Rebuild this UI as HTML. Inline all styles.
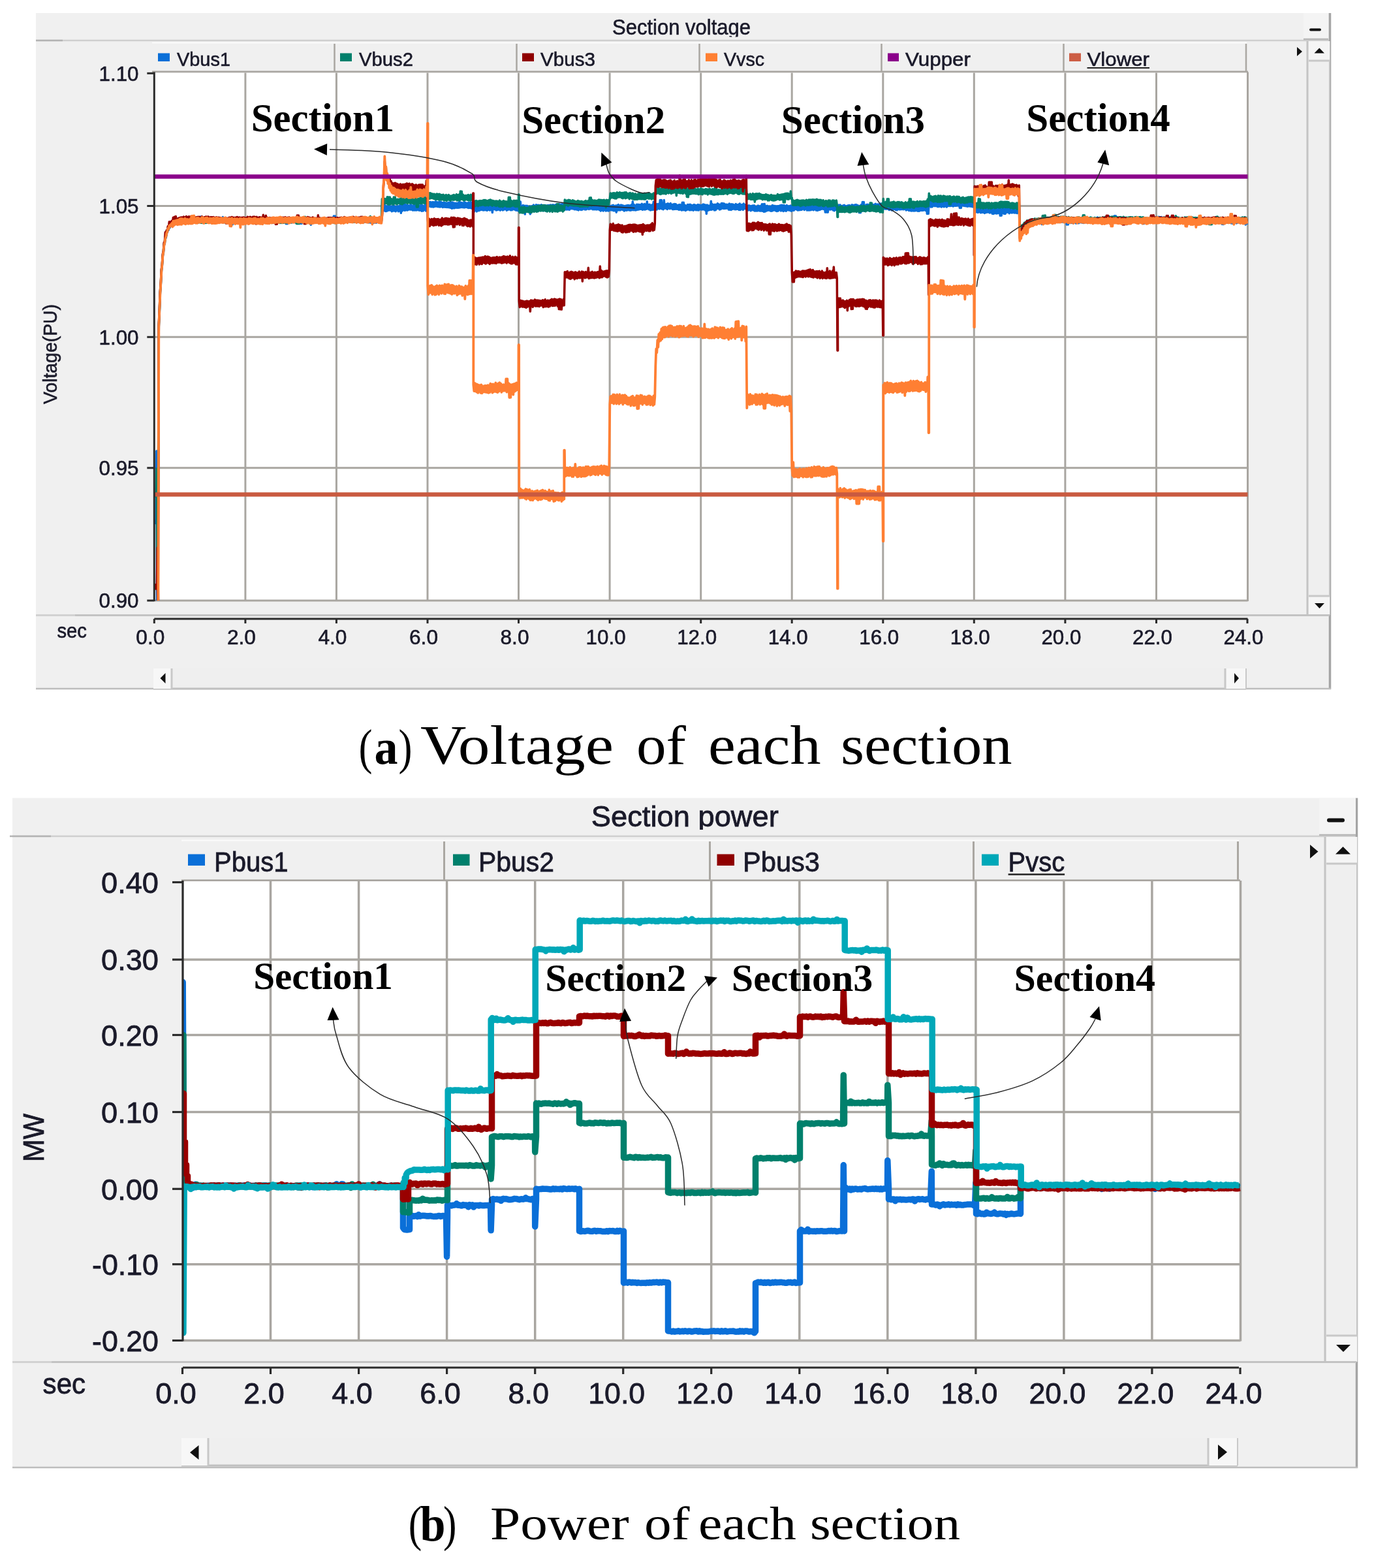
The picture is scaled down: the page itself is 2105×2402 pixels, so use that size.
<!DOCTYPE html><html><head><meta charset="utf-8"><title>Section voltage and power</title>
<style>html,body{margin:0;padding:0;background:#fff;}svg{display:block;filter:blur(0.45px);}</style></head><body>
<svg width="2105" height="2402" viewBox="0 0 2105 2402">
<rect x="0" y="0" width="2105" height="2402" fill="#ffffff"/>
<rect x="55" y="20" width="1984" height="1036" fill="#f0f0f0"/>
<line x1="55" y1="62" x2="2039" y2="62" stroke="#cfcfcf" stroke-width="2.5"/>
<line x1="55" y1="62" x2="96" y2="62" stroke="#b3b3b3" stroke-width="2.5"/>
<line x1="2037.5" y1="20" x2="2037.5" y2="1056" stroke="#a5a5a5" stroke-width="3.5"/>
<line x1="55" y1="1055" x2="2039" y2="1055" stroke="#bdbdbd" stroke-width="2.5"/>
<rect x="1997" y="20" width="38" height="40" fill="#f4f4f4"/>
<line x1="1997" y1="60" x2="2035" y2="60" stroke="#b8b8b8" stroke-width="2.5"/>
<line x1="2008" y1="45.5" x2="2022" y2="45.5" stroke="#111" stroke-width="4" stroke-linecap="round"/>
<clipPath id="clipa"><rect x="55" y="20" width="1984" height="36.5"/></clipPath>
<text x="938" y="53" font-family="'Liberation Sans', Arial, sans-serif" font-size="33" font-weight="normal" fill="#1a1a2a" text-anchor="start" textLength="212" lengthAdjust="spacingAndGlyphs" clip-path="url(#clipa)" stroke="#1a1a2a" stroke-width="0.6">Section voltage</text>
<rect x="233" y="65" width="1677" height="45" fill="#f0f0f0"/>
<line x1="233" y1="65.5" x2="1910" y2="65.5" stroke="#fbfbfb" stroke-width="2"/>
<line x1="233" y1="110" x2="1912" y2="110" stroke="#a9a6a1" stroke-width="3"/>
<line x1="512.5" y1="67" x2="512.5" y2="110" stroke="#aaa7a2" stroke-width="2.5"/>
<line x1="791.5" y1="67" x2="791.5" y2="110" stroke="#aaa7a2" stroke-width="2.5"/>
<line x1="1071.5" y1="67" x2="1071.5" y2="110" stroke="#aaa7a2" stroke-width="2.5"/>
<line x1="1350.5" y1="67" x2="1350.5" y2="110" stroke="#aaa7a2" stroke-width="2.5"/>
<line x1="1629.5" y1="67" x2="1629.5" y2="110" stroke="#aaa7a2" stroke-width="2.5"/>
<line x1="1909" y1="67" x2="1909" y2="110" stroke="#aaa7a2" stroke-width="2.5"/>
<rect x="242" y="81.5" width="18" height="12.5" fill="#0a6fd8"/>
<text x="271" y="101" font-family="'Liberation Sans', Arial, sans-serif" font-size="30" font-weight="normal" fill="#1a1a2a" text-anchor="start" textLength="82" lengthAdjust="spacingAndGlyphs" stroke="#1a1a2a" stroke-width="0.6">Vbus1</text>
<rect x="521" y="81.5" width="18" height="12.5" fill="#00806c"/>
<text x="550" y="101" font-family="'Liberation Sans', Arial, sans-serif" font-size="30" font-weight="normal" fill="#1a1a2a" text-anchor="start" textLength="83" lengthAdjust="spacingAndGlyphs" stroke="#1a1a2a" stroke-width="0.6">Vbus2</text>
<rect x="800" y="81.5" width="18" height="12.5" fill="#8f0000"/>
<text x="828" y="101" font-family="'Liberation Sans', Arial, sans-serif" font-size="30" font-weight="normal" fill="#1a1a2a" text-anchor="start" textLength="84" lengthAdjust="spacingAndGlyphs" stroke="#1a1a2a" stroke-width="0.6">Vbus3</text>
<rect x="1081" y="81.5" width="18" height="12.5" fill="#ff8033"/>
<text x="1109" y="101" font-family="'Liberation Sans', Arial, sans-serif" font-size="30" font-weight="normal" fill="#1a1a2a" text-anchor="start" textLength="62" lengthAdjust="spacingAndGlyphs" stroke="#1a1a2a" stroke-width="0.6">Vvsc</text>
<rect x="1360" y="81.5" width="17" height="12.5" fill="#8b008b"/>
<text x="1387" y="101" font-family="'Liberation Sans', Arial, sans-serif" font-size="30" font-weight="normal" fill="#1a1a2a" text-anchor="start" textLength="100" lengthAdjust="spacingAndGlyphs" stroke="#1a1a2a" stroke-width="0.6">Vupper</text>
<rect x="1638" y="81.5" width="18" height="12.5" fill="#cd5e45"/>
<text x="1665.5" y="101" font-family="'Liberation Sans', Arial, sans-serif" font-size="30" font-weight="normal" fill="#1a1a2a" text-anchor="start" textLength="95.5" lengthAdjust="spacingAndGlyphs" stroke="#1a1a2a" stroke-width="0.6">Vlower</text>
<line x1="1665.5" y1="104" x2="1761" y2="104" stroke="#222" stroke-width="2"/>
<polygon points="1987,72 1987,86 1995,79" fill="#111"/>
<rect x="2003" y="63" width="35" height="879" fill="#efefef"/>
<line x1="2003" y1="63" x2="2003" y2="942" stroke="#c4c4c4" stroke-width="3"/>
<line x1="2037" y1="63" x2="2037" y2="942" stroke="#c4c4c4" stroke-width="2"/>
<rect x="2005" y="63" width="32" height="30" fill="#f5f5f5"/>
<line x1="2005" y1="93" x2="2037" y2="93" stroke="#c8c8c8" stroke-width="3"/>
<rect x="2005" y="913" width="32" height="29" fill="#f5f5f5"/>
<line x1="2005" y1="913" x2="2037" y2="913" stroke="#c8c8c8" stroke-width="3"/>
<polygon points="2013.5,81.5 2029,81.5 2021.3,73.5" fill="#111"/>
<polygon points="2014,924 2029,924 2021.5,932" fill="#111"/>
<line x1="55" y1="942.5" x2="2037" y2="942.5" stroke="#c3c3c3" stroke-width="3"/>
<line x1="55" y1="942.5" x2="115" y2="942.5" stroke="#d2d2d2" stroke-width="3"/>
<rect x="235" y="1024" width="1674" height="31" fill="#efefef"/>
<line x1="235" y1="1055" x2="1909" y2="1055" stroke="#c0c0c0" stroke-width="3"/>
<rect x="235" y="1024" width="28" height="31" fill="#f7f7f7"/>
<line x1="263" y1="1024" x2="263" y2="1055" stroke="#c8c8c8" stroke-width="3"/>
<rect x="1877" y="1024" width="32" height="31" fill="#f7f7f7"/>
<line x1="1877" y1="1024" x2="1877" y2="1055" stroke="#c8c8c8" stroke-width="3"/>
<line x1="1909" y1="1024" x2="1909" y2="1055" stroke="#c8c8c8" stroke-width="2"/>
<polygon points="253.5,1031 253.5,1047 245.5,1039" fill="#111"/>
<polygon points="1891,1031 1891,1047 1898,1039" fill="#111"/>
<rect x="236.3" y="111.5" width="1675.2" height="808.5" fill="#ffffff"/>
<line x1="375.9" y1="111.5" x2="375.9" y2="920" stroke="#a9a6a1" stroke-width="3"/>
<line x1="515.4" y1="111.5" x2="515.4" y2="920" stroke="#a9a6a1" stroke-width="3"/>
<line x1="655" y1="111.5" x2="655" y2="920" stroke="#a9a6a1" stroke-width="3"/>
<line x1="794.5" y1="111.5" x2="794.5" y2="920" stroke="#a9a6a1" stroke-width="3"/>
<line x1="934.1" y1="111.5" x2="934.1" y2="920" stroke="#a9a6a1" stroke-width="3"/>
<line x1="1073.7" y1="111.5" x2="1073.7" y2="920" stroke="#a9a6a1" stroke-width="3"/>
<line x1="1213.2" y1="111.5" x2="1213.2" y2="920" stroke="#a9a6a1" stroke-width="3"/>
<line x1="1352.8" y1="111.5" x2="1352.8" y2="920" stroke="#a9a6a1" stroke-width="3"/>
<line x1="1492.3" y1="111.5" x2="1492.3" y2="920" stroke="#a9a6a1" stroke-width="3"/>
<line x1="1631.9" y1="111.5" x2="1631.9" y2="920" stroke="#a9a6a1" stroke-width="3"/>
<line x1="1771.5" y1="111.5" x2="1771.5" y2="920" stroke="#a9a6a1" stroke-width="3"/>
<line x1="236.3" y1="315.5" x2="1911.5" y2="315.5" stroke="#a9a6a1" stroke-width="3"/>
<line x1="236.3" y1="516.3" x2="1911.5" y2="516.3" stroke="#a9a6a1" stroke-width="3"/>
<line x1="236.3" y1="716.8" x2="1911.5" y2="716.8" stroke="#a9a6a1" stroke-width="3"/>
<line x1="1911.5" y1="110.5" x2="1911.5" y2="921" stroke="#a9a6a1" stroke-width="3"/>
<line x1="236.3" y1="920" x2="1911.5" y2="920" stroke="#a9a6a1" stroke-width="3"/>
<rect x="19" y="1222.5" width="2061" height="1026.5" fill="#f0f0f0"/>
<line x1="19" y1="1281" x2="2080" y2="1281" stroke="#cfcfcf" stroke-width="2.5"/>
<line x1="15" y1="1281" x2="78" y2="1281" stroke="#b3b3b3" stroke-width="2.5"/>
<line x1="2078.5" y1="1222.5" x2="2078.5" y2="2249" stroke="#a5a5a5" stroke-width="3.5"/>
<line x1="19" y1="2248" x2="2080" y2="2248" stroke="#bdbdbd" stroke-width="2.5"/>
<rect x="2021" y="1222.5" width="56" height="56.5" fill="#f4f4f4"/>
<line x1="2021" y1="1279" x2="2077" y2="1279" stroke="#b8b8b8" stroke-width="2.5"/>
<line x1="2036" y1="1256.5" x2="2057" y2="1256.5" stroke="#111" stroke-width="6" stroke-linecap="round"/>
<clipPath id="clipb"><rect x="19" y="1222.5" width="2061" height="48.5"/></clipPath>
<text x="905.8" y="1266.2" font-family="'Liberation Sans', Arial, sans-serif" font-size="43.5" font-weight="normal" fill="#1a1a2a" text-anchor="start" textLength="287" lengthAdjust="spacingAndGlyphs" clip-path="url(#clipb)" stroke="#1a1a2a" stroke-width="0.8">Section power</text>
<rect x="278" y="1287" width="1620" height="62" fill="#f0f0f0"/>
<line x1="278" y1="1287.5" x2="1898" y2="1287.5" stroke="#fbfbfb" stroke-width="2"/>
<line x1="278" y1="1349" x2="1900" y2="1349" stroke="#a9a6a1" stroke-width="3.5"/>
<line x1="680.5" y1="1289" x2="680.5" y2="1349" stroke="#aaa7a2" stroke-width="3"/>
<line x1="1087.5" y1="1289" x2="1087.5" y2="1349" stroke="#aaa7a2" stroke-width="3"/>
<line x1="1491.5" y1="1289" x2="1491.5" y2="1349" stroke="#aaa7a2" stroke-width="3"/>
<line x1="1896.5" y1="1289" x2="1896.5" y2="1349" stroke="#aaa7a2" stroke-width="3"/>
<rect x="288" y="1308.5" width="26" height="17.5" fill="#0a6fd8"/>
<text x="328" y="1335" font-family="'Liberation Sans', Arial, sans-serif" font-size="43" font-weight="normal" fill="#1a1a2a" text-anchor="start" textLength="113.5" lengthAdjust="spacingAndGlyphs" stroke="#1a1a2a" stroke-width="0.8">Pbus1</text>
<rect x="694" y="1308.5" width="25.5" height="17.5" fill="#00806c"/>
<text x="733" y="1335" font-family="'Liberation Sans', Arial, sans-serif" font-size="43" font-weight="normal" fill="#1a1a2a" text-anchor="start" textLength="116" lengthAdjust="spacingAndGlyphs" stroke="#1a1a2a" stroke-width="0.8">Pbus2</text>
<rect x="1098.5" y="1308.5" width="26.5" height="17.5" fill="#8f0000"/>
<text x="1138" y="1335" font-family="'Liberation Sans', Arial, sans-serif" font-size="43" font-weight="normal" fill="#1a1a2a" text-anchor="start" textLength="118" lengthAdjust="spacingAndGlyphs" stroke="#1a1a2a" stroke-width="0.8">Pbus3</text>
<rect x="1504" y="1308.5" width="26" height="17.5" fill="#00a8b8"/>
<text x="1544.6" y="1335" font-family="'Liberation Sans', Arial, sans-serif" font-size="43" font-weight="normal" fill="#1a1a2a" text-anchor="start" textLength="86.5" lengthAdjust="spacingAndGlyphs" stroke="#1a1a2a" stroke-width="0.8">Pvsc</text>
<line x1="1544.6" y1="1339.5" x2="1631.1" y2="1339.5" stroke="#222" stroke-width="2.5"/>
<polygon points="2007,1294 2007,1315 2019.5,1304.5" fill="#111"/>
<rect x="2030" y="1282" width="50" height="804" fill="#efefef"/>
<line x1="2030" y1="1282" x2="2030" y2="2086" stroke="#c4c4c4" stroke-width="3"/>
<line x1="2079" y1="1282" x2="2079" y2="2086" stroke="#c4c4c4" stroke-width="2"/>
<rect x="2032" y="1282" width="47" height="41" fill="#f5f5f5"/>
<line x1="2032" y1="1323" x2="2079" y2="1323" stroke="#c8c8c8" stroke-width="3"/>
<rect x="2032" y="2046" width="47" height="40" fill="#f5f5f5"/>
<line x1="2032" y1="2046" x2="2079" y2="2046" stroke="#c8c8c8" stroke-width="3"/>
<polygon points="2046,1308.5 2069,1308.5 2057.5,1297" fill="#111"/>
<polygon points="2047,2060 2069,2060 2058,2071" fill="#111"/>
<line x1="19" y1="2086.5" x2="2078" y2="2086.5" stroke="#c3c3c3" stroke-width="3"/>
<line x1="19" y1="2086.5" x2="79" y2="2086.5" stroke="#d2d2d2" stroke-width="3"/>
<rect x="278" y="2203" width="1618" height="42" fill="#efefef"/>
<line x1="278" y1="2245" x2="1896" y2="2245" stroke="#c0c0c0" stroke-width="3"/>
<rect x="278" y="2203" width="41" height="42" fill="#f7f7f7"/>
<line x1="319" y1="2203" x2="319" y2="2245" stroke="#c8c8c8" stroke-width="3"/>
<rect x="1851" y="2203" width="45" height="42" fill="#f7f7f7"/>
<line x1="1851" y1="2203" x2="1851" y2="2245" stroke="#c8c8c8" stroke-width="3"/>
<line x1="1896" y1="2203" x2="1896" y2="2245" stroke="#c8c8c8" stroke-width="2"/>
<polygon points="304.5,2214 304.5,2236 291,2225" fill="#111"/>
<polygon points="1866,2213 1866,2236 1880,2224.5" fill="#111"/>
<rect x="280" y="1350" width="1620.5" height="703.5" fill="#ffffff"/>
<line x1="414.5" y1="1350" x2="414.5" y2="2053.5" stroke="#a9a6a1" stroke-width="3.5"/>
<line x1="549.6" y1="1350" x2="549.6" y2="2053.5" stroke="#a9a6a1" stroke-width="3.5"/>
<line x1="684.6" y1="1350" x2="684.6" y2="2053.5" stroke="#a9a6a1" stroke-width="3.5"/>
<line x1="819.7" y1="1350" x2="819.7" y2="2053.5" stroke="#a9a6a1" stroke-width="3.5"/>
<line x1="954.7" y1="1350" x2="954.7" y2="2053.5" stroke="#a9a6a1" stroke-width="3.5"/>
<line x1="1089.7" y1="1350" x2="1089.7" y2="2053.5" stroke="#a9a6a1" stroke-width="3.5"/>
<line x1="1224.8" y1="1350" x2="1224.8" y2="2053.5" stroke="#a9a6a1" stroke-width="3.5"/>
<line x1="1359.8" y1="1350" x2="1359.8" y2="2053.5" stroke="#a9a6a1" stroke-width="3.5"/>
<line x1="1494.9" y1="1350" x2="1494.9" y2="2053.5" stroke="#a9a6a1" stroke-width="3.5"/>
<line x1="1629.9" y1="1350" x2="1629.9" y2="2053.5" stroke="#a9a6a1" stroke-width="3.5"/>
<line x1="1764.9" y1="1350" x2="1764.9" y2="2053.5" stroke="#a9a6a1" stroke-width="3.5"/>
<line x1="280" y1="1470" x2="1900.5" y2="1470" stroke="#a9a6a1" stroke-width="3.5"/>
<line x1="280" y1="1585.5" x2="1900.5" y2="1585.5" stroke="#a9a6a1" stroke-width="3.5"/>
<line x1="280" y1="1703.5" x2="1900.5" y2="1703.5" stroke="#a9a6a1" stroke-width="3.5"/>
<line x1="280" y1="1821.3" x2="1900.5" y2="1821.3" stroke="#a9a6a1" stroke-width="3.5"/>
<line x1="280" y1="1936.7" x2="1900.5" y2="1936.7" stroke="#a9a6a1" stroke-width="3.5"/>
<line x1="1900.5" y1="1349" x2="1900.5" y2="2054.5" stroke="#a9a6a1" stroke-width="3.5"/>
<line x1="280" y1="2053.5" x2="1900.5" y2="2053.5" stroke="#a9a6a1" stroke-width="3.5"/>
<clipPath id="cpa"><rect x="236" y="112" width="1676" height="808"/></clipPath>
<clipPath id="cpb"><rect x="280" y="1351" width="1621" height="703"/></clipPath>
<path d="M236.3,801.5 L237.3,798.1 L238.3,801.5 L239.3,797.6 L239.8,690.9 L240.4,690.9 L240.3,802.3 L240.5,919.9 L241.1,919.9 L241.3,798 L242.3,801.9 L243.3,500.5 L244.3,478.1 L245.3,450.8 L246.3,436.2 L247.3,416.2 L248.3,407.7 L249.3,392.4 L250.3,388.2 L251.3,375.8 L252.3,373.6 L253.3,363.2 L254.3,364.3 L255.3,355.3 L256.3,356.2 L257.3,349.9 L258.3,352.1 L259.3,344.7 L260.3,348.5 L261.3,342.2 L262.3,346.3 L263.3,340.2 L264.3,343.5 L265.3,338.6 L266.3,343.3 L267.3,338 L268.3,341.5 L269.3,337.6 L270.3,341 L271.3,337.2 L272.3,341.1 L273.3,337 L274.3,341.1 L275.3,335.8 L276.3,340.6 L277.3,336.4 L278.3,341.4 L279.3,336.5 L280.3,340.4 L281.3,335.9 L282.3,340 L283.3,336.2 L284.3,341.3 L285.3,335.9 L286.3,340.8 L287.3,335.4 L288.3,341 L289.3,336 L290.3,339.9 L291.3,336.3 L292.3,339.9 L293.3,335.9 L294.3,339.6 L295.3,336.1 L296.3,339.5 L297.3,335.3 L298.3,339.7 L299.3,335.6 L300.3,340.5 L301.3,335.4 L302.3,339.4 L303.3,335.6 L304.3,340.5 L305.3,336 L306.3,340.1 L307.3,331.9 L308.3,340.4 L309.3,332 L310.3,340.1 L311.3,336.1 L312.3,340.4 L313.3,336 L314.3,340.9 L315.3,335.5 L316.3,341.1 L317.3,336.5 L318.3,340.6 L319.3,333.3 L320.3,341.1 L321.3,335.9 L322.3,340.8 L323.3,337 L324.3,341 L325.3,336.5 L326.3,341.2 L327.3,334.3 L328.3,341.6 L329.3,334.3 L330.3,341.4 L331.3,336.8 L332.3,340.8 L333.3,335.7 L334.3,340.8 L335.3,336 L336.3,340.4 L337.3,335.6 L338.3,340.3 L339.3,335.5 L340.3,340.5 L341.3,332.4 L342.3,340.6 L343.3,335.5 L344.3,340.3 L345.3,336.3 L346.3,340.8 L347.3,336.1 L348.3,341.3 L349.3,336.1 L350.3,341.3 L351.3,335.6 L352.3,340.9 L353.3,336.9 L354.3,343.8 L355.3,336 L356.3,343.8 L357.3,336.6 L358.3,341.1 L359.3,336.9 L360.3,340.7 L361.3,336 L362.3,341.1 L363.3,335.8 L364.3,341.1 L365.3,336.3 L366.3,340.9 L367.3,336.3 L368.3,341.1 L369.3,335.5 L370.3,340.8 L371.3,335.5 L372.3,340 L373.3,336.4 L374.3,339.8 L375.3,335.3 L376.3,339.8 L377.3,335.3 L378.3,340.6 L379.3,335.7 L380.3,339.8 L381.3,334.6 L382.3,339.4 L383.3,335.1 L384.3,339.3 L385.3,334.7 L386.3,341.7 L387.3,334.8 L388.3,341.7 L389.3,335.6 L390.3,340.3 L391.3,334.4 L392.3,339.4 L393.3,334.7 L394.3,339.2 L395.3,334.6 L396.3,339.5 L397.3,334.6 L398.3,340.1 L399.3,335.8 L400.3,339.8 L401.3,334.7 L402.3,340.3 L403.3,334.8 L404.3,340.4 L405.3,335.5 L406.3,340.5 L407.3,335.7 L408.3,339.5 L409.3,335.6 L410.3,339.4 L411.3,335.3 L412.3,339.4 L413.3,335.4 L414.3,339 L415.3,335.6 L416.3,339.6 L417.3,334.9 L418.3,338.9 L419.3,334.9 L420.3,339.9 L421.3,334.7 L422.3,340 L423.3,334.3 L424.3,339.6 L425.3,335 L426.3,338.9 L427.3,334.5 L428.3,339.1 L429.3,334.5 L430.3,339.9 L431.3,335.4 L432.3,339.7 L433.3,335.3 L434.3,340.5 L435.3,335.3 L436.3,340.7 L437.3,335.7 L438.3,342.7 L439.3,335.9 L440.3,342.8 L441.3,336.3 L442.3,340.8 L443.3,335.7 L444.3,340.2 L445.3,336.4 L446.3,341 L447.3,335.3 L448.3,340.7 L449.3,335.6 L450.3,340.2 L451.3,336.3 L452.3,340.7 L453.3,335.9 L454.3,340.4 L455.3,335.4 L456.3,342.4 L457.3,335.4 L458.3,342.4 L459.3,335.7 L460.3,342.2 L461.3,335.1 L462.3,342.2 L463.3,335.5 L464.3,340.4 L465.3,335.2 L466.3,339.6 L467.3,335.2 L468.3,340.5 L469.3,335.6 L470.3,340.2 L471.3,335.3 L472.3,340.5 L473.3,336.2 L474.3,340.7 L475.3,335.7 L476.3,344.2 L477.3,336.2 L478.3,340.8 L479.3,335.9 L480.3,341.2 L481.3,336.2 L482.3,340.5 L483.3,336.5 L484.3,341.2 L485.3,336 L486.3,341.1 L487.3,336.4 L488.3,340.1 L489.3,335.6 L490.3,340 L491.3,335.8 L492.3,340.7 L493.3,335.9 L494.3,340.3 L495.3,335 L496.3,339.7 L497.3,335.4 L498.3,339.5 L499.3,334.4 L500.3,339 L501.3,335.2 L502.3,339.4 L503.3,335.4 L504.3,339.8 L505.3,335.1 L506.3,339.6 L507.3,335.2 L508.3,339.3 L509.3,334.4 L510.3,339.3 L511.3,331.1 L512.3,339.8 L513.3,331.1 L514.3,339.9 L515.3,335 L516.3,339.8 L517.3,335.6 L518.3,339.2 L519.3,335.3 L520.3,340.1 L521.3,335.5 L522.3,339.5 L523.3,335.3 L524.3,339.4 L525.3,334.6 L526.3,339.5 L527.3,334.5 L528.3,339.3 L529.3,335.7 L530.3,339.2 L531.3,335.4 L532.3,340.2 L533.3,335.2 L534.3,339.7 L535.3,335.2 L536.3,339.3 L537.3,335.4 L538.3,339.7 L539.3,335.3 L540.3,339.2 L541.3,334.9 L542.3,340 L543.3,335.5 L544.3,339.8 L545.3,335 L546.3,338.9 L547.3,334.4 L548.3,340.2 L549.3,335.5 L550.3,339.4 L551.3,335 L552.3,340.3 L553.3,335 L554.3,340.2 L555.3,335.2 L556.3,340.9 L557.3,336 L558.3,340.1 L559.3,335.6 L560.3,340 L561.3,335.9 L562.3,340.4 L563.3,336.8 L564.3,340.8 L565.3,336 L566.3,340.8 L567.3,336.6 L568.3,341.2 L569.3,336.9 L570.3,341.1 L571.3,336.5 L572.3,341.4 L573.3,336.8 L574.3,340.7 L575.3,336.5 L576.3,341.1 L577.3,336.5 L578.3,340.4 L579.3,336.4 L580.3,341 L581.3,335.4 L582.3,340.2 L583.3,336.1 L584.3,341.2 L585.3,315.2 L586.3,323.4 L587.3,315.9 L588.3,322.2 L589.3,314.2 L590.3,323.6 L591.3,315.5 L592.3,323.6 L593.3,316.3 L594.3,322.5 L595.3,315.8 L596.3,321.9 L597.3,315.9 L598.3,322.2 L599.3,316.3 L600.3,323.8 L601.3,315.9 L602.3,323.1 L603.3,314.8 L604.3,322.9 L605.3,316.7 L606.3,323.8 L607.3,316.6 L608.3,322 L609.3,316 L610.3,323.7 L611.3,315.8 L612.3,322.9 L613.3,314.6 L614.3,326.3 L615.3,314.9 L616.3,323.1 L617.3,314.8 L618.3,321.8 L619.3,313.5 L620.3,322.4 L621.3,313.5 L622.3,321.8 L623.3,314.5 L624.3,322.1 L625.3,314.7 L626.3,320.9 L627.3,315 L628.3,321 L629.3,313.2 L630.3,321 L631.3,314.9 L632.3,322 L633.3,314.7 L634.3,321.9 L635.3,313.8 L636.3,322.1 L637.3,313.7 L638.3,322.1 L639.3,314 L640.3,321.5 L641.3,315.4 L642.3,322.3 L643.3,314.9 L644.3,322.2 L645.3,314.1 L646.3,323.2 L647.3,314.8 L648.3,322.9 L649.3,315.7 L650.3,321.3 L651.3,313.6 L652.3,322.9 L653.3,313.7 L654.3,321.4 L655.3,308.2 L656.3,316.8 L657.3,309.7 L658.3,315.7 L659.3,309.5 L660.3,316.7 L661.3,310 L662.3,316.8 L663.3,309.4 L664.3,317.1 L665.3,310 L666.3,316.3 L667.3,308.8 L668.3,315.9 L669.3,309.5 L670.3,316.4 L671.3,309.9 L672.3,316.8 L673.3,309 L674.3,317 L675.3,309.5 L676.3,316.5 L677.3,310.4 L678.3,317.6 L679.3,310.5 L680.3,317 L681.3,310.4 L682.3,317.3 L683.3,311.1 L684.3,317.5 L685.3,310.9 L686.3,317.5 L687.3,310.3 L688.3,317.7 L689.3,310 L690.3,318.3 L691.3,310 L692.3,319.2 L693.3,310.1 L694.3,318.8 L695.3,310.9 L696.3,318.8 L697.3,311.2 L698.3,318 L699.3,311.3 L700.3,318.3 L701.3,311.3 L702.3,318.3 L703.3,309.5 L704.3,317.9 L705.3,310 L706.3,317.5 L707.3,310.4 L708.3,317.6 L709.3,311.3 L710.3,317.8 L711.3,309.8 L712.3,317.8 L713.3,310.5 L714.3,317.2 L715.3,311.5 L716.3,318.1 L717.3,310.4 L718.3,318.6 L719.3,310.7 L720.3,318.2 L721.3,309.8 L722.3,319 L723.3,310.3 L724.3,317.5 L725.3,316 L726.3,324.2 L727.3,315.2 L728.3,322.2 L729.3,315.1 L730.3,323.9 L731.3,314.8 L732.3,322.8 L733.3,315.8 L734.3,322.5 L735.3,315.9 L736.3,321.5 L737.3,314.3 L738.3,321.3 L739.3,315.3 L740.3,322.1 L741.3,313.4 L742.3,321.8 L743.3,314.9 L744.3,321.7 L745.3,313.3 L746.3,322.4 L747.3,314.2 L748.3,321.2 L749.3,313.4 L750.3,322 L751.3,313.6 L752.3,321.6 L753.3,314.4 L754.3,325.6 L755.3,314.3 L756.3,320.6 L757.3,314 L758.3,320.7 L759.3,314.7 L760.3,321.9 L761.3,314.8 L762.3,321.6 L763.3,309.9 L764.3,320.9 L765.3,309.9 L766.3,322.2 L767.3,313.7 L768.3,320.9 L769.3,313.5 L770.3,321.9 L771.3,314.2 L772.3,320.9 L773.3,309.7 L774.3,320.6 L775.3,315.1 L776.3,322.3 L777.3,314.5 L778.3,321.3 L779.3,313.1 L780.3,320.8 L781.3,314.7 L782.3,321.8 L783.3,314.8 L784.3,321.7 L785.3,313.2 L786.3,320.6 L787.3,314.4 L788.3,321 L789.3,313.6 L790.3,322 L791.3,314 L792.3,322.3 L793.3,314.9 L794.3,322.9 L795.3,308.9 L796.3,321.5 L797.3,309.1 L798.3,323.3 L799.3,315.7 L800.3,322.8 L801.3,314.4 L802.3,323.7 L803.3,315.2 L804.3,328.1 L805.3,315.3 L806.3,322.5 L807.3,315.2 L808.3,323.8 L809.3,316.4 L810.3,323.7 L811.3,316.1 L812.3,327.8 L813.3,316.2 L814.3,323.4 L815.3,315.7 L816.3,322.5 L817.3,314.1 L818.3,322.8 L819.3,315.4 L820.3,321.2 L821.3,313.8 L822.3,321.2 L823.3,314.3 L824.3,321.2 L825.3,314.2 L826.3,321.6 L827.3,314.8 L828.3,321 L829.3,313.7 L830.3,322.2 L831.3,315.1 L832.3,322.7 L833.3,314.6 L834.3,322.1 L835.3,314.6 L836.3,323 L837.3,315.3 L838.3,322.4 L839.3,314.4 L840.3,322 L841.3,314.5 L842.3,323.4 L843.3,313.9 L844.3,322.5 L845.3,314.2 L846.3,321.7 L847.3,313.8 L848.3,322.1 L849.3,314.4 L850.3,321.5 L851.3,313.4 L852.3,322.2 L853.3,313.8 L854.3,321 L855.3,313.8 L856.3,322.2 L857.3,312.7 L858.3,321.1 L859.3,313.2 L860.3,320.9 L861.3,312.4 L862.3,320.6 L863.3,313.1 L864.3,319.9 L865.3,313.3 L866.3,320.7 L867.3,313.3 L868.3,321 L869.3,312.4 L870.3,320.8 L871.3,313.2 L872.3,321.3 L873.3,312 L874.3,319.7 L875.3,313.7 L876.3,319.8 L877.3,313.6 L878.3,319.9 L879.3,313.8 L880.3,320.7 L881.3,308.7 L882.3,320.8 L883.3,308.8 L884.3,321.2 L885.3,313.7 L886.3,321.9 L887.3,313.4 L888.3,320.8 L889.3,313 L890.3,321.5 L891.3,312.7 L892.3,321.1 L893.3,313.7 L894.3,319.9 L895.3,312.6 L896.3,320.9 L897.3,313.3 L898.3,320.8 L899.3,312.7 L900.3,319.8 L901.3,312.4 L902.3,320.4 L903.3,314 L904.3,319.7 L905.3,312.1 L906.3,319.7 L907.3,313.1 L908.3,320.7 L909.3,312.6 L910.3,320.7 L911.3,314.1 L912.3,320.8 L913.3,314.6 L914.3,321 L915.3,314.5 L916.3,320.5 L917.3,314.4 L918.3,321.5 L919.3,315.1 L920.3,323 L921.3,315.3 L922.3,322 L923.3,315.6 L924.3,323 L925.3,315 L926.3,321.8 L927.3,315.3 L928.3,323.1 L929.3,315.1 L930.3,322.5 L931.3,314.2 L932.3,323.1 L933.3,315.1 L934.3,322.1 L935.3,315.8 L936.3,321.7 L937.3,315.1 L938.3,321.9 L939.3,314.2 L940.3,322.8 L941.3,315.4 L942.3,322.7 L943.3,315.1 L944.3,325.2 L945.3,314.8 L946.3,322 L947.3,313.5 L948.3,321.7 L949.3,315 L950.3,321.9 L951.3,314 L952.3,321 L953.3,314.4 L954.3,321.6 L955.3,315.3 L956.3,322.9 L957.3,315.6 L958.3,322.1 L959.3,314.9 L960.3,322.3 L961.3,314.5 L962.3,321.6 L963.3,314.4 L964.3,322 L965.3,314.9 L966.3,322.2 L967.3,313.7 L968.3,321.5 L969.3,308.8 L970.3,321.7 L971.3,313.5 L972.3,321.8 L973.3,315.3 L974.3,321.9 L975.3,313.3 L976.3,321.3 L977.3,313.3 L978.3,321 L979.3,313.5 L980.3,320.5 L981.3,313.7 L982.3,320.3 L983.3,312.3 L984.3,321.3 L985.3,313.6 L986.3,320.8 L987.3,312.6 L988.3,321.1 L989.3,313.1 L990.3,320.3 L991.3,308.7 L992.3,319.8 L993.3,313.4 L994.3,320.7 L995.3,313.2 L996.3,321.9 L997.3,314.7 L998.3,321.5 L999.3,313.5 L1000.3,321.2 L1001.3,309.1 L1002.3,321 L1003.3,309.3 L1004.3,319.8 L1005.3,312.7 L1006.3,321 L1007.3,312.5 L1008.3,319.2 L1009.3,312.4 L1010.3,319.9 L1011.3,306.5 L1012.3,319.2 L1013.3,306.4 L1014.3,320 L1015.3,313.3 L1016.3,320.7 L1017.3,306.6 L1018.3,319.1 L1019.3,313.1 L1020.3,319.2 L1021.3,312.4 L1022.3,320.6 L1023.3,311.7 L1024.3,319 L1025.3,312.8 L1026.3,319.8 L1027.3,311.6 L1028.3,319 L1029.3,313.6 L1030.3,320.6 L1031.3,313.1 L1032.3,320.6 L1033.3,312.4 L1034.3,320.2 L1035.3,312.8 L1036.3,320.2 L1037.3,314.4 L1038.3,320.4 L1039.3,313.9 L1040.3,321.3 L1041.3,313.5 L1042.3,321.1 L1043.3,313.9 L1044.3,322 L1045.3,310.2 L1046.3,321.7 L1047.3,310.3 L1048.3,321.6 L1049.3,314.2 L1050.3,322.5 L1051.3,315.5 L1052.3,321.6 L1053.3,313.6 L1054.3,320.7 L1055.3,313.5 L1056.3,321.7 L1057.3,313.3 L1058.3,321.8 L1059.3,314.3 L1060.3,321.4 L1061.3,314.5 L1062.3,322.2 L1063.3,313.5 L1064.3,321.1 L1065.3,314.2 L1066.3,321.8 L1067.3,314.6 L1068.3,321.8 L1069.3,313.6 L1070.3,322 L1071.3,313.9 L1072.3,320.6 L1073.3,314.6 L1074.3,321.1 L1075.3,314.2 L1076.3,320.7 L1077.3,313 L1078.3,320.7 L1079.3,313.6 L1080.3,321.9 L1081.3,314.2 L1082.3,327.4 L1083.3,314.1 L1084.3,322.6 L1085.3,315.1 L1086.3,321.8 L1087.3,314.9 L1088.3,321.2 L1089.3,308.2 L1090.3,321.3 L1091.3,312.8 L1092.3,320.2 L1093.3,313.8 L1094.3,321.9 L1095.3,313.2 L1096.3,321.7 L1097.3,313.4 L1098.3,319.7 L1099.3,311.8 L1100.3,319.3 L1101.3,313 L1102.3,320.9 L1103.3,313.5 L1104.3,320.4 L1105.3,311.4 L1106.3,319.1 L1107.3,311.5 L1108.3,319.4 L1109.3,311.9 L1110.3,319.5 L1111.3,313.3 L1112.3,319.2 L1113.3,313.3 L1114.3,319 L1115.3,313.4 L1116.3,321.1 L1117.3,311.9 L1118.3,321.2 L1119.3,313.1 L1120.3,321.4 L1121.3,312.8 L1122.3,320.3 L1123.3,313.3 L1124.3,319.9 L1125.3,314.2 L1126.3,320.8 L1127.3,312.5 L1128.3,320.5 L1129.3,313.8 L1130.3,320.3 L1131.3,313.2 L1132.3,321.5 L1133.3,312.1 L1134.3,321.4 L1135.3,313.7 L1136.3,320 L1137.3,313.6 L1138.3,321.4 L1139.3,311.9 L1140.3,319.8 L1141.3,313.8 L1142.3,319.8 L1143.3,313.8 L1144.3,321.5 L1145.3,315.5 L1146.3,322 L1147.3,314.7 L1148.3,321.4 L1149.3,315.4 L1150.3,322.8 L1151.3,315.5 L1152.3,321.5 L1153.3,315.1 L1154.3,322 L1155.3,314.8 L1156.3,323 L1157.3,316.4 L1158.3,322.9 L1159.3,316.7 L1160.3,322.9 L1161.3,315.1 L1162.3,322.4 L1163.3,316.1 L1164.3,323 L1165.3,315.4 L1166.3,322.9 L1167.3,312.7 L1168.3,323.3 L1169.3,312.7 L1170.3,324.3 L1171.3,312.6 L1172.3,324.1 L1173.3,315.8 L1174.3,322.9 L1175.3,315.3 L1176.3,322.2 L1177.3,316.5 L1178.3,322.1 L1179.3,316.2 L1180.3,323 L1181.3,316.4 L1182.3,323.3 L1183.3,314.5 L1184.3,322.6 L1185.3,315.3 L1186.3,321.7 L1187.3,315.6 L1188.3,322.7 L1189.3,315.9 L1190.3,323.4 L1191.3,315.7 L1192.3,323 L1193.3,315.4 L1194.3,321.6 L1195.3,314.8 L1196.3,322.9 L1197.3,314.3 L1198.3,322.5 L1199.3,314.6 L1200.3,323.6 L1201.3,314.4 L1202.3,322.6 L1203.3,315.8 L1204.3,323.2 L1205.3,314.5 L1206.3,321.7 L1207.3,315.9 L1208.3,321.9 L1209.3,315.7 L1210.3,322.2 L1211.3,315 L1212.3,323.2 L1213.3,315.6 L1214.3,322.2 L1215.3,314.1 L1216.3,322.3 L1217.3,315 L1218.3,320.4 L1219.3,314.9 L1220.3,320.9 L1221.3,314.6 L1222.3,321.9 L1223.3,314.4 L1224.3,321.8 L1225.3,313.3 L1226.3,321.6 L1227.3,313.8 L1228.3,321.2 L1229.3,313.4 L1230.3,320.1 L1231.3,313.2 L1232.3,321.6 L1233.3,313.4 L1234.3,319.9 L1235.3,314.2 L1236.3,322 L1237.3,312.7 L1238.3,322.1 L1239.3,314.1 L1240.3,322.1 L1241.3,309.6 L1242.3,321.7 L1243.3,313.9 L1244.3,321.1 L1245.3,314 L1246.3,321.8 L1247.3,314.2 L1248.3,320.7 L1249.3,313.8 L1250.3,322.1 L1251.3,313.2 L1252.3,322.4 L1253.3,313.6 L1254.3,321.7 L1255.3,314.6 L1256.3,321.2 L1257.3,313.9 L1258.3,320.3 L1259.3,314 L1260.3,320.1 L1261.3,313.1 L1262.3,320.6 L1263.3,313.4 L1264.3,325 L1265.3,313.4 L1266.3,325.1 L1267.3,313.7 L1268.3,325.2 L1269.3,314.3 L1270.3,320.8 L1271.3,313.6 L1272.3,321 L1273.3,313.2 L1274.3,320.6 L1275.3,313.4 L1276.3,321.9 L1277.3,314.2 L1278.3,322.8 L1279.3,314.9 L1280.3,321.3 L1281.3,311.4 L1282.3,322.1 L1283.3,315.3 L1284.3,322.7 L1285.3,314.1 L1286.3,322.5 L1287.3,314.1 L1288.3,322.7 L1289.3,315.9 L1290.3,323.6 L1291.3,315.1 L1292.3,323.3 L1293.3,314.3 L1294.3,323.2 L1295.3,315.6 L1296.3,322.2 L1297.3,315.4 L1298.3,322.3 L1299.3,314.8 L1300.3,322.2 L1301.3,314.6 L1302.3,321.3 L1303.3,315.3 L1304.3,322.4 L1305.3,313.8 L1306.3,321.6 L1307.3,314.6 L1308.3,321.6 L1309.3,314 L1310.3,320.7 L1311.3,313.6 L1312.3,320.7 L1313.3,314.2 L1314.3,321.9 L1315.3,315.2 L1316.3,325.7 L1317.3,315.4 L1318.3,325.8 L1319.3,313.7 L1320.3,321 L1321.3,309.6 L1322.3,322.9 L1323.3,309.6 L1324.3,322.2 L1325.3,315.4 L1326.3,322.6 L1327.3,313.5 L1328.3,321.3 L1329.3,313.2 L1330.3,322.5 L1331.3,314.3 L1332.3,320.8 L1333.3,313 L1334.3,321.8 L1335.3,314.3 L1336.3,320.2 L1337.3,313.8 L1338.3,319.9 L1339.3,313.4 L1340.3,319.5 L1341.3,312.2 L1342.3,319.8 L1343.3,313.3 L1344.3,319.2 L1345.3,313 L1346.3,320.5 L1347.3,313.1 L1348.3,319.3 L1349.3,311.9 L1350.3,319.4 L1351.3,312.2 L1352.3,321.2 L1353.3,311.9 L1354.3,319.7 L1355.3,313.8 L1356.3,320 L1357.3,312.9 L1358.3,320.1 L1359.3,313.9 L1360.3,320 L1361.3,313.4 L1362.3,321.5 L1363.3,313.2 L1364.3,320.7 L1365.3,314.6 L1366.3,321.9 L1367.3,313.4 L1368.3,321.3 L1369.3,313.7 L1370.3,320.2 L1371.3,314.3 L1372.3,321.6 L1373.3,313.9 L1374.3,321.7 L1375.3,312.8 L1376.3,320.5 L1377.3,310.2 L1378.3,320.9 L1379.3,310.2 L1380.3,320.7 L1381.3,314.3 L1382.3,320.4 L1383.3,314.1 L1384.3,320.7 L1385.3,313.6 L1386.3,320.2 L1387.3,313.5 L1388.3,322.1 L1389.3,314.3 L1390.3,321.3 L1391.3,313.6 L1392.3,322.4 L1393.3,313.6 L1394.3,322.6 L1395.3,314.2 L1396.3,323 L1397.3,315.7 L1398.3,322.8 L1399.3,314 L1400.3,323 L1401.3,314.9 L1402.3,322.7 L1403.3,314.3 L1404.3,322.5 L1405.3,315 L1406.3,323.2 L1407.3,315.1 L1408.3,323.3 L1409.3,314.9 L1410.3,322.3 L1411.3,314.8 L1412.3,322.2 L1413.3,314.8 L1414.3,322.2 L1415.3,316 L1416.3,321.7 L1417.3,315.9 L1418.3,322.5 L1419.3,314.5 L1420.3,327.4 L1421.3,315.6 L1422.3,327.3 L1423.3,308.5 L1424.3,315.5 L1425.3,309.4 L1426.3,317 L1427.3,309.3 L1428.3,316.8 L1429.3,309.2 L1430.3,315 L1431.3,309.6 L1432.3,315.7 L1433.3,309.1 L1434.3,315.5 L1435.3,308.7 L1436.3,316.4 L1437.3,309 L1438.3,316.4 L1439.3,309.4 L1440.3,316 L1441.3,308.1 L1442.3,317.1 L1443.3,309.4 L1444.3,316.1 L1445.3,308.6 L1446.3,316.8 L1447.3,304.9 L1448.3,315.7 L1449.3,304.8 L1450.3,317 L1451.3,304.7 L1452.3,315.4 L1453.3,307.9 L1454.3,315.5 L1455.3,307.7 L1456.3,315.4 L1457.3,308.4 L1458.3,314.9 L1459.3,307.8 L1460.3,316 L1461.3,306.9 L1462.3,315.1 L1463.3,308.4 L1464.3,315.2 L1465.3,307.1 L1466.3,314.8 L1467.3,308.4 L1468.3,314.8 L1469.3,307 L1470.3,318.4 L1471.3,307.2 L1472.3,318.5 L1473.3,308.7 L1474.3,314.2 L1475.3,308.6 L1476.3,315.1 L1477.3,303.5 L1478.3,315.6 L1479.3,303.6 L1480.3,315.8 L1481.3,309.2 L1482.3,316.2 L1483.3,307.9 L1484.3,315.7 L1485.3,308.5 L1486.3,315.9 L1487.3,309.5 L1488.3,316.3 L1489.3,308 L1490.3,316.7 L1491.3,309.5 L1492.3,316.3 L1493.3,318.3 L1494.3,325.3 L1495.3,318.5 L1496.3,324.7 L1497.3,318.5 L1498.3,325.6 L1499.3,317.4 L1500.3,324.6 L1501.3,317.7 L1502.3,325.7 L1503.3,317.6 L1504.3,325.6 L1505.3,318.6 L1506.3,325.3 L1507.3,316.9 L1508.3,326.4 L1509.3,318.1 L1510.3,325.7 L1511.3,318.9 L1512.3,324.9 L1513.3,318.2 L1514.3,325 L1515.3,318.2 L1516.3,326.1 L1517.3,319.7 L1518.3,325.6 L1519.3,319.8 L1520.3,327.2 L1521.3,319.6 L1522.3,327.5 L1523.3,320.6 L1524.3,326.4 L1525.3,319.6 L1526.3,327.1 L1527.3,320 L1528.3,326.7 L1529.3,320.7 L1530.3,326.5 L1531.3,319.2 L1532.3,330.3 L1533.3,318.9 L1534.3,330.2 L1535.3,319.3 L1536.3,326.3 L1537.3,319.5 L1538.3,327.4 L1539.3,318.6 L1540.3,327.4 L1541.3,314.2 L1542.3,325.2 L1543.3,314.1 L1544.3,325.2 L1545.3,318.3 L1546.3,326.8 L1547.3,318.2 L1548.3,325.4 L1549.3,318.5 L1550.3,326.1 L1551.3,319.4 L1552.3,325.4 L1553.3,318.1 L1554.3,326 L1555.3,319.1 L1556.3,326.1 L1557.3,319.3 L1558.3,326.5 L1559.3,318.4 L1560.3,326.1 L1561.3,317.8 L1562.3,358.9 L1563.3,350.7 L1564.3,356.9 L1565.3,348.2 L1566.3,353.5 L1567.3,346.1 L1568.3,352.3 L1569.3,342.7 L1570.3,349 L1571.3,342.1 L1572.3,349.2 L1573.3,339.6 L1574.3,346.8 L1575.3,338.8 L1576.3,346.7 L1577.3,337.3 L1578.3,346.2 L1579.3,337.9 L1580.3,344.7 L1581.3,336.7 L1582.3,344.5 L1583.3,337.8 L1584.3,341.7 L1585.3,336.6 L1586.3,341 L1587.3,335.9 L1588.3,341 L1589.3,336.3 L1590.3,341.4 L1591.3,335.5 L1592.3,340.7 L1593.3,335.4 L1594.3,341.3 L1595.3,336.3 L1596.3,343.4 L1597.3,335.4 L1598.3,340.4 L1599.3,335.2 L1600.3,340.3 L1601.3,335.4 L1602.3,340.4 L1603.3,335.9 L1604.3,341.1 L1605.3,336.3 L1606.3,341.2 L1607.3,336.1 L1608.3,340.6 L1609.3,336 L1610.3,341 L1611.3,335.8 L1612.3,340.4 L1613.3,336.5 L1614.3,340.8 L1615.3,336.3 L1616.3,340.9 L1617.3,336.2 L1618.3,340 L1619.3,336.1 L1620.3,340.4 L1621.3,335.4 L1622.3,340.6 L1623.3,335.7 L1624.3,340.1 L1625.3,335.1 L1626.3,340.1 L1627.3,334.8 L1628.3,340.1 L1629.3,334.9 L1630.3,339.8 L1631.3,335.4 L1632.3,340.4 L1633.3,336.1 L1634.3,344 L1635.3,336.3 L1636.3,344.1 L1637.3,336.4 L1638.3,341.4 L1639.3,335.6 L1640.3,341.6 L1641.3,336.5 L1642.3,341.2 L1643.3,336.8 L1644.3,341.9 L1645.3,336.8 L1646.3,340.7 L1647.3,337.1 L1648.3,342 L1649.3,336.6 L1650.3,341.2 L1651.3,336.5 L1652.3,341.8 L1653.3,337 L1654.3,340.8 L1655.3,336.4 L1656.3,340.7 L1657.3,336 L1658.3,341.3 L1659.3,335.3 L1660.3,341.5 L1661.3,336.1 L1662.3,340 L1663.3,336 L1664.3,340.7 L1665.3,336 L1666.3,340.9 L1667.3,335.2 L1668.3,340.9 L1669.3,335.6 L1670.3,341.1 L1671.3,335.1 L1672.3,341.1 L1673.3,335.8 L1674.3,340.3 L1675.3,335.6 L1676.3,340.4 L1677.3,335.3 L1678.3,340.3 L1679.3,335.5 L1680.3,340.8 L1681.3,333 L1682.3,340 L1683.3,336.3 L1684.3,340.3 L1685.3,336.2 L1686.3,340 L1687.3,336 L1688.3,340 L1689.3,335.5 L1690.3,340.2 L1691.3,334.7 L1692.3,339.8 L1693.3,334.6 L1694.3,339.8 L1695.3,335.4 L1696.3,339.3 L1697.3,335 L1698.3,339.6 L1699.3,331.5 L1700.3,339.9 L1701.3,334 L1702.3,339.3 L1703.3,334.6 L1704.3,339.2 L1705.3,334.5 L1706.3,340 L1707.3,330.8 L1708.3,339.8 L1709.3,330.8 L1710.3,338.7 L1711.3,335 L1712.3,339.2 L1713.3,334.2 L1714.3,339.7 L1715.3,334.4 L1716.3,339.8 L1717.3,334.9 L1718.3,339.5 L1719.3,334.3 L1720.3,339.5 L1721.3,334.2 L1722.3,340.1 L1723.3,335.6 L1724.3,340.2 L1725.3,334.6 L1726.3,340.5 L1727.3,335.3 L1728.3,340.1 L1729.3,335.7 L1730.3,339.8 L1731.3,335.5 L1732.3,340.3 L1733.3,334.8 L1734.3,340.6 L1735.3,334.8 L1736.3,339.7 L1737.3,334.4 L1738.3,339.7 L1739.3,335.1 L1740.3,340.1 L1741.3,335.1 L1742.3,339.5 L1743.3,334.9 L1744.3,340 L1745.3,335.3 L1746.3,339.1 L1747.3,334.9 L1748.3,340.1 L1749.3,334.5 L1750.3,342.5 L1751.3,334.7 L1752.3,342.6 L1753.3,335.4 L1754.3,339.8 L1755.3,335.9 L1756.3,340.9 L1757.3,335.6 L1758.3,340.7 L1759.3,336.3 L1760.3,340.5 L1761.3,336.1 L1762.3,341 L1763.3,336.1 L1764.3,341 L1765.3,336.4 L1766.3,341.2 L1767.3,335.7 L1768.3,340.3 L1769.3,336.1 L1770.3,340.9 L1771.3,332.4 L1772.3,340.8 L1773.3,332.4 L1774.3,340.3 L1775.3,332.3 L1776.3,340.5 L1777.3,332.7 L1778.3,339.9 L1779.3,332.6 L1780.3,340.5 L1781.3,335 L1782.3,339.9 L1783.3,334.9 L1784.3,339.7 L1785.3,335.2 L1786.3,340.5 L1787.3,335.2 L1788.3,340.4 L1789.3,335.1 L1790.3,340.6 L1791.3,335.7 L1792.3,340.2 L1793.3,332.9 L1794.3,340.4 L1795.3,332.9 L1796.3,340.1 L1797.3,335.1 L1798.3,340 L1799.3,335.5 L1800.3,340.1 L1801.3,335.8 L1802.3,341 L1803.3,335.1 L1804.3,341 L1805.3,335.5 L1806.3,340.6 L1807.3,336.1 L1808.3,341 L1809.3,336 L1810.3,340.2 L1811.3,335.7 L1812.3,340.3 L1813.3,334.8 L1814.3,339.6 L1815.3,334.5 L1816.3,339.4 L1817.3,334.4 L1818.3,339.1 L1819.3,334.4 L1820.3,339.2 L1821.3,334.3 L1822.3,339.6 L1823.3,334.1 L1824.3,339.5 L1825.3,334.9 L1826.3,338.8 L1827.3,334 L1828.3,339.3 L1829.3,333.9 L1830.3,338.9 L1831.3,334.6 L1832.3,340 L1833.3,334.3 L1834.3,339.3 L1835.3,334.6 L1836.3,340.4 L1837.3,335.2 L1838.3,339.6 L1839.3,335.3 L1840.3,340.3 L1841.3,335.6 L1842.3,339.9 L1843.3,335.9 L1844.3,340.4 L1845.3,335.1 L1846.3,339.7 L1847.3,336.1 L1848.3,340.9 L1849.3,335.8 L1850.3,340.1 L1851.3,335.1 L1852.3,340.3 L1853.3,335 L1854.3,340.5 L1855.3,335.3 L1856.3,339.6 L1857.3,335.9 L1858.3,339.8 L1859.3,335.4 L1860.3,340.1 L1861.3,334.8 L1862.3,340.6 L1863.3,334.9 L1864.3,339.8 L1865.3,336 L1866.3,340.4 L1867.3,335.1 L1868.3,340.9 L1869.3,335.1 L1870.3,340.3 L1871.3,336.2 L1872.3,343.3 L1873.3,336.1 L1874.3,343.4 L1875.3,336.2 L1876.3,341 L1877.3,336.4 L1878.3,340.4 L1879.3,335.5 L1880.3,341.3 L1881.3,335.7 L1882.3,341.4 L1883.3,337 L1884.3,340.8 L1885.3,336.2 L1886.3,341.9 L1887.3,337 L1888.3,342.3 L1889.3,336.4 L1890.3,341.6 L1891.3,336.3 L1892.3,341.1 L1893.3,336.5 L1894.3,341.9 L1895.3,336.6 L1896.3,340.9 L1897.3,336.8 L1898.3,340.6 L1899.3,336 L1900.3,340.8 L1901.3,335.7 L1902.3,341.4 L1903.3,336 L1904.3,341.3 L1905.3,336.3 L1906.3,341.1 L1907.3,336.5 L1908.3,344 L1909.3,336.5 L1910.3,344" fill="none" stroke="#0a6fd8" stroke-width="3.5" stroke-linejoin="round" clip-path="url(#cpa)"/>
<path d="M236.3,760.9 L237.3,755.1 L238.3,760.5 L239.3,755.7 L240.1,718 L240.7,718 L240.3,760.2 L240.8,879.5 L241.4,879.5 L241.3,754.9 L242.3,760 L243.3,498.6 L244.3,476.3 L245.3,448.3 L246.3,434.8 L247.3,413.9 L248.3,406.5 L249.3,391 L250.3,385.7 L251.3,373.2 L252.3,371.7 L253.3,362.3 L254.3,362.5 L255.3,353.2 L256.3,355.1 L257.3,348 L258.3,351.2 L259.3,344.3 L260.3,346.9 L261.3,342 L262.3,345.1 L263.3,339.8 L264.3,343.1 L265.3,338.4 L266.3,342.1 L267.3,337.2 L268.3,342.2 L269.3,336.9 L270.3,340.6 L271.3,335.8 L272.3,341.3 L273.3,336.1 L274.3,340.8 L275.3,335.1 L276.3,342.6 L277.3,335.3 L278.3,342.4 L279.3,334.9 L280.3,340.5 L281.3,334.8 L282.3,339.3 L283.3,335.5 L284.3,339.8 L285.3,335.4 L286.3,339.5 L287.3,334.9 L288.3,340.3 L289.3,335 L290.3,340.2 L291.3,332.5 L292.3,340.6 L293.3,335.1 L294.3,340 L295.3,335 L296.3,339.9 L297.3,335.7 L298.3,340.3 L299.3,335.7 L300.3,341 L301.3,336 L302.3,341.4 L303.3,335.7 L304.3,340.7 L305.3,336 L306.3,340.6 L307.3,336.2 L308.3,341.4 L309.3,336.8 L310.3,341.5 L311.3,336 L312.3,340.7 L313.3,336.5 L314.3,341.5 L315.3,336.6 L316.3,341.4 L317.3,336.3 L318.3,340.1 L319.3,336.1 L320.3,341.2 L321.3,336.2 L322.3,340.3 L323.3,335.5 L324.3,340.1 L325.3,335.3 L326.3,340.3 L327.3,335.2 L328.3,340 L329.3,335.4 L330.3,340.3 L331.3,335.1 L332.3,340.5 L333.3,335.6 L334.3,339.8 L335.3,336 L336.3,340.4 L337.3,335.6 L338.3,339.6 L339.3,335.3 L340.3,340.4 L341.3,335.2 L342.3,340.8 L343.3,335.8 L344.3,340.7 L345.3,336.1 L346.3,340.3 L347.3,335.4 L348.3,339.8 L349.3,336.2 L350.3,340.3 L351.3,335.4 L352.3,340.1 L353.3,335.9 L354.3,340.6 L355.3,336 L356.3,340.5 L357.3,334.9 L358.3,340.4 L359.3,335.2 L360.3,339.5 L361.3,335 L362.3,339.6 L363.3,335.1 L364.3,339.5 L365.3,335.6 L366.3,340.1 L367.3,334.8 L368.3,340.1 L369.3,334.7 L370.3,339.2 L371.3,335.7 L372.3,339.3 L373.3,335.3 L374.3,339.4 L375.3,336 L376.3,340.3 L377.3,335.8 L378.3,339.9 L379.3,336.1 L380.3,340.9 L381.3,336.6 L382.3,340 L383.3,336.2 L384.3,341 L385.3,336.1 L386.3,341 L387.3,336.8 L388.3,341.8 L389.3,335.9 L390.3,341.9 L391.3,336.6 L392.3,341.2 L393.3,336.4 L394.3,341.1 L395.3,336.8 L396.3,340.9 L397.3,336.7 L398.3,340.9 L399.3,337.1 L400.3,341.3 L401.3,335.9 L402.3,341.8 L403.3,336.2 L404.3,340.5 L405.3,337.1 L406.3,341.4 L407.3,336.7 L408.3,340.6 L409.3,335.7 L410.3,340.3 L411.3,336.5 L412.3,341.3 L413.3,336.8 L414.3,340.5 L415.3,336.3 L416.3,341.5 L417.3,336.3 L418.3,340.5 L419.3,336.2 L420.3,340.6 L421.3,337 L422.3,341.3 L423.3,335.8 L424.3,341.4 L425.3,336 L426.3,340.6 L427.3,333.5 L428.3,341.5 L429.3,335.8 L430.3,341.5 L431.3,336.3 L432.3,341.5 L433.3,336.3 L434.3,341.3 L435.3,337 L436.3,340.7 L437.3,336.7 L438.3,341.4 L439.3,336 L440.3,340.9 L441.3,335.6 L442.3,340.8 L443.3,336.2 L444.3,340.8 L445.3,335.3 L446.3,340.7 L447.3,336 L448.3,339.9 L449.3,335 L450.3,339.3 L451.3,335 L452.3,340.2 L453.3,335.6 L454.3,342.4 L455.3,334.7 L456.3,342.4 L457.3,335 L458.3,342.4 L459.3,335.1 L460.3,339.7 L461.3,336.1 L462.3,339.6 L463.3,335.2 L464.3,340.7 L465.3,335.6 L466.3,340.7 L467.3,332.3 L468.3,340.5 L469.3,335.7 L470.3,341 L471.3,336.6 L472.3,340.4 L473.3,336.8 L474.3,340.1 L475.3,335.7 L476.3,340.3 L477.3,336.6 L478.3,340.3 L479.3,336.1 L480.3,340.3 L481.3,335.7 L482.3,340.3 L483.3,336.4 L484.3,340.3 L485.3,335.5 L486.3,340.1 L487.3,336.6 L488.3,340.8 L489.3,336.1 L490.3,340.8 L491.3,335.4 L492.3,341.1 L493.3,335.5 L494.3,340 L495.3,335.5 L496.3,341.2 L497.3,335.4 L498.3,341 L499.3,336.3 L500.3,340.5 L501.3,336.2 L502.3,341 L503.3,335.9 L504.3,341.6 L505.3,336.6 L506.3,340.9 L507.3,333.7 L508.3,340.4 L509.3,336 L510.3,340.9 L511.3,336.9 L512.3,341.6 L513.3,336.7 L514.3,340.6 L515.3,336.8 L516.3,341.3 L517.3,335.8 L518.3,341 L519.3,336.1 L520.3,340.5 L521.3,335.7 L522.3,340.7 L523.3,335.4 L524.3,340.8 L525.3,335.3 L526.3,340.3 L527.3,335.1 L528.3,340.7 L529.3,335.4 L530.3,340.4 L531.3,335.9 L532.3,339.8 L533.3,334.9 L534.3,339.2 L535.3,335 L536.3,339.9 L537.3,334.5 L538.3,339.5 L539.3,335.3 L540.3,339.8 L541.3,334.2 L542.3,340 L543.3,335.1 L544.3,339.4 L545.3,335.5 L546.3,339.4 L547.3,334.8 L548.3,339.1 L549.3,334.7 L550.3,339.5 L551.3,335.7 L552.3,340.2 L553.3,335.5 L554.3,340 L555.3,335.5 L556.3,340.5 L557.3,335.4 L558.3,339.5 L559.3,334.9 L560.3,339.5 L561.3,334.8 L562.3,339.4 L563.3,334.7 L564.3,340.1 L565.3,334.8 L566.3,339.5 L567.3,331.6 L568.3,339.4 L569.3,335.7 L570.3,339.2 L571.3,334.8 L572.3,339.2 L573.3,335.5 L574.3,339.6 L575.3,335.6 L576.3,339.6 L577.3,335 L578.3,339.3 L579.3,335 L580.3,340.4 L581.3,335.7 L582.3,339.9 L583.3,335.7 L584.3,339.6 L585.3,304.8 L586.3,311.8 L587.3,305.4 L588.3,311.7 L589.3,304.4 L590.3,311.5 L591.3,305 L592.3,311.4 L593.3,301.8 L594.3,313 L595.3,302 L596.3,313.2 L597.3,302.1 L598.3,312.6 L599.3,304.7 L600.3,312 L601.3,305.2 L602.3,313.4 L603.3,302 L604.3,311.8 L605.3,301.9 L606.3,311.9 L607.3,305.8 L608.3,312.7 L609.3,305.2 L610.3,311.3 L611.3,305.4 L612.3,312.1 L613.3,304.6 L614.3,312.2 L615.3,303.6 L616.3,312.8 L617.3,304.8 L618.3,311.2 L619.3,304.4 L620.3,310.4 L621.3,304.6 L622.3,310.2 L623.3,304.4 L624.3,311.4 L625.3,304.6 L626.3,310.4 L627.3,304.6 L628.3,311.3 L629.3,303 L630.3,310.7 L631.3,303.7 L632.3,311.2 L633.3,303.6 L634.3,312.4 L635.3,303.1 L636.3,310.5 L637.3,304.9 L638.3,316.9 L639.3,304.8 L640.3,316.9 L641.3,304.3 L642.3,311.8 L643.3,303.8 L644.3,311.4 L645.3,303.5 L646.3,311.4 L647.3,304 L648.3,310.7 L649.3,302.9 L650.3,311.4 L651.3,302.6 L652.3,311.6 L653.3,304.4 L654.3,310.2 L655.3,296 L656.3,303.9 L657.3,295.8 L658.3,304.2 L659.3,295.8 L660.3,303.4 L661.3,296.7 L662.3,303.5 L663.3,297.2 L664.3,304.2 L665.3,297.3 L666.3,304.9 L667.3,298.1 L668.3,305.6 L669.3,297.1 L670.3,304.9 L671.3,297.6 L672.3,305.9 L673.3,297.3 L674.3,306 L675.3,298.5 L676.3,306.1 L677.3,298.4 L678.3,305.6 L679.3,298.2 L680.3,307.1 L681.3,299.7 L682.3,306.4 L683.3,298.6 L684.3,307.5 L685.3,299.4 L686.3,305.7 L687.3,298.5 L688.3,306.2 L689.3,300 L690.3,307.3 L691.3,300.2 L692.3,305.7 L693.3,299.2 L694.3,306.2 L695.3,298.5 L696.3,306.1 L697.3,299.5 L698.3,305.4 L699.3,297.8 L700.3,307 L701.3,298.8 L702.3,306.4 L703.3,298.1 L704.3,306.9 L705.3,293.1 L706.3,305.3 L707.3,293.2 L708.3,305.5 L709.3,298.3 L710.3,306.9 L711.3,299.7 L712.3,306.4 L713.3,299.6 L714.3,305.5 L715.3,299.5 L716.3,306.3 L717.3,298.6 L718.3,307 L719.3,299.6 L720.3,307 L721.3,298.3 L722.3,306.2 L723.3,299.6 L724.3,305.9 L725.3,307.2 L726.3,316.3 L727.3,308.2 L728.3,315.7 L729.3,307.4 L730.3,314.1 L731.3,308.3 L732.3,315.7 L733.3,308 L734.3,314.6 L735.3,307.4 L736.3,314.5 L737.3,307.7 L738.3,314 L739.3,307.2 L740.3,313.5 L741.3,306.6 L742.3,314.5 L743.3,306.6 L744.3,314.8 L745.3,307.3 L746.3,314.1 L747.3,307.4 L748.3,314.8 L749.3,306.5 L750.3,313.5 L751.3,306.1 L752.3,314 L753.3,307 L754.3,315.3 L755.3,307.4 L756.3,313.7 L757.3,308.1 L758.3,314.8 L759.3,308.1 L760.3,315.5 L761.3,308 L762.3,314.6 L763.3,308.7 L764.3,315.9 L765.3,307.1 L766.3,316.5 L767.3,308.6 L768.3,316.1 L769.3,309 L770.3,316.7 L771.3,307.6 L772.3,315.2 L773.3,308.4 L774.3,315 L775.3,308.7 L776.3,316.2 L777.3,308.9 L778.3,316.3 L779.3,302.3 L780.3,316.6 L781.3,302.3 L782.3,316.3 L783.3,307.4 L784.3,315.3 L785.3,308.4 L786.3,314.7 L787.3,307.2 L788.3,315.9 L789.3,307.6 L790.3,316.6 L791.3,307.2 L792.3,316.3 L793.3,308.9 L794.3,315.6 L794.5,298 L795.1,298 L795.3,317.7 L796.3,325.7 L797.3,318.3 L798.3,325.6 L799.3,317.4 L800.3,326 L801.3,317.9 L802.3,325.9 L803.3,317.1 L804.3,325 L805.3,318.8 L806.3,324.3 L807.3,318.5 L808.3,324.4 L809.3,318.5 L810.3,325 L811.3,316.7 L812.3,325.3 L813.3,317.6 L814.3,325.4 L815.3,316.5 L816.3,323.8 L817.3,316.3 L818.3,324.3 L819.3,316 L820.3,323.4 L821.3,316.8 L822.3,324.2 L823.3,315.4 L824.3,323.8 L825.3,315.5 L826.3,322.5 L827.3,315.1 L828.3,322.9 L829.3,315.2 L830.3,322.5 L831.3,314.5 L832.3,322.8 L833.3,314.6 L834.3,322.6 L835.3,315.1 L836.3,323.1 L837.3,315.3 L838.3,324.1 L839.3,315.6 L840.3,322.5 L841.3,315.7 L842.3,324.1 L843.3,315 L844.3,322.4 L845.3,315.2 L846.3,324.5 L847.3,315.2 L848.3,322.8 L849.3,315.5 L850.3,323.8 L851.3,316.7 L852.3,323.7 L853.3,312.5 L854.3,324.2 L855.3,312.4 L856.3,323 L857.3,315.4 L858.3,322.8 L859.3,315 L860.3,322.6 L861.3,315.7 L862.3,324 L863.3,315.8 L864.3,322.2 L865.3,306.1 L866.3,314.5 L867.3,307.3 L868.3,313.7 L869.3,307.1 L870.3,315.4 L871.3,306.2 L872.3,314.3 L873.3,306.8 L874.3,313.8 L875.3,308 L876.3,314.6 L877.3,306.8 L878.3,314.9 L879.3,307.5 L880.3,315.1 L881.3,308.4 L882.3,315.1 L883.3,308.8 L884.3,315.2 L885.3,307.4 L886.3,315.6 L887.3,308.2 L888.3,316.4 L889.3,308.4 L890.3,316.2 L891.3,308.2 L892.3,316.2 L893.3,309.5 L894.3,316.1 L895.3,308.6 L896.3,315.9 L897.3,307.6 L898.3,315.7 L899.3,308.5 L900.3,316.3 L901.3,307.6 L902.3,315 L903.3,303 L904.3,314.6 L905.3,302.7 L906.3,314.9 L907.3,306.5 L908.3,314.2 L909.3,307.2 L910.3,314.3 L911.3,307.1 L912.3,313.4 L913.3,307.6 L914.3,313 L915.3,307.3 L916.3,312.9 L917.3,305.9 L918.3,314.7 L919.3,306.3 L920.3,313 L921.3,306.6 L922.3,314.4 L923.3,306.7 L924.3,314.7 L925.3,306.3 L926.3,312.9 L927.3,307.3 L928.3,317.7 L929.3,306.3 L930.3,314.3 L931.3,306.8 L932.3,313.8 L933.3,307 L934.3,304.8 L935.3,295.9 L936.3,303 L937.3,296.5 L938.3,302.7 L939.3,295.7 L940.3,303.3 L941.3,295.8 L942.3,304.1 L943.3,296.2 L944.3,304.1 L945.3,294.8 L946.3,302.3 L947.3,295.8 L948.3,301.9 L949.3,294.8 L950.3,301.8 L951.3,295.6 L952.3,303 L953.3,295.6 L954.3,303.8 L955.3,295.2 L956.3,302.7 L957.3,294.7 L958.3,303.7 L959.3,294.7 L960.3,302.9 L961.3,296.5 L962.3,302.8 L963.3,296.2 L964.3,304.7 L965.3,295.5 L966.3,303.2 L967.3,296.5 L968.3,304.4 L969.3,296 L970.3,305.1 L971.3,297.6 L972.3,305.5 L973.3,296.8 L974.3,305.3 L975.3,298.3 L976.3,305.4 L977.3,297.2 L978.3,304.7 L979.3,296.6 L980.3,304.8 L981.3,296.9 L982.3,304.9 L983.3,297.7 L984.3,304.8 L985.3,296.8 L986.3,305.1 L987.3,296.2 L988.3,305.2 L989.3,296.8 L990.3,304 L991.3,298 L992.3,303.5 L993.3,296.1 L994.3,304.3 L995.3,296.4 L996.3,303.9 L997.3,297.5 L998.3,304.9 L999.3,297.5 L1000.3,303.9 L1001.3,295.9 L1002.3,304.9 L1003.3,296 L1004.3,297.2 L1005.3,287.9 L1006.3,296.6 L1007.3,288.2 L1008.3,295.6 L1009.3,288.4 L1010.3,297 L1011.3,289.1 L1012.3,297.5 L1013.3,289.8 L1014.3,296.6 L1015.3,289.8 L1016.3,296.4 L1017.3,289.5 L1018.3,296.5 L1019.3,288.7 L1020.3,297.1 L1021.3,287.8 L1022.3,295.3 L1023.3,287.6 L1024.3,296 L1025.3,289.4 L1026.3,294.9 L1027.3,287.9 L1028.3,296.5 L1029.3,288.3 L1030.3,295.6 L1031.3,287 L1032.3,294.9 L1033.3,288.1 L1034.3,294.5 L1035.3,288.5 L1036.3,299.7 L1037.3,286.8 L1038.3,295.3 L1039.3,286.5 L1040.3,295.4 L1041.3,284.1 L1042.3,295.9 L1043.3,287.7 L1044.3,295.7 L1045.3,288.6 L1046.3,296.5 L1047.3,288.7 L1048.3,294.8 L1049.3,287.8 L1050.3,296.3 L1051.3,287.5 L1052.3,301.5 L1053.3,289.6 L1054.3,301.8 L1055.3,288.7 L1056.3,297.6 L1057.3,288.2 L1058.3,297.1 L1059.3,288.9 L1060.3,296.6 L1061.3,290 L1062.3,296.2 L1063.3,289.4 L1064.3,296.3 L1065.3,289.4 L1066.3,296.8 L1067.3,290.6 L1068.3,296.8 L1069.3,289 L1070.3,297.7 L1071.3,290.4 L1072.3,296.7 L1073.3,288.9 L1074.3,297.3 L1075.3,289.6 L1076.3,297.8 L1077.3,290.2 L1078.3,296 L1079.3,290.4 L1080.3,296.8 L1081.3,289.6 L1082.3,296.6 L1083.3,290.1 L1084.3,298.1 L1085.3,290 L1086.3,296.4 L1087.3,289.3 L1088.3,296.8 L1089.3,291.1 L1090.3,297.3 L1091.3,289.8 L1092.3,297.9 L1093.3,290.1 L1094.3,298.3 L1095.3,287 L1096.3,297.8 L1097.3,287.1 L1098.3,297.6 L1099.3,291.2 L1100.3,297.7 L1101.3,290.8 L1102.3,297 L1103.3,291.4 L1104.3,297.3 L1105.3,290.6 L1106.3,297.1 L1107.3,289.2 L1108.3,297.3 L1109.3,289.7 L1110.3,296.4 L1111.3,289.8 L1112.3,296 L1113.3,288.4 L1114.3,297.4 L1115.3,290.1 L1116.3,296 L1117.3,288 L1118.3,295.6 L1119.3,289 L1120.3,295.5 L1121.3,289.4 L1122.3,296.2 L1123.3,289.2 L1124.3,296.4 L1125.3,289.5 L1126.3,295.2 L1127.3,289.4 L1128.3,295.2 L1129.3,288.5 L1130.3,296.8 L1131.3,287.9 L1132.3,297.3 L1133.3,288.2 L1134.3,296.1 L1135.3,288.6 L1136.3,296.3 L1137.3,288.2 L1138.3,297.1 L1139.3,290.4 L1140.3,297.1 L1141.3,289.9 L1142.3,297.2 L1143.3,289.8 L1144.3,305.5 L1145.3,297.5 L1146.3,304.6 L1147.3,298.6 L1148.3,304.6 L1149.3,297 L1150.3,305.4 L1151.3,298.4 L1152.3,305.2 L1153.3,296.4 L1154.3,305.4 L1155.3,297.7 L1156.3,309.2 L1157.3,297.1 L1158.3,305.6 L1159.3,296.7 L1160.3,304.7 L1161.3,296.9 L1162.3,304 L1163.3,296.6 L1164.3,304.1 L1165.3,297.7 L1166.3,304.6 L1167.3,298.5 L1168.3,305.7 L1169.3,298.8 L1170.3,304.9 L1171.3,298.8 L1172.3,305.5 L1173.3,297.7 L1174.3,305 L1175.3,298.5 L1176.3,307.1 L1177.3,299 L1178.3,306.9 L1179.3,299.7 L1180.3,305.6 L1181.3,298.5 L1182.3,306.6 L1183.3,299.6 L1184.3,306.9 L1185.3,299.6 L1186.3,307 L1187.3,299.8 L1188.3,306.4 L1189.3,299.7 L1190.3,305.6 L1191.3,297.6 L1192.3,305 L1193.3,298.8 L1194.3,306.1 L1195.3,298.6 L1196.3,305.8 L1197.3,297.9 L1198.3,305.3 L1199.3,297.8 L1200.3,310.1 L1201.3,297.3 L1202.3,309.9 L1203.3,296.4 L1204.3,304 L1205.3,296.2 L1206.3,305.1 L1207.3,296.3 L1208.3,305.3 L1209.3,298 L1210.3,303.8 L1211.3,293 L1212.3,304.5 L1213.3,303.1 L1214.3,313.9 L1215.3,307.1 L1216.3,314.3 L1217.3,307.8 L1218.3,314.3 L1219.3,307 L1220.3,314.2 L1221.3,306.2 L1222.3,313.8 L1223.3,307.1 L1224.3,314.3 L1225.3,307.5 L1226.3,315.6 L1227.3,307.3 L1228.3,314.8 L1229.3,307.1 L1230.3,313.8 L1231.3,307 L1232.3,314 L1233.3,307.7 L1234.3,315.1 L1235.3,306.2 L1236.3,313.8 L1237.3,307.1 L1238.3,314.2 L1239.3,305.9 L1240.3,313.9 L1241.3,306.1 L1242.3,313.7 L1243.3,306.1 L1244.3,312.7 L1245.3,305.7 L1246.3,313.8 L1247.3,306 L1248.3,313.5 L1249.3,306.1 L1250.3,313.4 L1251.3,305.3 L1252.3,314.2 L1253.3,306.3 L1254.3,315 L1255.3,306.3 L1256.3,315.1 L1257.3,306.3 L1258.3,313.5 L1259.3,307.3 L1260.3,315.2 L1261.3,306.7 L1262.3,315.8 L1263.3,308.7 L1264.3,314.2 L1265.3,307.5 L1266.3,314.6 L1267.3,308.4 L1268.3,316.3 L1269.3,306.9 L1270.3,316 L1271.3,307 L1272.3,315.9 L1273.3,308.8 L1274.3,315.4 L1275.3,307 L1276.3,315.6 L1277.3,307.1 L1278.3,314.4 L1279.3,308 L1280.3,315.6 L1281.3,307 L1282.3,314.2 L1283,332.4 L1283.6,332.4 L1283.3,318.4 L1284.3,325.3 L1285.3,317.5 L1286.3,324.3 L1287.3,316.8 L1288.3,324.6 L1289.3,316.2 L1290.3,324.5 L1291.3,317.7 L1292.3,324.2 L1293.3,317.9 L1294.3,324.8 L1295.3,317.3 L1296.3,323.9 L1297.3,318.2 L1298.3,324 L1299.3,317 L1300.3,324.9 L1301.3,316.6 L1302.3,325.4 L1303.3,316.8 L1304.3,324.5 L1305.3,316.2 L1306.3,323.7 L1307.3,317.1 L1308.3,323.9 L1309.3,317.3 L1310.3,323.8 L1311.3,317.6 L1312.3,324.4 L1313.3,316.8 L1314.3,323.1 L1315.3,317.2 L1316.3,324.5 L1317.3,316.3 L1318.3,324.3 L1319.3,315.6 L1320.3,323.6 L1321.3,316.2 L1322.3,322.3 L1323.3,315.3 L1324.3,323.2 L1325.3,316.4 L1326.3,323.7 L1327.3,316 L1328.3,322.3 L1329.3,315.4 L1330.3,322.3 L1331.3,315.6 L1332.3,323.3 L1333.3,310.8 L1334.3,322.9 L1335.3,311 L1336.3,322.4 L1337.3,316 L1338.3,322.9 L1339.3,315.8 L1340.3,323.2 L1341.3,315.4 L1342.3,324 L1343.3,316.2 L1344.3,323.4 L1345.3,315.6 L1346.3,323.4 L1347.3,317.3 L1348.3,325.1 L1349.3,316.9 L1350.3,324.8 L1351.3,312 L1352.3,325.3 L1353.3,304.4 L1354.3,316.1 L1355.3,309.9 L1356.3,317.5 L1357.3,309.2 L1358.3,317.3 L1359.3,304.8 L1360.3,316 L1361.3,304.7 L1362.3,316 L1363.3,310.4 L1364.3,317.5 L1365.3,310.1 L1366.3,317.1 L1367.3,309.8 L1368.3,317.7 L1369.3,309.1 L1370.3,317.4 L1371.3,310.2 L1372.3,316.9 L1373.3,310.3 L1374.3,316.7 L1375.3,309.6 L1376.3,316.8 L1377.3,309.6 L1378.3,317.4 L1379.3,310.4 L1380.3,316.6 L1381.3,309.8 L1382.3,317.7 L1383.3,310.9 L1384.3,318.4 L1385.3,311.3 L1386.3,318 L1387.3,309.8 L1388.3,317.7 L1389.3,311.3 L1390.3,317.7 L1391.3,309.8 L1392.3,317.6 L1393.3,304.8 L1394.3,317.9 L1395.3,304.7 L1396.3,316.8 L1397.3,309.2 L1398.3,317.7 L1399.3,309 L1400.3,318.4 L1401.3,309.4 L1402.3,316.2 L1403.3,309.7 L1404.3,316.3 L1405.3,308.5 L1406.3,316.2 L1407.3,310.1 L1408.3,316.1 L1409.3,308.6 L1410.3,315.4 L1411.3,309.1 L1412.3,315.7 L1413.3,309.1 L1414.3,315.5 L1415.3,308.6 L1416.3,316.2 L1417.3,308.7 L1418.3,317 L1419.3,308 L1420.3,316.2 L1421.3,305 L1422.3,315.7 L1423.3,296.2 L1424.3,306.8 L1425.3,300.2 L1426.3,306.8 L1427.3,301.1 L1428.3,308.1 L1429.3,301.4 L1430.3,308.9 L1431.3,300.7 L1432.3,308.5 L1433.3,300.3 L1434.3,308.3 L1435.3,301.4 L1436.3,309.2 L1437.3,299.7 L1438.3,309 L1439.3,300.3 L1440.3,309.2 L1441.3,300 L1442.3,308.8 L1443.3,301.2 L1444.3,308.8 L1445.3,300 L1446.3,307.4 L1447.3,300.6 L1448.3,307.8 L1449.3,301.4 L1450.3,307.5 L1451.3,301.1 L1452.3,307.7 L1453.3,301 L1454.3,312.8 L1455.3,300.6 L1456.3,312.9 L1457.3,301.9 L1458.3,309.5 L1459.3,301.7 L1460.3,308.6 L1461.3,301 L1462.3,308.8 L1463.3,302.6 L1464.3,308.2 L1465.3,301.3 L1466.3,309.7 L1467.3,301.3 L1468.3,308.9 L1469.3,301.4 L1470.3,309.5 L1471.3,303.4 L1472.3,310.6 L1473.3,303 L1474.3,309.4 L1475.3,302.3 L1476.3,310.2 L1477.3,303.7 L1478.3,310.7 L1479.3,303.2 L1480.3,309.9 L1481.3,302.7 L1482.3,310.1 L1483.3,302 L1484.3,309 L1485.3,301.9 L1486.3,309 L1487.3,301.7 L1488.3,309 L1489.3,301.9 L1490.3,309.9 L1491.3,302.6 L1492.3,308 L1493.3,310.3 L1494.3,318.5 L1495.3,311.5 L1496.3,317.4 L1497.3,311.2 L1498.3,318 L1499.3,304.6 L1500.3,317.5 L1501.3,305 L1502.3,318.9 L1503.3,310.7 L1504.3,317.9 L1505.3,311 L1506.3,319.2 L1507.3,311 L1508.3,318.2 L1509.3,311.7 L1510.3,318.6 L1511.3,311 L1512.3,317.3 L1513.3,311 L1514.3,319.1 L1515.3,310.7 L1516.3,318.6 L1517.3,312 L1518.3,319.2 L1519.3,310.9 L1520.3,318.5 L1521.3,311.7 L1522.3,317.6 L1523.3,310.9 L1524.3,318.7 L1525.3,310.7 L1526.3,318.2 L1527.3,311.1 L1528.3,317.3 L1529.3,311.2 L1530.3,318 L1531.3,309.7 L1532.3,318.1 L1533.3,309.1 L1534.3,316.9 L1535.3,309.3 L1536.3,317.9 L1537.3,309.4 L1538.3,316.7 L1539.3,309.3 L1540.3,317.4 L1541.3,309.2 L1542.3,317.5 L1543.3,309.3 L1544.3,317.5 L1545.3,309.8 L1546.3,317.2 L1547.3,311.8 L1548.3,318.7 L1549.3,311.3 L1550.3,318.2 L1551.3,311.1 L1552.3,319.6 L1553.3,311.5 L1554.3,318.9 L1555.3,312.4 L1556.3,318.4 L1557.3,310.9 L1558.3,320.2 L1559.3,311 L1560.3,319.2 L1561.3,311.3 L1562.3,358.1 L1563.3,348.9 L1564.3,354.1 L1565.3,345.2 L1566.3,352.6 L1567.3,344.1 L1568.3,349.7 L1569.3,341.2 L1570.3,352.4 L1571.3,340.4 L1572.3,347.7 L1573.3,338.1 L1574.3,345.5 L1575.3,337.8 L1576.3,343.9 L1577.3,337.7 L1578.3,343.5 L1579.3,336 L1580.3,344 L1581.3,336.1 L1582.3,341.8 L1583.3,336 L1584.3,340.6 L1585.3,335 L1586.3,339.7 L1587.3,335.5 L1588.3,340 L1589.3,335.4 L1590.3,340.3 L1591.3,334.6 L1592.3,339.1 L1593.3,334.7 L1594.3,339.5 L1595.3,334.9 L1596.3,339.6 L1597.3,330.4 L1598.3,339 L1599.3,330.2 L1600.3,339.2 L1601.3,330.1 L1602.3,338.4 L1603.3,334.4 L1604.3,338.3 L1605.3,333.3 L1606.3,339.2 L1607.3,333.4 L1608.3,338.6 L1609.3,333.7 L1610.3,337.5 L1611.3,332.8 L1612.3,338.1 L1613.3,332.5 L1614.3,337.8 L1615.3,329.3 L1616.3,337.1 L1617.3,329.2 L1618.3,338.3 L1619.3,332.9 L1620.3,337.3 L1621.3,332.2 L1622.3,337.4 L1623.3,332.9 L1624.3,336.9 L1625.3,332.1 L1626.3,337.7 L1627.3,332.3 L1628.3,337.7 L1629.3,331.9 L1630.3,337.5 L1631.3,332.4 L1632.3,337.8 L1633.3,332.6 L1634.3,337.2 L1635.3,333.6 L1636.3,338 L1637.3,332.5 L1638.3,337.5 L1639.3,333.7 L1640.3,337.7 L1641.3,333.3 L1642.3,338.1 L1643.3,333.7 L1644.3,337.9 L1645.3,333.7 L1646.3,338.3 L1647.3,333.7 L1648.3,338.1 L1649.3,334 L1650.3,339.1 L1651.3,333.1 L1652.3,338.7 L1653.3,333 L1654.3,338.1 L1655.3,333.7 L1656.3,338.8 L1657.3,333.5 L1658.3,338 L1659.3,329.8 L1660.3,337.9 L1661.3,329.7 L1662.3,337.9 L1663.3,333 L1664.3,338.6 L1665.3,332.8 L1666.3,338.1 L1667.3,334 L1668.3,337.7 L1669.3,333.6 L1670.3,338.1 L1671.3,333.1 L1672.3,338.9 L1673.3,334.2 L1674.3,338.2 L1675.3,334.4 L1676.3,338.9 L1677.3,333.5 L1678.3,339 L1679.3,334.2 L1680.3,338.9 L1681.3,334.2 L1682.3,338.5 L1683.3,334 L1684.3,338.8 L1685.3,333.4 L1686.3,339 L1687.3,334.3 L1688.3,338.6 L1689.3,333 L1690.3,338.1 L1691.3,333.1 L1692.3,338 L1693.3,332.6 L1694.3,341.8 L1695.3,333.4 L1696.3,341.6 L1697.3,332.6 L1698.3,337.5 L1699.3,332.1 L1700.3,337.5 L1701.3,332.9 L1702.3,337.4 L1703.3,331.9 L1704.3,337.2 L1705.3,332 L1706.3,337.3 L1707.3,332.7 L1708.3,337.3 L1709.3,332.7 L1710.3,337.6 L1711.3,332.8 L1712.3,336.9 L1713.3,333 L1714.3,337.4 L1715.3,332.7 L1716.3,337.8 L1717.3,332.6 L1718.3,337 L1719.3,333.3 L1720.3,337.7 L1721.3,332.3 L1722.3,338 L1723.3,333.4 L1724.3,337.6 L1725.3,333.2 L1726.3,337.9 L1727.3,333.5 L1728.3,337.3 L1729.3,333.1 L1730.3,338 L1731.3,332.8 L1732.3,338.7 L1733.3,332.7 L1734.3,337.5 L1735.3,333 L1736.3,337.8 L1737.3,333.6 L1738.3,337.7 L1739.3,332.6 L1740.3,337.6 L1741.3,332.5 L1742.3,337.5 L1743.3,333.4 L1744.3,338.1 L1745.3,332.7 L1746.3,338.3 L1747.3,332.6 L1748.3,337.6 L1749.3,333.2 L1750.3,338.4 L1751.3,332.7 L1752.3,338.4 L1753.3,333.8 L1754.3,338.1 L1755.3,334 L1756.3,341.6 L1757.3,334.5 L1758.3,341.8 L1759.3,334.6 L1760.3,338.4 L1761.3,333.6 L1762.3,338.4 L1763.3,334.2 L1764.3,338.7 L1765.3,333.8 L1766.3,339.8 L1767.3,334.7 L1768.3,339.3 L1769.3,334.3 L1770.3,339.3 L1771.3,333.6 L1772.3,338.6 L1773.3,334.6 L1774.3,339.1 L1775.3,333.6 L1776.3,339.7 L1777.3,333.8 L1778.3,338.7 L1779.3,334.4 L1780.3,339 L1781.3,334.3 L1782.3,339.2 L1783.3,333 L1784.3,338.2 L1785.3,333.3 L1786.3,338.7 L1787.3,333.5 L1788.3,339 L1789.3,333.2 L1790.3,338.3 L1791.3,333.3 L1792.3,338.2 L1793.3,333.4 L1794.3,338.1 L1795.3,333.5 L1796.3,339 L1797.3,334.1 L1798.3,338.2 L1799.3,333.3 L1800.3,338 L1801.3,330.8 L1802.3,338.2 L1803.3,333 L1804.3,338.1 L1805.3,333.3 L1806.3,338.5 L1807.3,334 L1808.3,339.1 L1809.3,334.2 L1810.3,339.3 L1811.3,333.7 L1812.3,337.9 L1813.3,334.2 L1814.3,338.7 L1815.3,332.9 L1816.3,338.6 L1817.3,333.3 L1818.3,338 L1819.3,333 L1820.3,337.9 L1821.3,333.2 L1822.3,338.1 L1823.3,333.7 L1824.3,337.9 L1825.3,332.5 L1826.3,338.3 L1827.3,333.3 L1828.3,338.3 L1829.3,333.8 L1830.3,338.2 L1831.3,333.5 L1832.3,338.8 L1833.3,333.7 L1834.3,338 L1835.3,333.9 L1836.3,338.4 L1837.3,334.1 L1838.3,338.1 L1839.3,334 L1840.3,339.2 L1841.3,334 L1842.3,339.4 L1843.3,334.2 L1844.3,338.8 L1845.3,334.2 L1846.3,339.1 L1847.3,334.9 L1848.3,339.2 L1849.3,334.6 L1850.3,339.1 L1851.3,334.9 L1852.3,343.6 L1853.3,335.3 L1854.3,343.7 L1855.3,335 L1856.3,343.7 L1857.3,334.5 L1858.3,340.1 L1859.3,334.4 L1860.3,338.9 L1861.3,334.5 L1862.3,339.6 L1863.3,332.2 L1864.3,339.9 L1865.3,332.1 L1866.3,339.3 L1867.3,333.9 L1868.3,339.7 L1869.3,333.5 L1870.3,339 L1871.3,333.8 L1872.3,339.4 L1873.3,333.5 L1874.3,339.2 L1875.3,334.4 L1876.3,339.2 L1877.3,333.7 L1878.3,338.9 L1879.3,333.9 L1880.3,338.8 L1881.3,333.6 L1882.3,339.1 L1883.3,334.1 L1884.3,339.2 L1885.3,334.4 L1886.3,338.6 L1887.3,334.3 L1888.3,338.7 L1889.3,334.8 L1890.3,339.6 L1891.3,331.8 L1892.3,339.6 L1893.3,334.7 L1894.3,339.5 L1895.3,334.5 L1896.3,338.7 L1897.3,334.4 L1898.3,338.3 L1899.3,333.7 L1900.3,338.6 L1901.3,334.3 L1902.3,339.2 L1903.3,332.9 L1904.3,338.4 L1905.3,333.2 L1906.3,337.9 L1907.3,332.7 L1908.3,338 L1909.3,333.7 L1910.3,338.4" fill="none" stroke="#00806c" stroke-width="3.5" stroke-linejoin="round" clip-path="url(#cpa)"/>
<path d="M236.3,901.4 L237.3,895.5 L238.3,902.1 L239.3,896.3 L240.3,902 L241.2,839.1 L241.8,839.1 L241.3,895.6 L241.9,919.9 L242.5,919.9 L242.3,901.3 L243.3,496.1 L244.3,473.7 L245.3,446.5 L246.3,433.5 L247.3,412.2 L248.3,405.5 L249.3,389 L250.3,385.2 L251.3,371.5 L252.3,370.4 L253.3,355.8 L254.3,362.1 L255.3,352.8 L256.3,355.4 L257.3,346.6 L258.3,350.7 L259.3,339.8 L260.3,346.9 L261.3,339.7 L262.3,345.3 L263.3,338.3 L264.3,343.6 L265.3,333.3 L266.3,341.1 L267.3,332.2 L268.3,341.6 L269.3,331.5 L270.3,343 L271.3,335.2 L272.3,342.5 L273.3,334.2 L274.3,342 L275.3,333.6 L276.3,339.6 L277.3,333.1 L278.3,338.3 L279.3,333.1 L280.3,339.1 L281.3,332.1 L282.3,337.5 L283.3,333.1 L284.3,338.8 L285.3,331.6 L286.3,340.3 L287.3,332.4 L288.3,340.3 L289.3,331.8 L290.3,337.7 L291.3,331.9 L292.3,338.1 L293.3,332.4 L294.3,337.8 L295.3,331.7 L296.3,338.2 L297.3,333.2 L298.3,338.8 L299.3,333 L300.3,338.3 L301.3,332.8 L302.3,338.8 L303.3,332.2 L304.3,338.8 L305.3,332.2 L306.3,337.6 L307.3,333.3 L308.3,338.7 L309.3,331.7 L310.3,337.6 L311.3,333.3 L312.3,337.9 L313.3,332.7 L314.3,337.3 L315.3,332.1 L316.3,337.3 L317.3,332.1 L318.3,338.1 L319.3,332 L320.3,337.3 L321.3,333.3 L322.3,337.4 L323.3,332.6 L324.3,338.5 L325.3,332.8 L326.3,337.8 L327.3,332.6 L328.3,339.2 L329.3,333.6 L330.3,339.2 L331.3,332.7 L332.3,339.6 L333.3,333.2 L334.3,339.5 L335.3,333.3 L336.3,340.2 L337.3,333.4 L338.3,340 L339.3,334.3 L340.3,340.2 L341.3,334.5 L342.3,340.2 L343.3,334.6 L344.3,339.7 L345.3,333.6 L346.3,342 L347.3,334.2 L348.3,341.9 L349.3,334.3 L350.3,339.1 L351.3,333.3 L352.3,338.5 L353.3,333.2 L354.3,338.7 L355.3,332.4 L356.3,338.6 L357.3,333.2 L358.3,338.6 L359.3,333.5 L360.3,338.4 L361.3,333.2 L362.3,338.9 L363.3,332.5 L364.3,339.1 L365.3,333.3 L366.3,338.3 L367.3,333.1 L368.3,338.5 L369.3,333.4 L370.3,338.6 L371.3,333.3 L372.3,339 L373.3,333 L374.3,338.6 L375.3,333.6 L376.3,339.2 L377.3,333.8 L378.3,338.1 L379.3,332.3 L380.3,338.6 L381.3,332.9 L382.3,338.1 L383.3,332.3 L384.3,339 L385.3,333.3 L386.3,338.8 L387.3,332.2 L388.3,339.1 L389.3,332.1 L390.3,339 L391.3,332.6 L392.3,342.9 L393.3,332.3 L394.3,338.2 L395.3,333.7 L396.3,338.7 L397.3,332.8 L398.3,339.1 L399.3,333.1 L400.3,339.2 L401.3,333.3 L402.3,339.5 L403.3,329.2 L404.3,339 L405.3,333.3 L406.3,339.8 L407.3,330.3 L408.3,339.7 L409.3,333.3 L410.3,339.3 L411.3,334.1 L412.3,339.9 L413.3,333.6 L414.3,339.5 L415.3,334.3 L416.3,339.3 L417.3,335 L418.3,341 L419.3,334 L420.3,340.4 L421.3,334 L422.3,343.4 L423.3,334 L424.3,343.2 L425.3,333.6 L426.3,340.3 L427.3,334 L428.3,339.7 L429.3,334.6 L430.3,338.8 L431.3,333.4 L432.3,339.4 L433.3,333.2 L434.3,339.3 L435.3,333.3 L436.3,338.6 L437.3,332.8 L438.3,339.6 L439.3,333.7 L440.3,338.2 L441.3,333.2 L442.3,339.5 L443.3,333.1 L444.3,339.4 L445.3,334.1 L446.3,339.4 L447.3,334 L448.3,339.2 L449.3,334.2 L450.3,338.2 L451.3,333.7 L452.3,338.2 L453.3,333.9 L454.3,338.9 L455.3,330 L456.3,338.2 L457.3,329.9 L458.3,339.6 L459.3,333.5 L460.3,339.4 L461.3,333.9 L462.3,339 L463.3,333.5 L464.3,339.1 L465.3,333 L466.3,342.8 L467.3,333.6 L468.3,342.8 L469.3,333.6 L470.3,339.2 L471.3,332.5 L472.3,339.4 L473.3,333 L474.3,338.3 L475.3,333.9 L476.3,338.3 L477.3,333.7 L478.3,339.2 L479.3,333 L480.3,338.7 L481.3,334.3 L482.3,338.8 L483.3,334.2 L484.3,339.9 L485.3,334.6 L486.3,339.9 L487.3,329.8 L488.3,339.4 L489.3,333.8 L490.3,340.9 L491.3,334.2 L492.3,340.3 L493.3,334.4 L494.3,340.6 L495.3,334.2 L496.3,339.5 L497.3,335.1 L498.3,340 L499.3,334.6 L500.3,340.4 L501.3,333.9 L502.3,339.5 L503.3,333.4 L504.3,340.1 L505.3,333.4 L506.3,338.8 L507.3,333.8 L508.3,338.8 L509.3,334 L510.3,338.5 L511.3,333.6 L512.3,339 L513.3,333.7 L514.3,338.9 L515.3,334 L516.3,338.3 L517.3,333.6 L518.3,339.1 L519.3,333.9 L520.3,339.6 L521.3,333.6 L522.3,339 L523.3,333.3 L524.3,339.1 L525.3,333.8 L526.3,339.3 L527.3,332.6 L528.3,339.6 L529.3,333.5 L530.3,338.7 L531.3,333.8 L532.3,338.5 L533.3,333.8 L534.3,338.9 L535.3,333.2 L536.3,339.5 L537.3,332.8 L538.3,337.9 L539.3,333.6 L540.3,338.1 L541.3,332.3 L542.3,339 L543.3,333.4 L544.3,338.7 L545.3,332.7 L546.3,337.9 L547.3,333.5 L548.3,338.7 L549.3,333.2 L550.3,338 L551.3,333.1 L552.3,338 L553.3,332.3 L554.3,338.8 L555.3,332.3 L556.3,337.9 L557.3,332.8 L558.3,338.6 L559.3,334.2 L560.3,339.1 L561.3,334.1 L562.3,339.8 L563.3,334.5 L564.3,340.3 L565.3,333.4 L566.3,339.4 L567.3,334.3 L568.3,339.2 L569.3,334.4 L570.3,339.8 L571.3,334.9 L572.3,339.2 L573.3,334.8 L574.3,339.4 L575.3,333.7 L576.3,339.7 L577.3,333.7 L578.3,338.9 L579.3,333.9 L580.3,339.9 L581.3,333.9 L582.3,339 L583.3,333.9 L584.3,339 L585.3,331.8 L586.3,319.8 L587.3,288 L588.3,276.3 L589.3,247.2 L590.3,259.1 L591.3,256.2 L592.3,272.2 L593.3,266.4 L594.3,277.3 L595.3,272.4 L596.3,282 L597.3,274.3 L598.3,285.1 L599.3,277.7 L600.3,286.9 L601.3,280.7 L602.3,288.8 L603.3,280.9 L604.3,290.2 L605.3,280.2 L606.3,290.7 L607.3,281.2 L608.3,290.8 L609.3,282.1 L610.3,292.2 L611.3,283.3 L612.3,292.3 L613.3,281.9 L614.3,292.2 L615.3,283 L616.3,298.1 L617.3,282.4 L618.3,297.9 L619.3,282.6 L620.3,291.3 L621.3,282 L622.3,296.4 L623.3,280.9 L624.3,296.4 L625.3,281.8 L626.3,291.6 L627.3,281.3 L628.3,290.2 L629.3,283 L630.3,291.4 L631.3,281.8 L632.3,291.4 L633.3,282.9 L634.3,293 L635.3,284 L636.3,291.3 L637.3,283 L638.3,293.6 L639.3,284.5 L640.3,293.3 L641.3,283.2 L642.3,291.8 L643.3,283 L644.3,292.1 L645.3,283 L646.3,292.5 L647.3,283 L648.3,293.8 L649.3,285.2 L650.3,294.2 L651.3,285 L652.3,293.8 L653.3,276.7 L654.3,292.9 L655.3,336.2 L656.3,346.4 L657.3,335.2 L658.3,346.5 L659.3,336.8 L660.3,344.1 L661.3,335.5 L662.3,344.6 L663.3,336 L664.3,345.5 L665.3,334.8 L666.3,344.7 L667.3,335.8 L668.3,344.7 L669.3,335.7 L670.3,343.6 L671.3,335.6 L672.3,345.2 L673.3,336.4 L674.3,344.9 L675.3,336.3 L676.3,345.9 L677.3,333.9 L678.3,344.4 L679.3,336.1 L680.3,343.4 L681.3,334.8 L682.3,343.5 L683.3,334.3 L684.3,343.5 L685.3,334.7 L686.3,344 L687.3,334.9 L688.3,343.8 L689.3,335.5 L690.3,342.9 L691.3,333.3 L692.3,343.2 L693.3,333.5 L694.3,347.9 L695.3,333.2 L696.3,347.7 L697.3,334.1 L698.3,343.4 L699.3,335.1 L700.3,343.8 L701.3,334 L702.3,342.6 L703.3,334.5 L704.3,344.5 L705.3,334.9 L706.3,342.6 L707.3,335.7 L708.3,345.2 L709.3,335.2 L710.3,345.5 L711.3,334.3 L712.3,343.5 L713.3,335.2 L714.3,344.9 L715.3,335.9 L716.3,346.5 L717.3,337.6 L718.3,346.1 L719.3,337.7 L720.3,347.1 L721.3,336.9 L722.3,345.4 L723.3,338.1 L724.3,346.9 L724.8,296 L725.4,296 L725.3,393.9 L726.3,404.5 L727.3,394.3 L728.3,404.8 L729.3,395.4 L730.3,405.2 L731.3,395.4 L732.3,402.8 L733.3,395.1 L734.3,405 L735.3,394.7 L736.3,403.7 L737.3,394.4 L738.3,404.6 L739.3,394 L740.3,402.3 L741.3,393.9 L742.3,403 L743.3,392.6 L744.3,404.1 L745.3,393.4 L746.3,402.4 L747.3,393.1 L748.3,402.9 L749.3,393.8 L750.3,404.4 L751.3,394.9 L752.3,402.8 L753.3,395.2 L754.3,402.9 L755.3,394.5 L756.3,402.8 L757.3,394.6 L758.3,403 L759.3,394.5 L760.3,403.4 L761.3,393.4 L762.3,402 L763.3,394.7 L764.3,402.1 L765.3,394 L766.3,402 L767.3,394.2 L768.3,403 L769.3,393.8 L770.3,402.8 L771.3,392.6 L772.3,402 L773.3,393.1 L774.3,401.7 L775.3,393.8 L776.3,403 L777.3,393 L778.3,401.3 L779.3,393.8 L780.3,402.2 L781.3,391.7 L782.3,403.5 L783.3,394.5 L784.3,403.9 L785.3,393.2 L786.3,402.8 L787.3,394.8 L788.3,402.7 L789.3,393.2 L790.3,404.8 L791.3,394.4 L792.3,405 L793.3,394.6 L794.3,404 L794.5,348.5 L795.1,348.5 L795.3,461.2 L796.3,470.6 L797.3,460.2 L798.3,468.9 L799.3,460.8 L800.3,470.1 L801.3,461.2 L802.3,470 L803.3,462.1 L804.3,470.4 L805.3,461.4 L806.3,471.2 L807.3,461 L808.3,470 L809.3,461.8 L810.3,468.8 L811.3,461.6 L812.3,477.1 L813.3,460 L814.3,469.2 L815.3,460.3 L816.3,470.3 L817.3,460.7 L818.3,468 L819.3,459 L820.3,469 L821.3,459.9 L822.3,469.1 L823.3,460 L824.3,469.1 L825.3,460.2 L826.3,469.4 L827.3,460.6 L828.3,468.1 L829.3,460.9 L830.3,468 L831.3,459.7 L832.3,470.5 L833.3,460.2 L834.3,469.6 L835.3,458.7 L836.3,469.5 L837.3,460.9 L838.3,469.3 L839.3,460.1 L840.3,470.1 L841.3,460.8 L842.3,469.3 L843.3,459.5 L844.3,467.6 L845.3,458.3 L846.3,468.6 L847.3,458.9 L848.3,468.3 L849.3,458 L850.3,468.2 L851.3,458.6 L852.3,466.8 L853.3,459.3 L854.3,469.1 L855.3,458.7 L856.3,473.6 L857.3,458.1 L858.3,473.8 L859.3,458.4 L860.3,474.1 L861.3,460.4 L862.3,468 L863.3,458.2 L864.3,467.8 L865.3,416.7 L866.3,425.3 L867.3,416.8 L868.3,424.8 L869.3,415.5 L870.3,425.3 L871.3,417.9 L872.3,426.7 L873.3,417 L874.3,427.2 L875.3,416.2 L876.3,425.8 L877.3,416.9 L878.3,425.6 L879.3,418 L880.3,427.7 L881.3,416.7 L882.3,426 L883.3,417.6 L884.3,426.6 L885.3,418 L886.3,425.4 L887.3,416 L888.3,425.8 L889.3,418 L890.3,425.2 L891.3,415.9 L892.3,431 L893.3,416.5 L894.3,424.8 L895.3,417.5 L896.3,425.7 L897.3,416.4 L898.3,425 L899.3,417.3 L900.3,424.7 L901.3,410.3 L902.3,426.6 L903.3,417.6 L904.3,425.8 L905.3,417.2 L906.3,425.6 L907.3,416.3 L908.3,425.3 L909.3,417.8 L910.3,425.9 L911.3,416.9 L912.3,425.6 L913.3,417.5 L914.3,424.9 L915.3,416.8 L916.3,424.6 L917.3,416.3 L918.3,425.7 L919.3,408.1 L920.3,424.7 L921.3,414.6 L922.3,424.7 L923.3,416 L924.3,423.2 L925.3,415.9 L926.3,422.7 L927.3,415.3 L928.3,424 L929.3,414.8 L930.3,424.9 L931.3,415 L932.3,423.9 L933.3,414.2 L934.3,352.5 L935.3,343.2 L936.3,352.2 L937.3,344.6 L938.3,352 L939.3,342.6 L940.3,353 L941.3,345.3 L942.3,353.4 L943.3,345 L944.3,353.7 L945.3,344.7 L946.3,354.3 L947.3,343.8 L948.3,353.2 L949.3,344.7 L950.3,353.6 L951.3,345.3 L952.3,355.6 L953.3,345 L954.3,356 L955.3,346.9 L956.3,354.2 L957.3,346.3 L958.3,355.7 L959.3,346.3 L960.3,355.8 L961.3,345.2 L962.3,355 L963.3,344.5 L964.3,355 L965.3,344.3 L966.3,353 L967.3,344.8 L968.3,353.5 L969.3,344.3 L970.3,355.2 L971.3,343.9 L972.3,354.4 L973.3,344.3 L974.3,354.8 L975.3,344.9 L976.3,353.5 L977.3,345.6 L978.3,354.1 L979.3,345.1 L980.3,354.8 L981.3,344.8 L982.3,355 L983.3,344.5 L984.3,359.3 L985.3,343.6 L986.3,355.2 L987.3,345.1 L988.3,353.1 L989.3,345.7 L990.3,353.5 L991.3,345.1 L992.3,352.9 L993.3,344.9 L994.3,353.9 L995.3,344.9 L996.3,353.7 L997.3,343.8 L998.3,351.3 L999.3,341.8 L1000.3,353.3 L1001.3,343.9 L1002.3,352.3 L1003.3,342 L1004.3,284.6 L1005.3,275.7 L1006.3,285.7 L1007.3,274.4 L1008.3,286.4 L1009.3,274.7 L1010.3,285.3 L1011.3,274.8 L1012.3,285.5 L1013.3,276.6 L1014.3,286.9 L1015.3,276.3 L1016.3,286.3 L1017.3,275.8 L1018.3,287 L1019.3,276 L1020.3,287.4 L1021.3,277.2 L1022.3,286.7 L1023.3,277.4 L1024.3,288.2 L1025.3,276.5 L1026.3,286.7 L1027.3,275.9 L1028.3,289.1 L1029.3,278 L1030.3,289 L1031.3,277.9 L1032.3,288.7 L1033.3,276.2 L1034.3,287 L1035.3,278.9 L1036.3,287.3 L1037.3,277.3 L1038.3,288.1 L1039.3,277.8 L1040.3,287 L1041.3,268.7 L1042.3,286.6 L1043.3,276.1 L1044.3,288.6 L1045.3,276.4 L1046.3,286.4 L1047.3,275 L1048.3,287.3 L1049.3,275 L1050.3,288 L1051.3,277.5 L1052.3,285.6 L1053.3,277.8 L1054.3,286.1 L1055.3,275.7 L1056.3,288.6 L1057.3,277.7 L1058.3,288.1 L1059.3,275.8 L1060.3,288.1 L1061.3,278.1 L1062.3,287.9 L1063.3,275.8 L1064.3,286.4 L1065.3,275.4 L1066.3,285.8 L1067.3,277.6 L1068.3,285.9 L1069.3,275.3 L1070.3,285.4 L1071.3,275.2 L1072.3,284.4 L1073.3,274 L1074.3,285.6 L1075.3,273.6 L1076.3,285.3 L1077.3,274.5 L1078.3,285 L1079.3,274.7 L1080.3,283.8 L1081.3,273.2 L1082.3,284.3 L1083.3,275 L1084.3,285.1 L1085.3,274.2 L1086.3,285.8 L1087.3,273.5 L1088.3,283.4 L1089.3,274.4 L1090.3,285.3 L1091.3,274.2 L1092.3,284 L1093.3,274.5 L1094.3,284.5 L1095.3,274.5 L1096.3,286.4 L1097.3,275.6 L1098.3,286.7 L1099.3,277.1 L1100.3,285.1 L1101.3,276.1 L1102.3,286.6 L1103.3,275.3 L1104.3,287.1 L1105.3,277.8 L1106.3,288.6 L1107.3,277.6 L1108.3,286.4 L1109.3,276.1 L1110.3,287.5 L1111.3,276.9 L1112.3,285.7 L1113.3,278.1 L1114.3,288 L1115.3,277.1 L1116.3,287 L1117.3,277.6 L1118.3,286.6 L1119.3,276.3 L1120.3,288.3 L1121.3,277.2 L1122.3,286.9 L1123.3,275.3 L1124.3,286.8 L1125.3,274.7 L1126.3,287.1 L1127.3,276.4 L1128.3,286.4 L1129.3,277.6 L1130.3,288.4 L1131.3,276.4 L1132.3,288 L1133.3,276.9 L1134.3,286.2 L1135.3,278.1 L1136.3,286.2 L1137.3,275.9 L1138.3,293.2 L1139.3,275.2 L1140.3,287.4 L1141.3,277.9 L1142.3,287.4 L1143.3,269.2 L1144.3,353.3 L1145.3,344.2 L1146.3,353.8 L1147.3,342.2 L1148.3,352.7 L1149.3,343 L1150.3,350.9 L1151.3,343.1 L1152.3,352.7 L1153.3,341.2 L1154.3,352.4 L1155.3,341.3 L1156.3,350.4 L1157.3,342.2 L1158.3,349.7 L1159.3,342 L1160.3,351 L1161.3,340.2 L1162.3,352.1 L1163.3,341.6 L1164.3,350.2 L1165.3,341.8 L1166.3,352.3 L1167.3,341.5 L1168.3,350.5 L1169.3,343.5 L1170.3,353.1 L1171.3,343.7 L1172.3,351 L1173.3,343.8 L1174.3,352.9 L1175.3,344.7 L1176.3,353 L1177.3,343.9 L1178.3,358.9 L1179.3,342.9 L1180.3,359.1 L1181.3,345 L1182.3,353 L1183.3,342.9 L1184.3,353.4 L1185.3,343.8 L1186.3,354 L1187.3,343.6 L1188.3,352.4 L1189.3,344.6 L1190.3,353.8 L1191.3,344.4 L1192.3,353.1 L1193.3,343.3 L1194.3,352.9 L1195.3,344.5 L1196.3,352.2 L1197.3,344.5 L1198.3,353.5 L1199.3,344.7 L1200.3,354.1 L1201.3,345 L1202.3,353.2 L1203.3,344 L1204.3,352.6 L1205.3,343.1 L1206.3,352.4 L1207.3,344.6 L1208.3,355.1 L1209.3,344.7 L1210.3,354.9 L1211.3,345.9 L1212.3,360.3 L1213.3,417.1 L1214.3,431.8 L1215.3,417.4 L1216.3,431.8 L1217.3,417 L1218.3,425.4 L1219.3,414.9 L1220.3,424.6 L1221.3,415.7 L1222.3,423.8 L1223.3,415.5 L1224.3,423.5 L1225.3,416.2 L1226.3,423.8 L1227.3,416.2 L1228.3,423.9 L1229.3,415 L1230.3,424.5 L1231.3,415 L1232.3,422.8 L1233.3,415.3 L1234.3,424 L1235.3,414.8 L1236.3,422.6 L1237.3,414 L1238.3,423.8 L1239.3,413.3 L1240.3,423.3 L1241.3,412.8 L1242.3,423.9 L1243.3,414.2 L1244.3,424.4 L1245.3,413.4 L1246.3,425 L1247.3,415.8 L1248.3,423.7 L1249.3,416.1 L1250.3,424.6 L1251.3,415.6 L1252.3,425.8 L1253.3,415.7 L1254.3,424.6 L1255.3,415.3 L1256.3,426.3 L1257.3,417.2 L1258.3,425.1 L1259.3,415.1 L1260.3,426.4 L1261.3,417.3 L1262.3,425.3 L1263.3,417.8 L1264.3,426 L1265.3,417 L1266.3,426.3 L1267.3,410.7 L1268.3,425.1 L1269.3,417 L1270.3,426.1 L1271.3,415.1 L1272.3,426.3 L1273.3,417.6 L1274.3,425.8 L1275.3,415.1 L1276.3,425.6 L1277.3,409 L1278.3,425 L1279.3,417.5 L1280.3,425.4 L1281.3,417.6 L1282.3,426.5 L1283,537.1 L1283.6,537.1 L1283.3,456.7 L1284.3,471.1 L1285.3,456.9 L1286.3,470.2 L1287.3,457 L1288.3,470.1 L1289.3,460.6 L1290.3,469.2 L1291.3,460 L1292.3,469.9 L1293.3,461.4 L1294.3,471.6 L1295.3,461.7 L1296.3,470 L1297.3,460.3 L1298.3,475.7 L1299.3,461.4 L1300.3,468.9 L1301.3,459.6 L1302.3,468.1 L1303.3,458.6 L1304.3,473.6 L1305.3,458.4 L1306.3,473.3 L1307.3,458.4 L1308.3,467.1 L1309.3,460.2 L1310.3,468.9 L1311.3,460 L1312.3,469.3 L1313.3,458.9 L1314.3,468.7 L1315.3,458.9 L1316.3,469.2 L1317.3,458.8 L1318.3,468.6 L1319.3,458.8 L1320.3,467.9 L1321.3,458.2 L1322.3,469.1 L1323.3,458.4 L1324.3,469.9 L1325.3,459.9 L1326.3,473 L1327.3,460.4 L1328.3,473.3 L1329.3,461.4 L1330.3,470.3 L1331.3,459.9 L1332.3,468.6 L1333.3,459.8 L1334.3,470.1 L1335.3,460.7 L1336.3,469.9 L1337.3,460.1 L1338.3,470.8 L1339.3,460.2 L1340.3,471.1 L1341.3,459.9 L1342.3,469.5 L1343.3,460.3 L1344.3,470 L1345.3,461.7 L1346.3,470 L1347.3,459.9 L1348.3,470.5 L1349.3,461.5 L1350.3,470.8 L1351.3,461.2 L1352.3,469.8 L1352.8,514.1 L1353.4,514.1 L1353.3,394.2 L1354.3,404 L1355.3,395.9 L1356.3,405.1 L1357.3,396.3 L1358.3,404.8 L1359.3,395.9 L1360.3,406.6 L1361.3,397.3 L1362.3,405.4 L1363.3,395.2 L1364.3,405.2 L1365.3,396.5 L1366.3,406.4 L1367.3,396.4 L1368.3,405.1 L1369.3,395.2 L1370.3,406.7 L1371.3,395.9 L1372.3,404.7 L1373.3,394.8 L1374.3,405 L1375.3,396.2 L1376.3,405 L1377.3,394.8 L1378.3,402.9 L1379.3,394.6 L1380.3,404 L1381.3,395.1 L1382.3,403.2 L1383.3,393.4 L1384.3,401.9 L1385.3,393.6 L1386.3,403.4 L1387.3,388 L1388.3,403.8 L1389.3,387.8 L1390.3,402.8 L1391.3,387.7 L1392.3,402.8 L1393.3,393 L1394.3,401.6 L1395.3,393.8 L1396.3,401.4 L1397.3,394.1 L1398.3,404.1 L1399.3,394.3 L1400.3,403.5 L1401.3,393.5 L1402.3,402.1 L1403.3,393.6 L1404.3,402.4 L1405.3,395.6 L1406.3,404.4 L1407.3,394.9 L1408.3,402.9 L1409.3,393.8 L1410.3,404.8 L1411.3,394.7 L1412.3,404.7 L1413.3,395.2 L1414.3,403.7 L1415.3,394.5 L1416.3,403.8 L1417.3,395.2 L1418.3,403.8 L1419.3,395.7 L1420.3,403.5 L1421.3,394 L1422.3,404 L1422.6,451.5 L1423.2,451.5 L1423.3,337.1 L1424.3,346.9 L1425.3,335.7 L1426.3,345.7 L1427.3,336.6 L1428.3,344.7 L1429.3,337.4 L1430.3,345.4 L1431.3,337.9 L1432.3,346.1 L1433.3,336.2 L1434.3,345.5 L1435.3,336.7 L1436.3,347.5 L1437.3,337.1 L1438.3,345.3 L1439.3,336.5 L1440.3,345.5 L1441.3,337.4 L1442.3,346.4 L1443.3,336.3 L1444.3,346.7 L1445.3,337.4 L1446.3,347.1 L1447.3,337.8 L1448.3,346.5 L1449.3,338.3 L1450.3,346 L1451.3,335.7 L1452.3,346.5 L1453.3,336 L1454.3,344.3 L1455.3,336.9 L1456.3,344.3 L1457.3,328 L1458.3,344.3 L1459.3,335.2 L1460.3,345 L1461.3,327.2 L1462.3,344.8 L1463.3,326.9 L1464.3,343.8 L1465.3,326.7 L1466.3,343.9 L1467.3,333 L1468.3,344.4 L1469.3,333 L1470.3,343.8 L1471.3,335.3 L1472.3,344.6 L1473.3,334.4 L1474.3,342.6 L1475.3,335.2 L1476.3,345.2 L1477.3,335.6 L1478.3,343.5 L1479.3,335 L1480.3,343.9 L1481.3,336.2 L1482.3,344.7 L1483.3,335.1 L1484.3,345.4 L1485.3,336.8 L1486.3,345.7 L1487.3,336.2 L1488.3,344 L1489.3,335.6 L1490.3,345 L1491.3,334.9 L1492.3,344.2 L1492.3,390.9 L1492.9,390.9 L1493.3,285.2 L1494.3,294.9 L1495.3,286.1 L1496.3,295.2 L1497.3,285.2 L1498.3,292.8 L1499.3,285.3 L1500.3,294.4 L1501.3,285.7 L1502.3,293.4 L1503.3,284.2 L1504.3,293.6 L1505.3,285.9 L1506.3,294.5 L1507.3,284.7 L1508.3,293.1 L1509.3,284.1 L1510.3,295.6 L1511.3,286.1 L1512.3,295.7 L1513.3,286.8 L1514.3,293.9 L1515.3,278.9 L1516.3,294.9 L1517.3,279.1 L1518.3,296.5 L1519.3,279.1 L1520.3,295.5 L1521.3,284.8 L1522.3,294.1 L1523.3,286.6 L1524.3,295.5 L1525.3,284.5 L1526.3,295.3 L1527.3,284.6 L1528.3,295.4 L1529.3,284.6 L1530.3,293.9 L1531.3,285.1 L1532.3,293.8 L1533.3,284.4 L1534.3,294.1 L1535.3,282.8 L1536.3,293.5 L1537.3,284.5 L1538.3,292.9 L1539.3,284.2 L1540.3,293.5 L1541.3,283.9 L1542.3,293.4 L1543.3,283.1 L1544.3,292.1 L1545.3,276.1 L1546.3,292 L1547.3,283.2 L1548.3,292.1 L1549.3,282.4 L1550.3,291.9 L1551.3,282 L1552.3,291.9 L1553.3,283 L1554.3,293.2 L1555.3,283.8 L1556.3,293.9 L1557.3,283.3 L1558.3,292.6 L1559.3,284.8 L1560.3,300.3 L1561.3,283.9 L1562.3,364.3 L1563.3,353.9 L1564.3,360.7 L1565.3,350.6 L1566.3,356.9 L1567.3,345.3 L1568.3,354.5 L1569.3,343 L1570.3,351.6 L1571.3,340.8 L1572.3,350.1 L1573.3,338.5 L1574.3,348.8 L1575.3,338.9 L1576.3,346.5 L1577.3,336.9 L1578.3,347 L1579.3,336.5 L1580.3,345.4 L1581.3,335.7 L1582.3,343.8 L1583.3,337.6 L1584.3,342 L1585.3,336.4 L1586.3,341.8 L1587.3,336.2 L1588.3,341 L1589.3,336.8 L1590.3,342.1 L1591.3,335.7 L1592.3,341.6 L1593.3,335.1 L1594.3,342 L1595.3,334.8 L1596.3,340.7 L1597.3,335.4 L1598.3,340.3 L1599.3,335 L1600.3,340.6 L1601.3,335.2 L1602.3,340.5 L1603.3,334.2 L1604.3,339.5 L1605.3,335.1 L1606.3,339.9 L1607.3,335.1 L1608.3,340 L1609.3,334.9 L1610.3,340.2 L1611.3,334.2 L1612.3,339.2 L1613.3,333.9 L1614.3,339.1 L1615.3,333.5 L1616.3,338.9 L1617.3,333.5 L1618.3,338.3 L1619.3,333 L1620.3,338.2 L1621.3,333.8 L1622.3,338 L1623.3,333 L1624.3,338.9 L1625.3,333.4 L1626.3,338.3 L1627.3,333.1 L1628.3,338.7 L1629.3,333 L1630.3,339.7 L1631.3,333.7 L1632.3,339.8 L1633.3,333.1 L1634.3,339.5 L1635.3,333.4 L1636.3,338.9 L1637.3,333.5 L1638.3,340.1 L1639.3,334.6 L1640.3,339.1 L1641.3,334 L1642.3,338.8 L1643.3,333.6 L1644.3,340.2 L1645.3,333.9 L1646.3,338.8 L1647.3,333.9 L1648.3,340.2 L1649.3,333.8 L1650.3,339.4 L1651.3,334.3 L1652.3,339.8 L1653.3,334.7 L1654.3,339 L1655.3,334.4 L1656.3,339.6 L1657.3,334.8 L1658.3,339.9 L1659.3,334.5 L1660.3,340.5 L1661.3,334.4 L1662.3,339.8 L1663.3,334.6 L1664.3,340.4 L1665.3,334.4 L1666.3,339.7 L1667.3,334.3 L1668.3,340.5 L1669.3,334.9 L1670.3,340.4 L1671.3,334.8 L1672.3,340.4 L1673.3,335.4 L1674.3,340.5 L1675.3,335.7 L1676.3,340.3 L1677.3,335.3 L1678.3,340.8 L1679.3,334.9 L1680.3,340.8 L1681.3,334.8 L1682.3,339.8 L1683.3,334.5 L1684.3,339.9 L1685.3,334.4 L1686.3,340.8 L1687.3,334 L1688.3,340.1 L1689.3,333.3 L1690.3,339.8 L1691.3,333.9 L1692.3,340 L1693.3,333.6 L1694.3,339.8 L1695.3,330.3 L1696.3,338.9 L1697.3,330.2 L1698.3,339 L1699.3,334.4 L1700.3,339.1 L1701.3,333.4 L1702.3,339.9 L1703.3,333.7 L1704.3,339.3 L1705.3,334.5 L1706.3,339.8 L1707.3,334.4 L1708.3,340.4 L1709.3,334.2 L1710.3,340.2 L1711.3,334.5 L1712.3,339.7 L1713.3,333.8 L1714.3,339.1 L1715.3,333.6 L1716.3,339.3 L1717.3,335 L1718.3,340.4 L1719.3,333.7 L1720.3,344 L1721.3,335 L1722.3,344 L1723.3,334 L1724.3,343.6 L1725.3,334.3 L1726.3,343.6 L1727.3,334.9 L1728.3,340.3 L1729.3,334.8 L1730.3,339.7 L1731.3,334 L1732.3,340.7 L1733.3,334.5 L1734.3,339.5 L1735.3,334.8 L1736.3,339.6 L1737.3,334.5 L1738.3,340.2 L1739.3,334.4 L1740.3,340.8 L1741.3,335.7 L1742.3,340 L1743.3,335.1 L1744.3,341.3 L1745.3,334.7 L1746.3,340.6 L1747.3,335.1 L1748.3,341.2 L1749.3,335.5 L1750.3,340.9 L1751.3,334.8 L1752.3,341.7 L1753.3,335.6 L1754.3,341 L1755.3,335.5 L1756.3,340.5 L1757.3,335.7 L1758.3,341.2 L1759.3,334.7 L1760.3,340.4 L1761.3,335.2 L1762.3,341 L1763.3,330.1 L1764.3,340.6 L1765.3,329.9 L1766.3,339.5 L1767.3,329.7 L1768.3,339.7 L1769.3,333.3 L1770.3,339.3 L1771.3,333.1 L1772.3,340.2 L1773.3,333.6 L1774.3,338.8 L1775.3,333.7 L1776.3,338.7 L1777.3,333 L1778.3,339.4 L1779.3,333.4 L1780.3,339.2 L1781.3,333.5 L1782.3,339.9 L1783.3,333.4 L1784.3,339.3 L1785.3,333.7 L1786.3,339.6 L1787.3,330.6 L1788.3,340.1 L1789.3,330.6 L1790.3,339.7 L1791.3,334.8 L1792.3,339.9 L1793.3,334.7 L1794.3,339.9 L1795.3,330.2 L1796.3,340 L1797.3,330.2 L1798.3,340.5 L1799.3,334.1 L1800.3,339.1 L1801.3,333.5 L1802.3,340.2 L1803.3,333.8 L1804.3,339.8 L1805.3,334.9 L1806.3,339.7 L1807.3,334.4 L1808.3,340.1 L1809.3,334.9 L1810.3,340 L1811.3,333.8 L1812.3,339.7 L1813.3,335 L1814.3,340.3 L1815.3,334.3 L1816.3,341 L1817.3,334 L1818.3,339.9 L1819.3,334.7 L1820.3,340.8 L1821.3,334.7 L1822.3,341.4 L1823.3,335.2 L1824.3,341.5 L1825.3,335.7 L1826.3,340.8 L1827.3,335.7 L1828.3,340 L1829.3,335.4 L1830.3,340.4 L1831.3,335.6 L1832.3,343.7 L1833.3,335.2 L1834.3,343.6 L1835.3,335.4 L1836.3,340.9 L1837.3,334.1 L1838.3,339.6 L1839.3,335 L1840.3,339.9 L1841.3,333.8 L1842.3,339.8 L1843.3,334.5 L1844.3,338.9 L1845.3,333.3 L1846.3,339.2 L1847.3,334.2 L1848.3,338.9 L1849.3,333.7 L1850.3,338.5 L1851.3,333.5 L1852.3,339.6 L1853.3,333.8 L1854.3,339.1 L1855.3,334.2 L1856.3,339.4 L1857.3,333.6 L1858.3,338.4 L1859.3,332.9 L1860.3,339.8 L1861.3,332.9 L1862.3,339.1 L1863.3,334 L1864.3,338.5 L1865.3,333.6 L1866.3,338.9 L1867.3,334.3 L1868.3,339.9 L1869.3,334.3 L1870.3,339 L1871.3,333.4 L1872.3,338.9 L1873.3,333.3 L1874.3,339 L1875.3,334.1 L1876.3,339.3 L1877.3,333.4 L1878.3,338.4 L1879.3,333.7 L1880.3,339.2 L1881.3,333.3 L1882.3,339.3 L1883.3,334.1 L1884.3,339.8 L1885.3,333 L1886.3,339.1 L1887.3,333.7 L1888.3,339.8 L1889.3,333.7 L1890.3,339.2 L1891.3,330.6 L1892.3,339.6 L1893.3,330.8 L1894.3,339.9 L1895.3,334 L1896.3,339.6 L1897.3,334.3 L1898.3,340.7 L1899.3,334.7 L1900.3,340.6 L1901.3,335.2 L1902.3,340.6 L1903.3,334.2 L1904.3,340.4 L1905.3,334.9 L1906.3,340.4 L1907.3,334 L1908.3,340.1 L1909.3,334.6 L1910.3,339.3" fill="none" stroke="#960000" stroke-width="3.5" stroke-linejoin="round" clip-path="url(#cpa)"/>
<path d="M236.3,941 L237.3,939.3 L238.3,941.2 L239.3,939.6 L240.3,941.2 L241.3,939.7 L242.3,941.4 L243.3,500.7 L244.3,475.6 L245.3,451.8 L246.3,434.8 L247.3,417 L248.3,406.2 L249.3,393 L250.3,385.9 L251.3,376.5 L252.3,371.8 L253.3,365 L254.3,362.1 L255.3,356.6 L256.3,355.2 L257.3,349.6 L258.3,350.7 L259.3,345.5 L260.3,347.3 L261.3,344.1 L262.3,344.9 L263.3,342 L264.3,347.5 L265.3,338.7 L266.3,345.6 L267.3,338.4 L268.3,343.8 L269.3,337.9 L270.3,343.7 L271.3,337.1 L272.3,344.3 L273.3,336.9 L274.3,343.5 L275.3,335.4 L276.3,343.7 L277.3,334.9 L278.3,343.8 L279.3,335.2 L280.3,342.2 L281.3,336.1 L282.3,342.5 L283.3,334.7 L284.3,343.4 L285.3,336 L286.3,342.2 L287.3,335.8 L288.3,342.8 L289.3,336.6 L290.3,342.3 L291.3,335.5 L292.3,342.6 L293.3,330.8 L294.3,342.5 L295.3,330.7 L296.3,341.6 L297.3,330.4 L298.3,341.1 L299.3,335.7 L300.3,341.9 L301.3,334 L302.3,341.8 L303.3,333.7 L304.3,340.5 L305.3,334.6 L306.3,340.9 L307.3,334.9 L308.3,340.2 L309.3,333 L310.3,340.8 L311.3,333.5 L312.3,342 L313.3,334.7 L314.3,340 L315.3,333.7 L316.3,340.3 L317.3,333.3 L318.3,341.1 L319.3,335.1 L320.3,341.7 L321.3,334.4 L322.3,340.5 L323.3,334.7 L324.3,342.2 L325.3,334.7 L326.3,342 L327.3,333.8 L328.3,342 L329.3,334.7 L330.3,342.2 L331.3,333.6 L332.3,341.8 L333.3,333.9 L334.3,341.3 L335.3,334.7 L336.3,341.4 L337.3,334.4 L338.3,340.7 L339.3,333.9 L340.3,340.9 L341.3,334.3 L342.3,341.1 L343.3,333.9 L344.3,340.4 L345.3,333.3 L346.3,341.2 L347.3,335 L348.3,341.9 L349.3,335.2 L350.3,342 L351.3,334.7 L352.3,346.3 L353.3,335.2 L354.3,346.5 L355.3,334.2 L356.3,341.8 L357.3,335.8 L358.3,341.7 L359.3,335 L360.3,343.1 L361.3,335.5 L362.3,342.1 L363.3,335.2 L364.3,342.5 L365.3,336.1 L366.3,342.4 L367.3,334.8 L368.3,348.5 L369.3,334.8 L370.3,342.9 L371.3,336 L372.3,343.7 L373.3,334.7 L374.3,342.9 L375.3,335.5 L376.3,343.1 L377.3,335.5 L378.3,341.6 L379.3,335.7 L380.3,343 L381.3,334.3 L382.3,342.6 L383.3,335 L384.3,341.2 L385.3,335.2 L386.3,342.3 L387.3,335.4 L388.3,342.6 L389.3,334.3 L390.3,342 L391.3,334.3 L392.3,342.1 L393.3,336.1 L394.3,342.7 L395.3,335.3 L396.3,342.4 L397.3,336.1 L398.3,342.9 L399.3,334.7 L400.3,342.8 L401.3,334.3 L402.3,343.3 L403.3,334.6 L404.3,341.4 L405.3,335.9 L406.3,341.8 L407.3,335.4 L408.3,342.2 L409.3,334.2 L410.3,342.3 L411.3,333.9 L412.3,342.4 L413.3,334.2 L414.3,341.3 L415.3,334.3 L416.3,341.6 L417.3,333.3 L418.3,340.5 L419.3,333.2 L420.3,341.1 L421.3,333.8 L422.3,341 L423.3,333.5 L424.3,340.4 L425.3,333.7 L426.3,340.9 L427.3,333.1 L428.3,340.8 L429.3,332.4 L430.3,340.2 L431.3,333.2 L432.3,341 L433.3,334.2 L434.3,340.7 L435.3,334.3 L436.3,340.3 L437.3,333.6 L438.3,340.7 L439.3,334.4 L440.3,340.6 L441.3,334 L442.3,341.9 L443.3,334 L444.3,341.3 L445.3,333.9 L446.3,340 L447.3,333.3 L448.3,340.6 L449.3,333.2 L450.3,340.8 L451.3,333.5 L452.3,339.5 L453.3,332.9 L454.3,339.5 L455.3,332.2 L456.3,340.3 L457.3,333.4 L458.3,340.7 L459.3,333.2 L460.3,339.5 L461.3,333.6 L462.3,340.4 L463.3,333.2 L464.3,340.9 L465.3,332.5 L466.3,339.7 L467.3,333.3 L468.3,340.7 L469.3,334.4 L470.3,341.9 L471.3,334 L472.3,340.6 L473.3,334.3 L474.3,342.4 L475.3,335 L476.3,342.4 L477.3,334.3 L478.3,342.3 L479.3,335.6 L480.3,341.9 L481.3,333.8 L482.3,341.3 L483.3,335 L484.3,341.4 L485.3,335.1 L486.3,341.1 L487.3,334.8 L488.3,342.3 L489.3,335.1 L490.3,342.4 L491.3,334.7 L492.3,341.7 L493.3,334.5 L494.3,341.4 L495.3,333.6 L496.3,342.3 L497.3,333.3 L498.3,345.8 L499.3,335.1 L500.3,341.6 L501.3,334.8 L502.3,342 L503.3,335.4 L504.3,342.5 L505.3,334.9 L506.3,342.5 L507.3,334.9 L508.3,340.9 L509.3,335 L510.3,341.2 L511.3,334.1 L512.3,341.1 L513.3,335.8 L514.3,342.2 L515.3,335.3 L516.3,341.6 L517.3,335.6 L518.3,340.9 L519.3,335.3 L520.3,341.1 L521.3,335 L522.3,342.1 L523.3,333.3 L524.3,341.4 L525.3,334.5 L526.3,342.1 L527.3,333.3 L528.3,341 L529.3,333.2 L530.3,340.2 L531.3,334.4 L532.3,341.3 L533.3,333.5 L534.3,339.4 L535.3,333.8 L536.3,340.1 L537.3,332.9 L538.3,340.3 L539.3,332.5 L540.3,340.6 L541.3,333.4 L542.3,339.4 L543.3,334.1 L544.3,340 L545.3,332.4 L546.3,341 L547.3,333.3 L548.3,339.7 L549.3,334.1 L550.3,340.5 L551.3,334.1 L552.3,341.6 L553.3,333.7 L554.3,341.2 L555.3,333.1 L556.3,341.3 L557.3,332.6 L558.3,339.6 L559.3,332.5 L560.3,340 L561.3,333 L562.3,340.7 L563.3,333.8 L564.3,340.6 L565.3,333.1 L566.3,339.7 L567.3,332.8 L568.3,339.1 L569.3,332.8 L570.3,343.5 L571.3,333.5 L572.3,339.9 L573.3,331.8 L574.3,340.8 L575.3,333.8 L576.3,339.6 L577.3,333.8 L578.3,340.3 L579.3,333.9 L580.3,341 L581.3,332.5 L582.3,341.6 L583.3,333.2 L584.3,341.8 L585.3,330.5 L586.3,316.2 L587.3,283.7 L588.3,276.5 L589.3,239.5 L590.3,260.9 L591.3,255.3 L592.3,276.2 L593.3,265.7 L594.3,281.4 L595.3,274.6 L596.3,287.9 L597.3,280.9 L598.3,291.9 L599.3,285 L600.3,294.9 L601.3,287.5 L602.3,296.2 L603.3,287.9 L604.3,296.6 L605.3,289.4 L606.3,299 L607.3,290.9 L608.3,298.8 L609.3,290.6 L610.3,300.9 L611.3,291.4 L612.3,301.2 L613.3,292.1 L614.3,300 L615.3,292.4 L616.3,301.8 L617.3,290.9 L618.3,301.5 L619.3,293 L620.3,302.6 L621.3,291 L622.3,300.7 L623.3,293.2 L624.3,301.8 L625.3,293.4 L626.3,303.2 L627.3,291.4 L628.3,303.1 L629.3,286.8 L630.3,302.7 L631.3,293.6 L632.3,302.2 L633.3,293.8 L634.3,302.9 L635.3,293.5 L636.3,300.4 L637.3,293.1 L638.3,302.3 L639.3,290.5 L640.3,300.6 L641.3,292.6 L642.3,300.5 L643.3,290.3 L644.3,300 L645.3,291.2 L646.3,300.5 L647.3,291.9 L648.3,301.2 L649.3,290.2 L650.3,298.8 L651.3,291.6 L652.3,299.2 L653.3,286.1 L654.3,301.2 L655,189 L655.6,189 L655.3,437.8 L656.3,451.1 L657.3,438.4 L658.3,448.6 L659.3,437.6 L660.3,448.6 L661.3,436.8 L662.3,451.1 L663.3,438.9 L664.3,449.6 L665.3,439.9 L666.3,451.5 L667.3,438.6 L668.3,450.9 L669.3,437.3 L670.3,448.9 L671.3,438.9 L672.3,451.1 L673.3,437.5 L674.3,448.4 L675.3,438.2 L676.3,449.6 L677.3,437.3 L678.3,447.2 L679.3,438.6 L680.3,449.9 L681.3,435.5 L682.3,450 L683.3,436.4 L684.3,447.5 L685.3,436 L686.3,448.4 L687.3,435.5 L688.3,448.8 L689.3,437.7 L690.3,449.6 L691.3,437 L692.3,450.8 L693.3,436.8 L694.3,449.3 L695.3,438.2 L696.3,449.6 L697.3,439.6 L698.3,448.7 L699.3,438.4 L700.3,452.2 L701.3,440.5 L702.3,450.5 L703.3,437.7 L704.3,449.7 L705.3,439.1 L706.3,449.6 L707.3,439.2 L708.3,452.8 L709.3,440.5 L710.3,449.6 L711.3,440.4 L712.3,458.1 L713.3,438 L714.3,449.7 L715.3,440 L716.3,451.4 L717.3,437.9 L718.3,450.7 L719.3,429.6 L720.3,450.1 L721.3,429.7 L722.3,450.1 L723.3,430.4 L724.3,449.6 L724.8,390.9 L725.4,390.9 L725.3,589.3 L726.3,599 L727.3,586.9 L728.3,599.4 L729.3,588.2 L730.3,600.6 L731.3,589 L732.3,601.8 L733.3,589.8 L734.3,599.4 L735.3,590.2 L736.3,601.9 L737.3,589.4 L738.3,602.4 L739.3,591.4 L740.3,600.7 L741.3,591.4 L742.3,600.4 L743.3,590.6 L744.3,600.8 L745.3,590.9 L746.3,601 L747.3,590.2 L748.3,601.8 L749.3,590.5 L750.3,601.2 L751.3,587.7 L752.3,599.1 L753.3,588.7 L754.3,601.7 L755.3,588.3 L756.3,600.4 L757.3,589.1 L758.3,599.7 L759.3,586.5 L760.3,600.4 L761.3,588.5 L762.3,601.2 L763.3,587.3 L764.3,599.7 L765.3,586.2 L766.3,598.1 L767.3,587.7 L768.3,600.9 L769.3,589.6 L770.3,598.9 L771.3,589.1 L772.3,598.7 L773.3,589.4 L774.3,598.4 L775.3,580.5 L776.3,600.6 L777.3,580.5 L778.3,598.6 L779.3,587.1 L780.3,609 L781.3,589 L782.3,608.8 L783.3,589.5 L784.3,599.9 L785.3,589 L786.3,604.6 L787.3,588.1 L788.3,599.8 L789.3,587.7 L790.3,598.6 L791.3,586.3 L792.3,597.2 L793.3,586.2 L794.3,597.7 L794.5,528.2 L795.1,528.2 L795.3,749.6 L796.3,762.9 L797.3,748.6 L798.3,762.6 L799.3,750.5 L800.3,762.5 L801.3,751.5 L802.3,762.1 L803.3,751.1 L804.3,763.7 L805.3,749.2 L806.3,764.8 L807.3,749.8 L808.3,762.9 L809.3,750.7 L810.3,764.2 L811.3,749.8 L812.3,766.1 L813.3,752.5 L814.3,765.9 L815.3,752.2 L816.3,766.4 L817.3,753.4 L818.3,764.2 L819.3,752.6 L820.3,763.2 L821.3,752.1 L822.3,764.7 L823.3,751.5 L824.3,766 L825.3,753.7 L826.3,764.8 L827.3,752.4 L828.3,765.3 L829.3,751.7 L830.3,764.5 L831.3,750.7 L832.3,762.6 L833.3,752.1 L834.3,763.6 L835.3,751.8 L836.3,764.2 L837.3,753.5 L838.3,764.1 L839.3,753.8 L840.3,766.3 L841.3,750.5 L842.3,766.8 L843.3,753 L844.3,764.2 L845.3,752.4 L846.3,764.6 L847.3,751.8 L848.3,768.1 L849.3,754.8 L850.3,767.3 L851.3,755 L852.3,765.4 L853.3,755.1 L854.3,765.9 L855.3,755.1 L856.3,766.6 L857.3,755.8 L858.3,764.9 L859.3,755.6 L860.3,768 L861.3,754.5 L862.3,766 L863.3,755.1 L864.3,764.7 L864.3,689.7 L864.9,689.7 L865.3,717.9 L866.3,729.5 L867.3,716.7 L868.3,728.3 L869.3,716.7 L870.3,728.3 L871.3,718.2 L872.3,728.7 L873.3,715.8 L874.3,727.8 L875.3,717.8 L876.3,730.2 L877.3,717.2 L878.3,730 L879.3,716.3 L880.3,727.3 L881.3,710.9 L882.3,728.2 L883.3,718.3 L884.3,730.7 L885.3,717.8 L886.3,730.2 L887.3,716 L888.3,728.3 L889.3,715.9 L890.3,730.4 L891.3,717.3 L892.3,729.3 L893.3,716.1 L894.3,729.5 L895.3,717.1 L896.3,729.6 L897.3,714.9 L898.3,728.8 L899.3,715 L900.3,727.7 L901.3,714.8 L902.3,725.7 L903.3,716.6 L904.3,727.9 L905.3,716.4 L906.3,727 L907.3,715.5 L908.3,725.4 L909.3,714.8 L910.3,726.3 L911.3,715.1 L912.3,727.3 L913.3,715.4 L914.3,724.7 L915.3,714.7 L916.3,727.6 L917.3,715.6 L918.3,725.1 L919.3,714.4 L920.3,725.4 L921.3,713.5 L922.3,727.1 L923.3,715.8 L924.3,725.3 L925.3,713.7 L926.3,725.6 L927.3,714.5 L928.3,727 L929.3,714.9 L930.3,727.9 L931.3,715.6 L932.3,727.9 L933.3,714.8 L934.3,619.1 L935.3,607.2 L936.3,617 L937.3,606.7 L938.3,617.1 L939.3,604.5 L940.3,618.5 L941.3,604.7 L942.3,615.8 L943.3,606.2 L944.3,618.6 L945.3,604.4 L946.3,616.9 L947.3,607.1 L948.3,618.9 L949.3,604.2 L950.3,617.3 L951.3,607 L952.3,616.7 L953.3,605.3 L954.3,619.7 L955.3,605.7 L956.3,617.3 L957.3,605.2 L958.3,617.3 L959.3,606.6 L960.3,618.9 L961.3,608.9 L962.3,619.6 L963.3,609.5 L964.3,618.3 L965.3,609.2 L966.3,621.5 L967.3,607.6 L968.3,619 L969.3,606.6 L970.3,621.2 L971.3,609.2 L972.3,621.1 L973.3,609.1 L974.3,618.7 L975.3,606.2 L976.3,626.1 L977.3,606.5 L978.3,625.8 L979.3,607.9 L980.3,618 L981.3,605.5 L982.3,617.8 L983.3,605.8 L984.3,619.9 L985.3,608.2 L986.3,617.3 L987.3,607.4 L988.3,617.6 L989.3,608.1 L990.3,619.9 L991.3,607.8 L992.3,619.6 L993.3,606.4 L994.3,617.2 L995.3,606.5 L996.3,620.4 L997.3,607.8 L998.3,618.9 L999.3,609.1 L1000.3,621 L1001.3,606.4 L1002.3,619.7 L1003.3,607.6 L1004.3,560.5 L1005.3,534.5 L1006.3,540.1 L1007.3,521 L1008.3,531.9 L1009.3,511.9 L1010.3,522.8 L1011.3,509.4 L1012.3,521.7 L1013.3,504 L1014.3,519.4 L1015.3,501.8 L1016.3,516.4 L1017.3,501.1 L1018.3,516.7 L1019.3,500.8 L1020.3,515 L1021.3,502.7 L1022.3,512.7 L1023.3,500.7 L1024.3,515.6 L1025.3,499.2 L1026.3,513.9 L1027.3,498.9 L1028.3,513.5 L1029.3,499.6 L1030.3,515 L1031.3,501.6 L1032.3,512.4 L1033.3,501.4 L1034.3,515.6 L1035.3,501.4 L1036.3,514.6 L1037.3,499.9 L1038.3,514.2 L1039.3,500.1 L1040.3,516.7 L1041.3,499.4 L1042.3,515.4 L1043.3,499.6 L1044.3,514.5 L1045.3,503.2 L1046.3,514.6 L1047.3,499.7 L1048.3,513.8 L1049.3,502.9 L1050.3,514.1 L1051.3,502.4 L1052.3,515 L1053.3,501.2 L1054.3,515.7 L1055.3,499.1 L1056.3,513.2 L1057.3,498.2 L1058.3,513.6 L1059.3,499.5 L1060.3,513.7 L1061.3,500.6 L1062.3,515.5 L1063.3,500 L1064.3,514 L1065.3,500.1 L1066.3,513.4 L1067.3,500.6 L1068.3,514.2 L1069.3,499.9 L1070.3,516.2 L1071.3,502.9 L1072.3,513.9 L1073.3,503.7 L1074.3,514.9 L1075.3,503.2 L1076.3,517.7 L1077.3,504.9 L1078.3,517.3 L1079.3,496.5 L1080.3,517.3 L1081.3,503.7 L1082.3,515.5 L1083.3,504.3 L1084.3,517.2 L1085.3,504.3 L1086.3,517.8 L1087.3,505.3 L1088.3,517.5 L1089.3,504.5 L1090.3,517.8 L1091.3,503.1 L1092.3,517.3 L1093.3,505 L1094.3,517.8 L1095.3,501.1 L1096.3,516.4 L1097.3,502 L1098.3,515.8 L1099.3,502.4 L1100.3,517.6 L1101.3,504.1 L1102.3,515.2 L1103.3,501.4 L1104.3,515.9 L1105.3,502.3 L1106.3,517.7 L1107.3,502 L1108.3,518.1 L1109.3,502.4 L1110.3,518.4 L1111.3,505.7 L1112.3,516.8 L1113.3,505.5 L1114.3,517.4 L1115.3,504.2 L1116.3,520.1 L1117.3,506.1 L1118.3,516.6 L1119.3,504.3 L1120.3,518.6 L1121.3,502.9 L1122.3,516.7 L1123.3,505.7 L1124.3,515.5 L1125.3,503.4 L1126.3,518.9 L1127.3,493 L1128.3,516 L1129.3,492.5 L1130.3,515.9 L1131.3,492.1 L1132.3,515.3 L1133.3,502.9 L1134.3,514 L1135.3,502.4 L1136.3,521.3 L1137.3,499.5 L1138.3,516.7 L1139.3,500 L1140.3,516.7 L1141.3,503.3 L1142.3,522.9 L1143.3,500.4 L1144.3,625.2 L1145.3,604.1 L1146.3,616.3 L1147.3,605.9 L1148.3,619.8 L1149.3,603.8 L1150.3,618.9 L1151.3,605.9 L1152.3,618.8 L1153.3,606.1 L1154.3,616.9 L1155.3,607.1 L1156.3,617 L1157.3,604.1 L1158.3,619.8 L1159.3,604.5 L1160.3,619.7 L1161.3,606.3 L1162.3,617.1 L1163.3,604.5 L1164.3,619.7 L1165.3,605.6 L1166.3,618 L1167.3,603.3 L1168.3,619.2 L1169.3,604.9 L1170.3,625.7 L1171.3,605.4 L1172.3,625.7 L1173.3,604.2 L1174.3,617.3 L1175.3,603.2 L1176.3,616.8 L1177.3,606.1 L1178.3,616.9 L1179.3,605.4 L1180.3,617.9 L1181.3,605.8 L1182.3,619.8 L1183.3,604.9 L1184.3,619.6 L1185.3,605.5 L1186.3,620.9 L1187.3,605.4 L1188.3,618.1 L1189.3,605.7 L1190.3,621.8 L1191.3,606.1 L1192.3,619.9 L1193.3,607 L1194.3,621.2 L1195.3,607.4 L1196.3,619.5 L1197.3,608.9 L1198.3,618.9 L1199.3,607.9 L1200.3,618.7 L1201.3,608.7 L1202.3,621.9 L1203.3,608 L1204.3,619.3 L1205.3,607.6 L1206.3,620.2 L1207.3,607.9 L1208.3,619.9 L1209.3,606.4 L1210.3,629.9 L1211.3,607.3 L1212.3,630 L1213.3,717.2 L1214.3,728.6 L1215.3,708.1 L1216.3,730.7 L1217.3,718.7 L1218.3,730.2 L1219.3,718.9 L1220.3,730.2 L1221.3,719.6 L1222.3,731.1 L1223.3,719.2 L1224.3,731.2 L1225.3,718 L1226.3,728.9 L1227.3,719.8 L1228.3,729.4 L1229.3,718.6 L1230.3,730.8 L1231.3,718.2 L1232.3,729.3 L1233.3,720.1 L1234.3,730.3 L1235.3,717.3 L1236.3,730.7 L1237.3,718.5 L1238.3,730.2 L1239.3,716.7 L1240.3,727.9 L1241.3,718.4 L1242.3,730.8 L1243.3,715.8 L1244.3,730.5 L1245.3,718 L1246.3,728.4 L1247.3,715 L1248.3,728.9 L1249.3,715.9 L1250.3,728.8 L1251.3,715.4 L1252.3,728.4 L1253.3,714.9 L1254.3,728.7 L1255.3,715 L1256.3,727.8 L1257.3,717.1 L1258.3,729.7 L1259.3,718.2 L1260.3,730.2 L1261.3,715.8 L1262.3,730.1 L1263.3,717.3 L1264.3,729.7 L1265.3,718.5 L1266.3,729.8 L1267.3,717 L1268.3,727.5 L1269.3,717.2 L1270.3,728.9 L1271.3,716.4 L1272.3,727.8 L1273.3,715.1 L1274.3,726.7 L1275.3,714.6 L1276.3,726.9 L1277.3,715.2 L1278.3,725.9 L1279.3,716.6 L1280.3,726.7 L1281.3,716.6 L1282.3,725.6 L1283,901.7 L1283.6,901.7 L1283.3,748.6 L1284.3,760.7 L1285.3,751.1 L1286.3,761.7 L1287.3,747.9 L1288.3,760 L1289.3,751 L1290.3,761.6 L1291.3,749.5 L1292.3,760.9 L1293.3,748.2 L1294.3,762.9 L1295.3,749.6 L1296.3,761.2 L1297.3,751.1 L1298.3,762.2 L1299.3,751.2 L1300.3,762.9 L1301.3,750.2 L1302.3,764.4 L1303.3,750 L1304.3,763.4 L1305.3,752.8 L1306.3,762.1 L1307.3,752.1 L1308.3,764.2 L1309.3,751.7 L1310.3,763.6 L1311.3,750.9 L1312.3,771.7 L1313.3,751.6 L1314.3,771.6 L1315.3,750.2 L1316.3,771.5 L1317.3,749.8 L1318.3,764.3 L1319.3,749.7 L1320.3,763 L1321.3,750 L1322.3,764.8 L1323.3,750.5 L1324.3,762 L1325.3,750.7 L1326.3,761.8 L1327.3,752.6 L1328.3,764.4 L1329.3,752.3 L1330.3,762.6 L1331.3,752.3 L1332.3,764.9 L1333.3,751.6 L1334.3,764.7 L1335.3,752.6 L1336.3,763.5 L1337.3,752 L1338.3,763.6 L1339.3,752.5 L1340.3,765.6 L1341.3,753.7 L1342.3,765.2 L1343.3,753.9 L1344.3,764.7 L1345.3,745.4 L1346.3,766.4 L1347.3,745.3 L1348.3,766.7 L1349.3,754.7 L1350.3,763.7 L1351.3,753.6 L1352.3,770.7 L1352.8,829 L1353.4,829 L1353.3,589.7 L1354.3,599.6 L1355.3,586.9 L1356.3,602.5 L1357.3,587.1 L1358.3,600.6 L1359.3,586 L1360.3,600 L1361.3,587.3 L1362.3,601.2 L1363.3,586.8 L1364.3,600.1 L1365.3,587.1 L1366.3,600.5 L1367.3,588.5 L1368.3,601.3 L1369.3,588.9 L1370.3,599.7 L1371.3,587.8 L1372.3,598.8 L1373.3,587.4 L1374.3,601.2 L1375.3,588.8 L1376.3,600.6 L1377.3,587.1 L1378.3,599.8 L1379.3,587.3 L1380.3,598.9 L1381.3,586.2 L1382.3,601.3 L1383.3,587 L1384.3,599.1 L1385.3,587.8 L1386.3,606.2 L1387.3,586.2 L1388.3,600.1 L1389.3,586.5 L1390.3,597.8 L1391.3,585.9 L1392.3,599.2 L1393.3,585.4 L1394.3,598.8 L1395.3,583.3 L1396.3,597 L1397.3,586.5 L1398.3,598.8 L1399.3,583.7 L1400.3,598.3 L1401.3,584.6 L1402.3,598.2 L1403.3,583.8 L1404.3,598.2 L1405.3,583.3 L1406.3,599 L1407.3,585 L1408.3,599.7 L1409.3,586.8 L1410.3,598.7 L1411.3,585.4 L1412.3,596.7 L1413.3,587.5 L1414.3,597.1 L1415.3,587.4 L1416.3,597.3 L1417.3,585.6 L1418.3,600.1 L1419.3,586.3 L1420.3,597.9 L1421.3,577.3 L1422.3,601 L1422.6,663.1 L1423.2,663.1 L1423.3,436.7 L1424.3,447.6 L1425.3,437.4 L1426.3,449.8 L1427.3,437.3 L1428.3,449.7 L1429.3,438.6 L1430.3,447.3 L1431.3,435.8 L1432.3,447.3 L1433.3,435.9 L1434.3,447.5 L1435.3,437.9 L1436.3,450 L1437.3,437.8 L1438.3,448.4 L1439.3,437.3 L1440.3,450.5 L1441.3,429.5 L1442.3,449.1 L1443.3,429.7 L1444.3,450.5 L1445.3,430.1 L1446.3,451.2 L1447.3,438.2 L1448.3,449.9 L1449.3,439.6 L1450.3,452 L1451.3,438.3 L1452.3,449.4 L1453.3,440.1 L1454.3,451.9 L1455.3,438.6 L1456.3,450.7 L1457.3,439.9 L1458.3,451.4 L1459.3,439.8 L1460.3,449.4 L1461.3,438.2 L1462.3,450.3 L1463.3,438.9 L1464.3,449.6 L1465.3,437.8 L1466.3,449.1 L1467.3,439.4 L1468.3,451.2 L1469.3,437.9 L1470.3,449.1 L1471.3,439 L1472.3,449.2 L1473.3,437.7 L1474.3,449.8 L1475.3,438.4 L1476.3,450.2 L1477.3,437.5 L1478.3,458.5 L1479.3,438.8 L1480.3,449 L1481.3,437.2 L1482.3,450.9 L1483.3,437.7 L1484.3,448.4 L1485.3,438.4 L1486.3,450.4 L1487.3,438.7 L1488.3,448.5 L1489.3,438.6 L1490.3,450.1 L1491.3,436.3 L1492.3,449 L1492.3,501.2 L1492.9,501.2 L1493.3,289.5 L1494.3,298.7 L1495.3,289.9 L1496.3,299.4 L1497.3,289.3 L1498.3,297.7 L1499.3,289.8 L1500.3,299.8 L1501.3,283.7 L1502.3,298.6 L1503.3,283.4 L1504.3,296.9 L1505.3,290.4 L1506.3,298.6 L1507.3,289.7 L1508.3,297.1 L1509.3,289.6 L1510.3,296.4 L1511.3,289.1 L1512.3,296.2 L1513.3,287.6 L1514.3,302 L1515.3,287.5 L1516.3,296.6 L1517.3,287.6 L1518.3,296.4 L1519.3,287.8 L1520.3,296.8 L1521.3,289.4 L1522.3,296.9 L1523.3,287.9 L1524.3,298.3 L1525.3,288 L1526.3,298.4 L1527.3,289.1 L1528.3,297 L1529.3,289.1 L1530.3,298.7 L1531.3,283.5 L1532.3,297.8 L1533.3,288.5 L1534.3,299.1 L1535.3,283.1 L1536.3,298.5 L1537.3,289.8 L1538.3,297.7 L1539.3,290.2 L1540.3,296.6 L1541.3,289.5 L1542.3,304.2 L1543.3,288.5 L1544.3,304.1 L1545.3,288.5 L1546.3,298 L1547.3,289.6 L1548.3,297.7 L1549.3,289.7 L1550.3,296.5 L1551.3,289.2 L1552.3,298.3 L1553.3,290.2 L1554.3,299.1 L1555.3,288.1 L1556.3,297.4 L1557.3,290.2 L1558.3,297.7 L1559.3,289 L1560.3,297.5 L1561.3,289.8 L1562.1,366.7 L1562.7,366.7 L1562.3,368.8 L1563.3,358.7 L1564.3,365.3 L1565.3,355.5 L1566.3,360.2 L1567.3,352.8 L1568.3,357.2 L1569.3,349.5 L1570.3,354.4 L1571.3,345.9 L1572.3,358.3 L1573.3,345.4 L1574.3,356.4 L1575.3,342.7 L1576.3,348.6 L1577.3,340.9 L1578.3,347.1 L1579.3,339.9 L1580.3,346.3 L1581.3,338.8 L1582.3,346 L1583.3,337.9 L1584.3,344.7 L1585.3,338.2 L1586.3,343.7 L1587.3,336.7 L1588.3,344 L1589.3,336.8 L1590.3,342.2 L1591.3,335.3 L1592.3,342.7 L1593.3,335.2 L1594.3,341.9 L1595.3,335.5 L1596.3,342 L1597.3,335.2 L1598.3,343.5 L1599.3,335.1 L1600.3,342.1 L1601.3,334.7 L1602.3,342 L1603.3,335.3 L1604.3,342.7 L1605.3,335.5 L1606.3,342.3 L1607.3,335.3 L1608.3,341.5 L1609.3,335.1 L1610.3,341.3 L1611.3,334.4 L1612.3,342.5 L1613.3,329.9 L1614.3,341.9 L1615.3,329.6 L1616.3,341.9 L1617.3,333.1 L1618.3,340.3 L1619.3,333.6 L1620.3,340.7 L1621.3,334.3 L1622.3,340.4 L1623.3,333.8 L1624.3,340.7 L1625.3,333 L1626.3,339.9 L1627.3,332.1 L1628.3,339.2 L1629.3,332.6 L1630.3,340.7 L1631.3,332.7 L1632.3,340.3 L1633.3,333.8 L1634.3,339.5 L1635.3,333.8 L1636.3,341.3 L1637.3,333.5 L1638.3,340.9 L1639.3,334.5 L1640.3,341.2 L1641.3,333.5 L1642.3,340.1 L1643.3,334.3 L1644.3,341.9 L1645.3,334.3 L1646.3,340.5 L1647.3,334 L1648.3,340.1 L1649.3,333.1 L1650.3,341.8 L1651.3,333.3 L1652.3,339.8 L1653.3,333.5 L1654.3,340.4 L1655.3,334 L1656.3,339.8 L1657.3,334 L1658.3,340.8 L1659.3,333.7 L1660.3,340.9 L1661.3,332.4 L1662.3,341 L1663.3,333.4 L1664.3,340.3 L1665.3,332.5 L1666.3,341.5 L1667.3,333.8 L1668.3,341 L1669.3,334.6 L1670.3,341.5 L1671.3,334.8 L1672.3,341.4 L1673.3,334.3 L1674.3,342.5 L1675.3,335.5 L1676.3,341.7 L1677.3,334.7 L1678.3,341.5 L1679.3,335.7 L1680.3,341.7 L1681.3,336.1 L1682.3,341.9 L1683.3,336.2 L1684.3,341.5 L1685.3,335.1 L1686.3,341.9 L1687.3,334.4 L1688.3,343.2 L1689.3,334.8 L1690.3,342.7 L1691.3,336.1 L1692.3,343.1 L1693.3,335.3 L1694.3,342 L1695.3,335.9 L1696.3,342 L1697.3,334.2 L1698.3,341.3 L1699.3,335.3 L1700.3,342.6 L1701.3,334.3 L1702.3,346.5 L1703.3,335.6 L1704.3,346.6 L1705.3,334.9 L1706.3,341.5 L1707.3,334.9 L1708.3,341.6 L1709.3,334.4 L1710.3,341.7 L1711.3,335.6 L1712.3,342.1 L1713.3,336.6 L1714.3,342.3 L1715.3,334.8 L1716.3,342.1 L1717.3,336.1 L1718.3,343.1 L1719.3,335.9 L1720.3,342.6 L1721.3,335.8 L1722.3,342.3 L1723.3,335.9 L1724.3,343 L1725.3,336.4 L1726.3,343.1 L1727.3,334.6 L1728.3,342.7 L1729.3,334.6 L1730.3,342.7 L1731.3,334.9 L1732.3,342.7 L1733.3,334.3 L1734.3,341.3 L1735.3,335.1 L1736.3,340.6 L1737.3,333.9 L1738.3,340.7 L1739.3,334.6 L1740.3,341.3 L1741.3,333.1 L1742.3,342.1 L1743.3,333.3 L1744.3,342.3 L1745.3,335 L1746.3,340.6 L1747.3,335.3 L1748.3,341.2 L1749.3,335.4 L1750.3,342.6 L1751.3,334.7 L1752.3,341.3 L1753.3,333.6 L1754.3,341.7 L1755.3,334.6 L1756.3,342.8 L1757.3,333.7 L1758.3,342.5 L1759.3,334.3 L1760.3,341.4 L1761.3,333.6 L1762.3,341.6 L1763.3,334.2 L1764.3,341 L1765.3,334.4 L1766.3,341.8 L1767.3,334.1 L1768.3,341.8 L1769.3,334.9 L1770.3,341.5 L1771.3,333.3 L1772.3,341.8 L1773.3,332.9 L1774.3,341.7 L1775.3,334.5 L1776.3,341.3 L1777.3,334.8 L1778.3,340.2 L1779.3,334.5 L1780.3,341.4 L1781.3,334.5 L1782.3,341.4 L1783.3,334.3 L1784.3,340.8 L1785.3,335.1 L1786.3,341.6 L1787.3,334.4 L1788.3,341.8 L1789.3,335.4 L1790.3,341.9 L1791.3,336.3 L1792.3,342.7 L1793.3,335.6 L1794.3,342.3 L1795.3,335.4 L1796.3,341.7 L1797.3,336.1 L1798.3,342.1 L1799.3,335.8 L1800.3,342.5 L1801.3,336.4 L1802.3,342.5 L1803.3,334.8 L1804.3,343.2 L1805.3,336.2 L1806.3,342 L1807.3,334.3 L1808.3,342.4 L1809.3,334.9 L1810.3,341.6 L1811.3,335.9 L1812.3,342.6 L1813.3,334.7 L1814.3,342.4 L1815.3,335.4 L1816.3,346.7 L1817.3,335.4 L1818.3,346.8 L1819.3,334.7 L1820.3,343 L1821.3,332.5 L1822.3,342.8 L1823.3,332.4 L1824.3,344 L1825.3,332.6 L1826.3,344.2 L1827.3,335.5 L1828.3,343.8 L1829.3,336 L1830.3,343.1 L1831.3,337.2 L1832.3,348.1 L1833.3,337 L1834.3,344.4 L1835.3,336.2 L1836.3,344.2 L1837.3,330.6 L1838.3,344.1 L1839.3,330.4 L1840.3,343.4 L1841.3,335.1 L1842.3,342 L1843.3,336.3 L1844.3,342.1 L1845.3,334.6 L1846.3,342.7 L1847.3,334.9 L1848.3,343 L1849.3,334.5 L1850.3,342.6 L1851.3,334.9 L1852.3,342.7 L1853.3,334.7 L1854.3,342.3 L1855.3,335.5 L1856.3,341.1 L1857.3,335.3 L1858.3,341.7 L1859.3,334 L1860.3,341.8 L1861.3,334.8 L1862.3,342.6 L1863.3,334.8 L1864.3,341.5 L1865.3,334.3 L1866.3,342 L1867.3,335.9 L1868.3,342.1 L1869.3,334.2 L1870.3,341.8 L1871.3,334 L1872.3,342.1 L1873.3,335.7 L1874.3,342.5 L1875.3,335.2 L1876.3,342.6 L1877.3,333.6 L1878.3,341.3 L1879.3,333.5 L1880.3,340.8 L1881.3,334.3 L1882.3,341.4 L1883.3,333.1 L1884.3,341 L1885.3,328 L1886.3,340.7 L1887.3,327.9 L1888.3,340.5 L1889.3,333.4 L1890.3,343.9 L1891.3,334.4 L1892.3,341.4 L1893.3,333.7 L1894.3,340.4 L1895.3,334.1 L1896.3,340.5 L1897.3,333.5 L1898.3,340.7 L1899.3,334.5 L1900.3,342.1 L1901.3,335.3 L1902.3,341.4 L1903.3,334.7 L1904.3,342.5 L1905.3,335 L1906.3,342.3 L1907.3,335.4 L1908.3,342 L1909.3,334.7 L1910.3,342.8" fill="none" stroke="#ff7f33" stroke-width="3.8" stroke-linejoin="round" clip-path="url(#cpa)"/>
<line x1="236" y1="270.6" x2="1911.5" y2="270.6" stroke="#8b008b" stroke-width="6.5"/>
<line x1="236" y1="757.6" x2="1911.5" y2="757.6" stroke="#c95a40" stroke-width="6.5"/>
<path d="M279.5,1816.6 L280.2,1504.6 L281.5,1816.6 L281.5,1816.5 L283.5,1817.2 L285.5,1816.6 L287.5,1816.1 L289.5,1816.8 L291.5,1816 L293.5,1816 L295.5,1819.6 L297.5,1816.8 L299.5,1814.2 L301.5,1816.1 L303.5,1815.9 L305.5,1816.5 L307.5,1816.6 L309.5,1816.6 L311.5,1816.5 L313.5,1817.3 L315.5,1817.1 L317.5,1816.3 L319.5,1816.3 L321.5,1817 L323.5,1817.1 L325.5,1817.3 L327.5,1815.8 L329.5,1817.2 L331.5,1817.3 L333.5,1815.9 L335.5,1817 L337.5,1816 L339.5,1817.3 L341.5,1816 L343.5,1816 L345.5,1817 L347.5,1816.7 L349.5,1816.1 L351.5,1816 L353.5,1816 L355.5,1816.2 L357.5,1817.3 L359.5,1816.3 L361.5,1816.2 L363.5,1817.1 L365.5,1816 L367.5,1816.2 L369.5,1817 L371.5,1816.3 L373.5,1816 L375.5,1816.2 L377.5,1816.4 L379.5,1817.3 L381.5,1816.7 L383.5,1816.1 L385.5,1817.2 L387.5,1816.2 L389.5,1816.9 L391.5,1816.1 L393.5,1817.2 L395.5,1816.5 L397.5,1815.9 L399.5,1816.2 L401.5,1816.2 L403.5,1816.7 L405.5,1816.1 L407.5,1815.9 L409.5,1816.7 L411.5,1816.8 L413.5,1817.2 L415.5,1815.9 L417.5,1816.5 L419.5,1816.1 L421.5,1816.7 L423.5,1816.4 L425.5,1817.3 L427.5,1816.9 L429.5,1818.4 L431.5,1816.9 L433.5,1815.9 L435.5,1816.6 L437.5,1816.3 L439.5,1816 L441.5,1816.9 L443.5,1816.9 L445.5,1817 L447.5,1816.4 L449.5,1817.2 L451.5,1816.5 L453.5,1817.1 L455.5,1816.8 L457.5,1816.7 L459.5,1816 L461.5,1817.3 L463.5,1816.9 L465.5,1816.9 L467.5,1816.5 L469.5,1816 L471.5,1815.9 L473.5,1816.6 L475.5,1816.9 L477.5,1816.8 L479.5,1818.7 L481.5,1816.1 L483.5,1817.2 L485.5,1816.5 L487.5,1816.3 L489.5,1816.1 L491.5,1817 L493.5,1817.2 L495.5,1816.7 L497.5,1816 L499.5,1817.1 L501.5,1816.9 L503.5,1816.3 L505.5,1816.5 L507.5,1816.2 L509.5,1816.8 L511.5,1816.3 L513.5,1817.3 L515.5,1813.7 L517.5,1816.9 L519.5,1816.3 L521.5,1815.9 L523.5,1813.8 L525.5,1814 L527.5,1816.8 L529.5,1817 L531.5,1816.9 L533.5,1816.6 L535.5,1815.9 L537.5,1816.9 L539.5,1816.2 L541.5,1816.9 L543.5,1816.8 L545.5,1816.4 L547.5,1817.2 L549.5,1817.2 L551.5,1816 L553.5,1816.8 L555.5,1816.4 L557.5,1817.2 L559.5,1817.3 L561.5,1816.8 L563.5,1816.9 L565.5,1816.8 L567.5,1816.2 L569.5,1817.3 L571.5,1816.6 L573.5,1816.3 L575.5,1817.1 L577.5,1816 L579.5,1816.7 L581.5,1813.8 L583.5,1817 L585.5,1816.3 L587.5,1816 L589.5,1816.6 L591.5,1817.1 L593.5,1817.3 L595.5,1817.3 L597.5,1816.2 L599.5,1816.3 L601.5,1816.8 L603.5,1817.1 L605.5,1816.3 L607.5,1817.1 L609.5,1816.2 L611.5,1817.3 L613.5,1816.7 L615.5,1816.6 L617.5,1816.6 L617.5,1880.7 L619.5,1883.5 L621.5,1883.7 L623.5,1883.9 L625.5,1883.7 L627.5,1883.6 L627.5,1863.5 L629.5,1862.5 L631.5,1862.3 L633.5,1863.3 L635.5,1862.8 L637.5,1862.4 L639.5,1863.5 L641.5,1860.8 L643.5,1863.1 L645.5,1862.6 L647.5,1862.3 L649.5,1862.3 L651.5,1862.5 L653.5,1862.9 L655.5,1862.7 L657.5,1862.9 L659.5,1862.4 L661.5,1863.1 L663.5,1863.4 L665.5,1863.4 L667.5,1863.2 L669.5,1863.4 L671.5,1862.6 L673.5,1862.4 L675.5,1863.4 L677.5,1862.5 L679.5,1862.5 L681.5,1863.3 L683.5,1863.3 L684.6,1925.2 L685.5,1862.8 L685.5,1846.1 L687.5,1845.5 L689.5,1846.5 L691.5,1846.9 L693.5,1846.2 L695.5,1846.2 L697.5,1845.8 L699.5,1843.8 L701.5,1846.3 L703.5,1845.8 L705.5,1846.7 L707.5,1846.9 L709.5,1845.6 L711.5,1846.2 L713.5,1846 L715.5,1846.2 L717.5,1848.9 L719.5,1845.7 L721.5,1846.6 L723.5,1845.8 L725.5,1849.1 L727.5,1846.5 L729.5,1846.4 L731.5,1846.4 L733.5,1847 L735.5,1845.9 L737.5,1846.6 L739.5,1846.7 L741.5,1846.8 L743.5,1846.5 L745.5,1846.6 L747.5,1846.6 L749.5,1846 L751.5,1845.5 L752.1,1884.8 L753.5,1846.2 L753.5,1837.2 L755.5,1836.6 L757.5,1837.2 L759.5,1837.2 L761.5,1837 L763.5,1837.7 L765.5,1837.3 L767.5,1839.5 L769.5,1836.6 L771.5,1836.3 L773.5,1836.8 L775.5,1836.6 L777.5,1837.1 L779.5,1837.7 L781.5,1837.7 L783.5,1837.5 L785.5,1837.1 L787.5,1836.3 L789.5,1836.5 L791.5,1836.5 L793.5,1837.2 L795.5,1837.7 L797.5,1837 L799.5,1836.8 L801.5,1837.2 L803.5,1836.7 L805.5,1834.9 L807.5,1836.5 L809.5,1836.8 L811.5,1837.4 L813.5,1837.7 L815.5,1836.4 L817.5,1836.9 L819.5,1837.7 L819.7,1879 L821.5,1837 L821.5,1821.3 L823.5,1821.6 L825.5,1822 L827.5,1821.5 L829.5,1821.5 L831.5,1820.9 L833.5,1821.3 L835.5,1821.2 L837.5,1821.2 L839.5,1821.4 L841.5,1821.7 L843.5,1822 L845.5,1821.7 L847.5,1820.7 L849.5,1821.7 L851.5,1821.1 L853.5,1821.6 L855.5,1821.4 L857.5,1821.7 L859.5,1820.9 L861.5,1821.9 L863.5,1820.6 L865.5,1821 L867.5,1821.5 L869.5,1821.4 L871.5,1820.7 L873.5,1821.4 L875.5,1821.1 L877.5,1820.9 L879.5,1821.7 L881.5,1820.7 L883.5,1821.8 L885.5,1821.7 L887.5,1821.3 L887.5,1885.8 L889.5,1886.4 L891.5,1886.2 L893.5,1885.7 L895.5,1886.3 L897.5,1885.8 L899.5,1885.3 L901.5,1885.3 L903.5,1886 L905.5,1886.2 L907.5,1886.3 L909.5,1885.5 L911.5,1885.3 L913.5,1886.3 L915.5,1885.6 L917.5,1885.7 L919.5,1885.7 L921.5,1886.2 L923.5,1886.6 L925.5,1886.5 L927.5,1886.4 L929.5,1885.7 L931.5,1886.6 L933.5,1885.5 L935.5,1885.7 L937.5,1885.8 L939.5,1885.5 L941.5,1886.4 L943.5,1886.4 L945.5,1885.4 L947.5,1886.5 L949.5,1885.2 L951.5,1886 L953.5,1886.6 L955.5,1885.9 L955.5,1965.2 L957.5,1964.8 L959.5,1964.1 L961.5,1965.1 L963.5,1964.1 L965.5,1964.2 L967.5,1965 L969.5,1964.3 L971.5,1964.8 L973.5,1964.6 L975.5,1965.4 L977.5,1964.7 L979.5,1965.1 L981.5,1965.4 L983.5,1965.2 L985.5,1965.3 L987.5,1965.2 L989.5,1965.4 L991.5,1964.8 L993.5,1965.2 L995.5,1964.6 L997.5,1965.1 L999.5,1964.5 L1001.5,1964.3 L1003.5,1964.4 L1005.5,1964.1 L1007.5,1964.2 L1009.5,1965.1 L1011.5,1964.1 L1013.5,1964.9 L1015.5,1964 L1017.5,1964.3 L1019.5,1964.3 L1021.5,1964.9 L1023.5,1964.7 L1023.5,2039 L1025.5,2039 L1027.5,2039.2 L1029.5,2040 L1031.5,2039.1 L1033.5,2040.1 L1035.5,2039.6 L1037.5,2039.5 L1039.5,2038.8 L1041.5,2039.9 L1043.5,2039.5 L1045.5,2039.1 L1047.5,2039.7 L1049.5,2038.8 L1051.5,2039.3 L1053.5,2039.8 L1055.5,2039 L1057.5,2039.2 L1059.5,2040 L1061.5,2039.7 L1063.5,2039.1 L1065.5,2039 L1067.5,2038.7 L1069.5,2040 L1071.5,2038.9 L1073.5,2039.8 L1075.5,2039.5 L1077.5,2040.2 L1079.5,2040 L1081.5,2039.9 L1083.5,2040.1 L1085.5,2040 L1087.5,2039.5 L1089.5,2039 L1091.5,2039.2 L1093.5,2038.8 L1095.5,2039.4 L1097.5,2039.3 L1099.5,2038.9 L1101.5,2039.4 L1103.5,2040 L1105.5,2038.8 L1107.5,2039.8 L1109.5,2039.6 L1111.5,2038.7 L1113.5,2039.9 L1115.5,2039.7 L1117.5,2039.3 L1119.5,2039.2 L1121.5,2039.3 L1123.5,2039.1 L1125.5,2039.8 L1127.5,2040.2 L1129.5,2039.8 L1131.5,2040 L1133.5,2038.9 L1135.5,2039.8 L1137.5,2039 L1139.5,2040 L1141.5,2038.9 L1143.5,2039 L1145.5,2039.3 L1147.5,2040.1 L1149.5,2039.5 L1151.5,2039.9 L1153.5,2039.3 L1155.5,2041.8 L1157.5,2039.5 L1157.5,1965.5 L1159.5,1965 L1161.5,1964 L1163.5,1964.5 L1165.5,1964.1 L1167.5,1964.7 L1169.5,1965.2 L1171.5,1964.2 L1173.5,1965.3 L1175.5,1964.5 L1177.5,1964.2 L1179.5,1965.5 L1181.5,1965.1 L1183.5,1964.3 L1185.5,1964.9 L1187.5,1964.1 L1189.5,1964.8 L1191.5,1964.5 L1193.5,1964.5 L1195.5,1964.2 L1197.5,1964.2 L1199.5,1964.8 L1201.5,1964.8 L1203.5,1965.3 L1205.5,1965.2 L1207.5,1964.2 L1209.5,1964.4 L1211.5,1964.3 L1213.5,1965.2 L1215.5,1964.8 L1217.5,1964 L1219.5,1965.5 L1221.5,1965 L1223.5,1965 L1225.5,1964.7 L1225.5,1885.7 L1227.5,1883.9 L1229.5,1885.4 L1231.5,1886 L1233.5,1886 L1235.5,1886 L1237.5,1883.3 L1239.5,1886.6 L1241.5,1885.9 L1243.5,1886.1 L1245.5,1886.3 L1247.5,1885.9 L1249.5,1886.4 L1251.5,1885.8 L1253.5,1886 L1255.5,1886 L1257.5,1885.8 L1259.5,1885.7 L1261.5,1886.3 L1263.5,1886.3 L1265.5,1886.3 L1267.5,1886.1 L1269.5,1885.4 L1271.5,1885.9 L1273.5,1885.3 L1275.5,1886 L1277.5,1885.6 L1279.5,1885.5 L1281.5,1886.5 L1283.5,1886.2 L1285.5,1885.8 L1287.5,1885.5 L1289.5,1886 L1291.5,1885.3 L1292.3,1784.8 L1293.5,1885.9 L1293.5,1820.7 L1295.5,1819.2 L1297.5,1821 L1299.5,1821.9 L1301.5,1821.1 L1303.5,1823.1 L1305.5,1821 L1307.5,1822 L1309.5,1821.3 L1311.5,1821 L1313.5,1821.9 L1315.5,1821.8 L1317.5,1821.3 L1319.5,1821.9 L1321.5,1820.9 L1323.5,1820.8 L1325.5,1820.6 L1327.5,1821.6 L1329.5,1821.9 L1331.5,1821.6 L1333.5,1821.6 L1335.5,1821.2 L1337.5,1820.9 L1339.5,1821.6 L1341.5,1820.8 L1343.5,1821.5 L1345.5,1821.1 L1347.5,1821.9 L1349.5,1820.9 L1351.5,1821.9 L1353.5,1821 L1355.5,1820.7 L1357.5,1821.2 L1359.5,1818.8 L1359.8,1777.7 L1361.5,1821.3 L1361.5,1837.1 L1363.5,1836.8 L1365.5,1837.8 L1367.5,1837.1 L1369.5,1837 L1371.5,1839.8 L1373.5,1837.3 L1375.5,1837.5 L1377.5,1837.5 L1379.5,1837.2 L1381.5,1837.9 L1383.5,1837.5 L1385.5,1837.7 L1387.5,1838.1 L1389.5,1837.9 L1391.5,1837.6 L1393.5,1837.4 L1395.5,1837.9 L1397.5,1837.1 L1399.5,1837 L1401.5,1840 L1403.5,1837.6 L1405.5,1837 L1407.5,1836.7 L1409.5,1837.4 L1411.5,1837.1 L1413.5,1836.8 L1415.5,1837.6 L1417.5,1837.9 L1419.5,1836.9 L1421.5,1836.8 L1423.5,1837.6 L1425.5,1837.1 L1427.3,1794.2 L1427.5,1837.5 L1427.5,1844.9 L1429.5,1845 L1431.5,1845 L1433.5,1846 L1435.5,1844.9 L1437.5,1845.3 L1439.5,1847.9 L1441.5,1846.3 L1443.5,1845.5 L1445.5,1844.8 L1447.5,1846.1 L1449.5,1845.4 L1451.5,1845.4 L1453.5,1844.8 L1455.5,1845.9 L1457.5,1845.1 L1459.5,1845.6 L1461.5,1845.5 L1463.5,1845.3 L1465.5,1846.3 L1467.5,1844.8 L1469.5,1845.8 L1471.5,1845.3 L1473.5,1846.1 L1475.5,1846.1 L1477.5,1845.4 L1479.5,1845.4 L1481.5,1845.1 L1483.5,1845.1 L1485.5,1845 L1487.5,1845.1 L1489.5,1845.2 L1491.5,1846.3 L1493.5,1846.1 L1494.9,1811.9 L1495.5,1845.5 L1495.5,1859.2 L1497.5,1859.7 L1499.5,1857.4 L1501.5,1859.2 L1503.5,1859.7 L1505.5,1859.2 L1507.5,1860 L1509.5,1859.8 L1511.5,1857.2 L1513.5,1858.8 L1515.5,1859.1 L1517.5,1859.4 L1519.5,1859.2 L1521.5,1858.7 L1523.5,1857.2 L1525.5,1859.4 L1527.5,1859.7 L1529.5,1859.7 L1531.5,1858.9 L1533.5,1859.1 L1535.5,1859.2 L1537.5,1859.9 L1539.5,1859.1 L1541.5,1861.2 L1543.5,1859.5 L1545.5,1860.1 L1547.5,1859.6 L1549.5,1859 L1551.5,1859.6 L1553.5,1859.9 L1555.5,1859.6 L1557.5,1859.3 L1559.5,1858.7 L1561.5,1859.1 L1563.5,1859.4 L1563.5,1818.6 L1565.5,1818.8 L1567.5,1818.4 L1569.5,1818.6 L1571.5,1818.7 L1573.5,1818.4 L1575.5,1819.2 L1577.5,1816.7 L1579.5,1818.3 L1581.5,1818.3 L1583.5,1819.1 L1585.5,1818.7 L1587.5,1818.2 L1589.5,1819.5 L1591.5,1818.6 L1593.5,1818.5 L1595.5,1819.1 L1597.5,1818.7 L1599.5,1819.6 L1601.5,1819.1 L1603.5,1818.8 L1605.5,1818.6 L1607.5,1819.5 L1609.5,1817 L1611.5,1818.7 L1613.5,1819.7 L1615.5,1818.5 L1617.5,1819.2 L1619.5,1818.2 L1621.5,1818.8 L1623.5,1818.9 L1625.5,1819 L1627.5,1819 L1629.5,1819.6 L1631.5,1818.7 L1633.5,1818.7 L1635.5,1819.2 L1637.5,1819.6 L1639.5,1818.4 L1641.5,1818.9 L1643.5,1818.7 L1645.5,1819.3 L1647.5,1818.5 L1649.5,1818.7 L1651.5,1819 L1653.5,1818.3 L1655.5,1818.3 L1657.5,1818.4 L1659.5,1819.4 L1661.5,1818.4 L1663.5,1819.5 L1665.5,1818.6 L1667.5,1819.4 L1669.5,1819.3 L1671.5,1819.3 L1673.5,1818.7 L1675.5,1819.5 L1677.5,1819 L1679.5,1819.3 L1681.5,1819.4 L1683.5,1818.4 L1685.5,1819.2 L1687.5,1821.4 L1689.5,1819.6 L1691.5,1819.2 L1693.5,1819.1 L1695.5,1819.6 L1697.5,1818.3 L1699.5,1821.1 L1701.5,1819.7 L1703.5,1816.5 L1705.5,1818.8 L1707.5,1819.4 L1709.5,1818.6 L1711.5,1819.1 L1713.5,1819.7 L1715.5,1819.2 L1717.5,1819.4 L1719.5,1818.5 L1721.5,1819.6 L1723.5,1818.9 L1725.5,1816.5 L1727.5,1819.1 L1729.5,1818.5 L1731.5,1818.7 L1733.5,1818.3 L1735.5,1819.5 L1737.5,1818.3 L1739.5,1818.9 L1741.5,1818.5 L1743.5,1818.9 L1745.5,1819.4 L1747.5,1818.3 L1749.5,1819.2 L1751.5,1818.6 L1753.5,1819.5 L1755.5,1818.9 L1757.5,1819.3 L1759.5,1818.2 L1761.5,1818.4 L1763.5,1818.7 L1765.5,1818.7 L1767.5,1818.2 L1769.5,1821.4 L1771.5,1819.4 L1773.5,1818.8 L1775.5,1819.4 L1777.5,1819.7 L1779.5,1819.6 L1781.5,1819.3 L1783.5,1816.5 L1785.5,1818.8 L1787.5,1819.2 L1789.5,1818.7 L1791.5,1818.7 L1793.5,1819.6 L1795.5,1818.3 L1797.5,1819.3 L1799.5,1819.3 L1801.5,1819.2 L1803.5,1818.4 L1805.5,1818.7 L1807.5,1818.2 L1809.5,1818.8 L1811.5,1819 L1813.5,1818.5 L1815.5,1818.7 L1817.5,1818.4 L1819.5,1818.8 L1821.5,1818.5 L1823.5,1819.3 L1825.5,1818.6 L1827.5,1819.6 L1829.5,1818.5 L1831.5,1819.7 L1833.5,1819.1 L1835.5,1819.2 L1837.5,1819.1 L1839.5,1819.5 L1841.5,1819 L1843.5,1818.4 L1845.5,1819.2 L1847.5,1819.2 L1849.5,1818.8 L1851.5,1819.1 L1853.5,1816.4 L1855.5,1819.1 L1857.5,1819.6 L1859.5,1818.9 L1861.5,1819.3 L1863.5,1819.3 L1865.5,1818.8 L1867.5,1818.4 L1869.5,1818.9 L1871.5,1819.5 L1873.5,1819.6 L1875.5,1819.4 L1877.5,1819.7 L1879.5,1819.5 L1881.5,1818.6 L1883.5,1818.9 L1885.5,1819.5 L1887.5,1818.6 L1889.5,1818.3 L1891.5,1819.4 L1893.5,1818.6 L1895.5,1819.5 L1897.5,1819 L1899.5,1819.4" fill="none" stroke="#0a6fd8" stroke-width="9.5" stroke-linejoin="round" clip-path="url(#cpb)"/>
<path d="M279.5,1816.6 L280.9,1585.5 L281.5,1816.4 L282.2,1816.6 L283.5,1815.9 L285.5,1817.1 L287.5,1816 L289.5,1816.4 L291.5,1816.8 L293.5,1815.9 L295.5,1816.1 L297.5,1817.2 L299.5,1816.1 L301.5,1814.4 L303.5,1816.8 L305.5,1816.7 L307.5,1816.1 L309.5,1816.9 L311.5,1816 L313.5,1817.2 L315.5,1816.4 L317.5,1817.3 L319.5,1816.9 L321.5,1816.3 L323.5,1816.1 L325.5,1816.5 L327.5,1816.5 L329.5,1816.6 L331.5,1816.4 L333.5,1816.2 L335.5,1816.3 L337.5,1816.3 L339.5,1816.9 L341.5,1817.2 L343.5,1817 L345.5,1816.5 L347.5,1816.5 L349.5,1816.5 L351.5,1816.3 L353.5,1816.8 L355.5,1816.5 L357.5,1817.2 L359.5,1816.5 L361.5,1817.1 L363.5,1816.7 L365.5,1816 L367.5,1816 L369.5,1816.4 L371.5,1816.8 L373.5,1817.2 L375.5,1815.9 L377.5,1816.5 L379.5,1816.5 L381.5,1816.8 L383.5,1817.3 L385.5,1817.3 L387.5,1817.1 L389.5,1816.9 L391.5,1815.9 L393.5,1816.4 L395.5,1816.2 L397.5,1816.2 L399.5,1816.1 L401.5,1817 L403.5,1816.1 L405.5,1816.8 L407.5,1816.2 L409.5,1816.9 L411.5,1816 L413.5,1815.9 L415.5,1817.3 L417.5,1815.9 L419.5,1816.6 L421.5,1816 L423.5,1816.3 L425.5,1816 L427.5,1816 L429.5,1816.6 L431.5,1817 L433.5,1816.5 L435.5,1816.2 L437.5,1816.7 L439.5,1817.1 L441.5,1817.1 L443.5,1817.3 L445.5,1816.4 L447.5,1817.1 L449.5,1818.6 L451.5,1816.9 L453.5,1816.1 L455.5,1815.9 L457.5,1816.3 L459.5,1816.8 L461.5,1815.9 L463.5,1816 L465.5,1816 L467.5,1816.3 L469.5,1816.8 L471.5,1817.3 L473.5,1816.6 L475.5,1816.4 L477.5,1816.9 L479.5,1816.4 L481.5,1816.6 L483.5,1816.5 L485.5,1815.9 L487.5,1815.9 L489.5,1816.7 L491.5,1816.2 L493.5,1816.4 L495.5,1816.6 L497.5,1817 L499.5,1815.9 L501.5,1819.1 L503.5,1816.4 L505.5,1816.4 L507.5,1816.8 L509.5,1816.3 L511.5,1816.6 L513.5,1815.9 L515.5,1816.2 L517.5,1817 L519.5,1817.1 L521.5,1816.3 L523.5,1816 L525.5,1817.1 L527.5,1816.3 L529.5,1817 L531.5,1815.9 L533.5,1815.9 L535.5,1816.7 L537.5,1819.5 L539.5,1813.9 L541.5,1816.9 L543.5,1817.2 L545.5,1817 L547.5,1817 L549.5,1816.5 L551.5,1816 L553.5,1816.9 L555.5,1816 L557.5,1816.8 L559.5,1816 L561.5,1816.3 L563.5,1816.7 L565.5,1816.2 L567.5,1816.6 L569.5,1816 L571.5,1814.3 L573.5,1816.8 L575.5,1816.6 L577.5,1816.4 L579.5,1816 L581.5,1816.1 L583.5,1816.1 L585.5,1816.1 L587.5,1816.7 L589.5,1816.4 L591.5,1817.1 L593.5,1816.7 L595.5,1817.3 L597.5,1816.9 L599.5,1816.2 L601.5,1816.7 L603.5,1815.9 L605.5,1816.4 L607.5,1816.5 L609.5,1816.7 L611.5,1817.2 L613.5,1816.6 L615.5,1817 L617.5,1816.6 L617.5,1856.8 L619.5,1856.4 L621.5,1857.2 L623.5,1856.8 L625.5,1857.8 L627.5,1857.1 L627.5,1839.1 L629.5,1839 L631.5,1838.2 L633.5,1838.8 L635.5,1839 L637.5,1839.2 L639.5,1838.9 L641.5,1839.3 L643.5,1838.3 L645.5,1839 L647.5,1836.2 L649.5,1838.3 L651.5,1838.1 L653.5,1838.3 L655.5,1838.3 L657.5,1839.2 L659.5,1839.1 L661.5,1838.8 L663.5,1839 L665.5,1838.8 L667.5,1839 L669.5,1837.9 L671.5,1838.4 L673.5,1838.2 L675.5,1838.4 L677.5,1839.3 L679.5,1838.7 L681.5,1838.2 L683.5,1838 L685.5,1838.6 L685.5,1785.6 L687.5,1786 L689.5,1785.5 L691.5,1786.1 L693.5,1785.9 L695.5,1785.6 L697.5,1784.7 L699.5,1786.1 L701.5,1785.9 L703.5,1785.4 L705.5,1785.4 L707.5,1785.4 L709.5,1785.4 L711.5,1785.7 L713.5,1785.3 L715.5,1785.4 L717.5,1786.1 L719.5,1784.8 L721.5,1785.1 L723.5,1786 L725.5,1786 L727.5,1785.9 L729.5,1784.7 L731.5,1785.5 L733.5,1785.5 L735.5,1786 L737.5,1785.4 L739.5,1784.7 L741.5,1785.9 L743.5,1788.2 L745.5,1785.4 L747.5,1785.8 L749.5,1784.6 L751.5,1785.8 L752.1,1806 L753.5,1785.4 L753.5,1741.7 L755.5,1740.9 L757.5,1740.5 L759.5,1740.8 L761.5,1741.2 L763.5,1741.5 L765.5,1740.8 L767.5,1740.7 L769.5,1740.8 L771.5,1741.6 L773.5,1740.8 L775.5,1740.8 L777.5,1740.8 L779.5,1740.7 L781.5,1740.9 L783.5,1741.5 L785.5,1741.6 L787.5,1740.6 L789.5,1740.8 L791.5,1741.1 L793.5,1741 L795.5,1741.8 L797.5,1741 L799.5,1741.6 L801.5,1741 L803.5,1741 L805.5,1741.3 L807.5,1741.2 L809.5,1740.5 L811.5,1741 L813.5,1741.8 L815.5,1740.8 L817.5,1741.9 L819.5,1741 L819.7,1764.8 L821.5,1741.2 L821.5,1690 L823.5,1691.2 L825.5,1690 L827.5,1691.1 L829.5,1691.2 L831.5,1690.3 L833.5,1690.2 L835.5,1689.9 L837.5,1690.3 L839.5,1690.2 L841.5,1690 L843.5,1690.6 L845.5,1690.9 L847.5,1691.2 L849.5,1690.1 L851.5,1690.2 L853.5,1691.2 L855.5,1690 L857.5,1690.6 L859.5,1691 L861.5,1690.5 L863.5,1691 L865.5,1690.1 L867.5,1687.8 L869.5,1689.8 L871.5,1690 L873.5,1692.6 L875.5,1690.5 L877.5,1690.5 L879.5,1689.8 L881.5,1689.8 L883.5,1690.7 L885.5,1690.5 L887.5,1690.5 L887.5,1720.1 L889.5,1720.9 L891.5,1720.2 L893.5,1720.3 L895.5,1721 L897.5,1721 L899.5,1720.9 L901.5,1720.4 L903.5,1720 L905.5,1720.7 L907.5,1720.5 L909.5,1721 L911.5,1719.7 L913.5,1720.1 L915.5,1720.3 L917.5,1720.4 L919.5,1719.6 L921.5,1720 L923.5,1720.5 L925.5,1719.7 L927.5,1720.3 L929.5,1721.1 L931.5,1720.3 L933.5,1720.8 L935.5,1720.8 L937.5,1720 L939.5,1720.4 L941.5,1720.4 L943.5,1720.3 L945.5,1720 L947.5,1720.3 L949.5,1719.9 L951.5,1720.8 L953.5,1721.1 L955.5,1720.3 L955.5,1773.3 L957.5,1773.3 L959.5,1773.5 L961.5,1773.5 L963.5,1772.6 L965.5,1772.3 L967.5,1772.8 L969.5,1773.2 L971.5,1773.7 L973.5,1772.3 L975.5,1772.4 L977.5,1773.6 L979.5,1772.5 L981.5,1773.4 L983.5,1773.2 L985.5,1773.3 L987.5,1773.6 L989.5,1773.4 L991.5,1773.1 L993.5,1773.2 L995.5,1772.8 L997.5,1772.3 L999.5,1773.4 L1001.5,1773.2 L1003.5,1773.3 L1005.5,1772.7 L1007.5,1772.5 L1009.5,1773.3 L1011.5,1772.7 L1013.5,1773.6 L1015.5,1773.7 L1017.5,1773.7 L1019.5,1772.8 L1021.5,1773 L1023.5,1773 L1023.5,1826.4 L1025.5,1827.1 L1027.5,1827.4 L1029.5,1826.6 L1031.5,1826.7 L1033.5,1826.4 L1035.5,1826.9 L1037.5,1827.7 L1039.5,1826.9 L1041.5,1826.7 L1043.5,1827.8 L1045.5,1827 L1047.5,1827.5 L1049.5,1827.3 L1051.5,1827.7 L1053.5,1827.1 L1055.5,1827.1 L1057.5,1827.5 L1059.5,1826.5 L1061.5,1826.7 L1063.5,1827.4 L1065.5,1827.5 L1067.5,1827.4 L1069.5,1827 L1071.5,1827 L1073.5,1827.7 L1075.5,1826.4 L1077.5,1827.4 L1079.5,1826.5 L1081.5,1827.2 L1083.5,1826.9 L1085.5,1827.3 L1087.5,1826.4 L1089.5,1826.5 L1091.5,1825.2 L1093.5,1827 L1095.5,1827.8 L1097.5,1827 L1099.5,1826.8 L1101.5,1826.5 L1103.5,1826.7 L1105.5,1827.1 L1107.5,1826.9 L1109.5,1826.7 L1111.5,1827.4 L1113.5,1826.9 L1115.5,1827 L1117.5,1827.3 L1119.5,1826.8 L1121.5,1827 L1123.5,1827.6 L1125.5,1826.9 L1127.5,1827.8 L1129.5,1826.9 L1131.5,1827.4 L1133.5,1827.4 L1135.5,1827.3 L1137.5,1827 L1139.5,1826.7 L1141.5,1827.1 L1143.5,1826.8 L1145.5,1826.3 L1147.5,1827.5 L1149.5,1827.2 L1151.5,1826.9 L1153.5,1826.6 L1155.5,1826.4 L1157.5,1827.1 L1157.5,1774.7 L1159.5,1774 L1161.5,1774.5 L1163.5,1774.5 L1165.5,1773.8 L1167.5,1774.3 L1169.5,1774.9 L1171.5,1774.6 L1173.5,1774.5 L1175.5,1773.8 L1177.5,1774.2 L1179.5,1773.7 L1181.5,1774.8 L1183.5,1773.9 L1185.5,1774.1 L1187.5,1774.3 L1189.5,1774.2 L1191.5,1774.3 L1193.5,1774 L1195.5,1773.5 L1197.5,1774.5 L1199.5,1774.7 L1201.5,1773.8 L1203.5,1776.4 L1205.5,1773.7 L1207.5,1774.7 L1209.5,1773.8 L1211.5,1773.6 L1213.5,1774.6 L1215.5,1773.8 L1217.5,1777 L1219.5,1773.7 L1221.5,1774.5 L1223.5,1774.7 L1225.5,1774.2 L1225.5,1721.1 L1227.5,1721.1 L1229.5,1721.3 L1231.5,1721.9 L1233.5,1720.8 L1235.5,1720.6 L1237.5,1720.9 L1239.5,1721.1 L1241.5,1721.8 L1243.5,1720.7 L1245.5,1721.5 L1247.5,1721.7 L1249.5,1720.8 L1251.5,1720.8 L1253.5,1720.5 L1255.5,1720.5 L1257.5,1721.2 L1259.5,1720.6 L1261.5,1720.9 L1263.5,1721.3 L1265.5,1720.5 L1267.5,1720.5 L1269.5,1720.7 L1271.5,1721.4 L1273.5,1720.9 L1275.5,1720.9 L1277.5,1721 L1279.5,1720.8 L1281.5,1719 L1283.5,1720.8 L1285.5,1721.7 L1287.5,1721.2 L1289.5,1721.8 L1291.5,1721.4 L1292.3,1646.9 L1293.5,1721.2 L1293.5,1689.6 L1295.5,1689.2 L1297.5,1689.3 L1299.5,1689.4 L1301.5,1689.8 L1303.5,1687.2 L1305.5,1689.8 L1307.5,1689 L1309.5,1689.9 L1311.5,1689.6 L1313.5,1689.7 L1315.5,1689.2 L1317.5,1689.9 L1319.5,1690 L1321.5,1688.7 L1323.5,1690 L1325.5,1689.4 L1327.5,1689.9 L1329.5,1690.1 L1331.5,1687.4 L1333.5,1689.5 L1335.5,1689.4 L1337.5,1689.2 L1339.5,1689.5 L1341.5,1688.8 L1343.5,1689.9 L1345.5,1688.9 L1347.5,1689.4 L1349.5,1689.5 L1351.5,1688.6 L1353.5,1689.6 L1355.5,1688.7 L1357.5,1689.1 L1359.5,1689.4 L1359.8,1662.2 L1361.5,1689.3 L1361.5,1740.2 L1363.5,1740.5 L1365.5,1740.4 L1367.5,1739.3 L1369.5,1739.5 L1371.5,1739.3 L1373.5,1740 L1375.5,1739.7 L1377.5,1740.5 L1379.5,1740.2 L1381.5,1740.7 L1383.5,1740.1 L1385.5,1740.5 L1387.5,1740.3 L1389.5,1740 L1391.5,1739.6 L1393.5,1740.6 L1395.5,1739.4 L1397.5,1739.6 L1399.5,1740.5 L1401.5,1740.7 L1403.5,1740.2 L1405.5,1740.3 L1407.5,1739.4 L1409.5,1739.8 L1411.5,1737 L1413.5,1739.8 L1415.5,1740.2 L1417.5,1739.5 L1419.5,1740 L1421.5,1740.1 L1423.5,1739.6 L1425.5,1739.4 L1427.3,1716.5 L1427.5,1740 L1427.5,1784.1 L1429.5,1784.7 L1431.5,1785 L1433.5,1785.2 L1435.5,1784.1 L1437.5,1784.3 L1439.5,1781.9 L1441.5,1784.2 L1443.5,1785.3 L1445.5,1782.8 L1447.5,1784.3 L1449.5,1784.3 L1451.5,1784.3 L1453.5,1784.8 L1455.5,1784.3 L1457.5,1784.8 L1459.5,1782.2 L1461.5,1781.9 L1463.5,1784.6 L1465.5,1785.4 L1467.5,1784.6 L1469.5,1784.6 L1471.5,1785.4 L1473.5,1784.5 L1475.5,1785.2 L1477.5,1785.1 L1479.5,1784.3 L1481.5,1785.3 L1483.5,1784.2 L1485.5,1785.1 L1487.5,1784.6 L1489.5,1785.5 L1491.5,1784.9 L1493.5,1785.5 L1494.9,1762.4 L1495.5,1784.8 L1495.5,1836 L1497.5,1835.2 L1499.5,1835.8 L1501.5,1836.1 L1503.5,1835.9 L1505.5,1835.5 L1507.5,1835.3 L1509.5,1836.3 L1511.5,1835.4 L1513.5,1836 L1515.5,1836.2 L1517.5,1835.8 L1519.5,1833.9 L1521.5,1835.4 L1523.5,1835.9 L1525.5,1836 L1527.5,1835.7 L1529.5,1836.3 L1531.5,1835.6 L1533.5,1835.6 L1535.5,1836.1 L1537.5,1836 L1539.5,1836.1 L1541.5,1835.3 L1543.5,1833.4 L1545.5,1836.1 L1547.5,1836 L1549.5,1835.1 L1551.5,1835 L1553.5,1836.2 L1555.5,1835.8 L1557.5,1835.5 L1559.5,1833.6 L1561.5,1835.2 L1563.5,1835.7 L1563.5,1817.8 L1565.5,1817.9 L1567.5,1817.5 L1569.5,1818 L1571.5,1818.3 L1573.5,1817.9 L1575.5,1818 L1577.5,1817.4 L1579.5,1818 L1581.5,1817 L1583.5,1817.4 L1585.5,1817.8 L1587.5,1817.1 L1589.5,1817.9 L1591.5,1818.5 L1593.5,1817.5 L1595.5,1817.8 L1597.5,1817.6 L1599.5,1817.7 L1601.5,1817.7 L1603.5,1818.5 L1605.5,1817.6 L1607.5,1818 L1609.5,1817.2 L1611.5,1817.9 L1613.5,1817.7 L1615.5,1817.6 L1617.5,1814.9 L1619.5,1817.2 L1621.5,1818.4 L1623.5,1817.1 L1625.5,1817.3 L1627.5,1817.9 L1629.5,1818.4 L1631.5,1817.2 L1633.5,1815.2 L1635.5,1818.4 L1637.5,1817.3 L1639.5,1817.9 L1641.5,1817.5 L1643.5,1817.3 L1645.5,1817.1 L1647.5,1818.4 L1649.5,1817.5 L1651.5,1818.4 L1653.5,1817.1 L1655.5,1817.2 L1657.5,1818.4 L1659.5,1817.4 L1661.5,1817.5 L1663.5,1818.1 L1665.5,1817.5 L1667.5,1818.1 L1669.5,1817.7 L1671.5,1817.2 L1673.5,1818.3 L1675.5,1818 L1677.5,1817.6 L1679.5,1818.5 L1681.5,1817.2 L1683.5,1817.9 L1685.5,1818.2 L1687.5,1818.3 L1689.5,1817.6 L1691.5,1817.6 L1693.5,1817.6 L1695.5,1817.5 L1697.5,1818.3 L1699.5,1818 L1701.5,1817.6 L1703.5,1817.4 L1705.5,1817.2 L1707.5,1818.4 L1709.5,1817.6 L1711.5,1817.2 L1713.5,1818.4 L1715.5,1817.4 L1717.5,1817.4 L1719.5,1817.5 L1721.5,1817.3 L1723.5,1817.7 L1725.5,1820.3 L1727.5,1817.5 L1729.5,1817.2 L1731.5,1818.2 L1733.5,1817 L1735.5,1817.9 L1737.5,1817.1 L1739.5,1817.5 L1741.5,1817.6 L1743.5,1818.3 L1745.5,1817.2 L1747.5,1817.2 L1749.5,1817.2 L1751.5,1817.6 L1753.5,1818.5 L1755.5,1818.4 L1757.5,1818.2 L1759.5,1817.7 L1761.5,1818 L1763.5,1817.8 L1765.5,1817.8 L1767.5,1818 L1769.5,1818.2 L1771.5,1817.2 L1773.5,1817.1 L1775.5,1818.5 L1777.5,1817.7 L1779.5,1817.9 L1781.5,1818.2 L1783.5,1818.3 L1785.5,1817 L1787.5,1817.2 L1789.5,1817.1 L1791.5,1818.2 L1793.5,1818 L1795.5,1817.8 L1797.5,1817.7 L1799.5,1818 L1801.5,1817.2 L1803.5,1817.8 L1805.5,1817 L1807.5,1818.3 L1809.5,1817.3 L1811.5,1818.5 L1813.5,1818.2 L1815.5,1818.4 L1817.5,1817.2 L1819.5,1817.4 L1821.5,1818.4 L1823.5,1817.2 L1825.5,1817.4 L1827.5,1818.1 L1829.5,1817.7 L1831.5,1817.7 L1833.5,1817.7 L1835.5,1818.1 L1837.5,1817.9 L1839.5,1817.1 L1841.5,1815.9 L1843.5,1818.4 L1845.5,1817.1 L1847.5,1817.6 L1849.5,1817.2 L1851.5,1818.3 L1853.5,1817.3 L1855.5,1817 L1857.5,1817.4 L1859.5,1818.2 L1861.5,1817.3 L1863.5,1818.2 L1865.5,1817.5 L1867.5,1817.5 L1869.5,1818.2 L1871.5,1818.2 L1873.5,1817.9 L1875.5,1818.4 L1877.5,1818.5 L1879.5,1818.2 L1881.5,1817.5 L1883.5,1818.3 L1885.5,1817.3 L1887.5,1818.3 L1889.5,1817.1 L1891.5,1817.5 L1893.5,1818.4 L1895.5,1818.2 L1897.5,1817.4 L1899.5,1817.5" fill="none" stroke="#00806c" stroke-width="9.5" stroke-linejoin="round" clip-path="url(#cpb)"/>
<path d="M279.5,1674.5 L281.5,1675.2 L281.5,1749 L283.5,1749.2 L283.5,1784.3 L285.5,1784.4 L285.5,1798.6 L287.5,1801.3 L287.5,1809.3 L289.5,1812.8 L291.5,1814.6 L293.5,1814.2 L295.5,1817.2 L297.5,1816.5 L299.5,1815.9 L301.5,1817 L303.5,1816.6 L305.5,1817 L307.5,1817 L309.5,1817.2 L311.5,1816.8 L313.5,1816.6 L315.5,1816.6 L317.5,1817.1 L319.5,1817 L321.5,1816.7 L323.5,1815.9 L325.5,1816.4 L327.5,1816.1 L329.5,1816.1 L331.5,1816.6 L333.5,1816.3 L335.5,1815.8 L337.5,1816.9 L339.5,1817 L341.5,1816 L343.5,1816.9 L345.5,1817.2 L347.5,1815.9 L349.5,1816.3 L351.5,1817.2 L353.5,1816 L355.5,1816.2 L357.5,1816 L359.5,1816.5 L361.5,1816.5 L363.5,1817.2 L365.5,1817.2 L367.5,1816.2 L369.5,1816.5 L371.5,1816.7 L373.5,1817.3 L375.5,1815.9 L377.5,1816.2 L379.5,1814.5 L381.5,1817 L383.5,1816.2 L385.5,1817.3 L387.5,1816.9 L389.5,1817 L391.5,1816.6 L393.5,1816.6 L395.5,1816.3 L397.5,1816.1 L399.5,1816.2 L401.5,1817.3 L403.5,1817.2 L405.5,1817.1 L407.5,1816.7 L409.5,1816.9 L411.5,1818.5 L413.5,1816.6 L415.5,1817.3 L417.5,1816.9 L419.5,1816.9 L421.5,1816.8 L423.5,1817.2 L425.5,1817 L427.5,1816.1 L429.5,1816.9 L431.5,1814.3 L433.5,1816.2 L435.5,1816.5 L437.5,1817.2 L439.5,1815.9 L441.5,1816.8 L443.5,1816.8 L445.5,1816.3 L447.5,1816.8 L449.5,1816.9 L451.5,1816.8 L453.5,1817.1 L455.5,1817.1 L457.5,1819.1 L459.5,1817.1 L461.5,1819.4 L463.5,1817.3 L465.5,1817.1 L467.5,1817.3 L469.5,1817.2 L471.5,1815.9 L473.5,1816.4 L475.5,1816.4 L477.5,1816.9 L479.5,1816.3 L481.5,1816 L483.5,1816.5 L485.5,1816.3 L487.5,1816.1 L489.5,1818.7 L491.5,1816.3 L493.5,1816.6 L495.5,1816.6 L497.5,1816.4 L499.5,1817.1 L501.5,1816.9 L503.5,1817.1 L505.5,1815.9 L507.5,1817 L509.5,1817.3 L511.5,1816.1 L513.5,1816.8 L515.5,1816 L517.5,1816.6 L519.5,1817.3 L521.5,1815.9 L523.5,1816.2 L525.5,1816.3 L527.5,1816.3 L529.5,1817.2 L531.5,1817.2 L533.5,1816.2 L535.5,1816 L537.5,1816 L539.5,1817.3 L541.5,1816.9 L543.5,1815.8 L545.5,1815.9 L547.5,1817.1 L549.5,1813.9 L551.5,1816.6 L553.5,1816.9 L555.5,1816.9 L557.5,1816.3 L559.5,1816.7 L561.5,1816.6 L563.5,1816.3 L565.5,1816.4 L567.5,1816.4 L569.5,1815.8 L571.5,1817 L573.5,1816.7 L575.5,1819.1 L577.5,1817.3 L579.5,1816.2 L581.5,1814.2 L583.5,1816.4 L585.5,1816.3 L587.5,1816.6 L589.5,1815.9 L591.5,1817.1 L593.5,1816.9 L595.5,1816.9 L597.5,1816.9 L599.5,1816.1 L601.5,1817.2 L603.5,1816.6 L605.5,1816.4 L607.5,1815.9 L609.5,1815.9 L611.5,1816.4 L613.5,1816.4 L615.5,1816.5 L617.5,1816.6 L617.5,1837.2 L619.5,1837 L621.5,1836.9 L623.5,1836.6 L625.5,1837 L625.5,1813.3 L627.5,1811.2 L629.5,1814 L631.5,1813.9 L633.5,1813.2 L635.5,1813.3 L637.5,1813 L639.5,1815.6 L641.5,1814.2 L643.5,1813.5 L645.5,1813.1 L647.5,1814.3 L649.5,1812.9 L651.5,1813 L653.5,1813.8 L655.5,1813.1 L657.5,1813.1 L659.5,1813.8 L661.5,1814.1 L663.5,1813.1 L665.5,1813.1 L667.5,1812.9 L669.5,1813.9 L671.5,1813.6 L673.5,1814.1 L675.5,1814.1 L677.5,1813.4 L679.5,1814 L681.5,1814.4 L683.5,1813.5 L685.5,1813.6 L685.5,1729.4 L687.5,1729.3 L689.5,1728.4 L691.5,1728.1 L693.5,1729.4 L695.5,1728.2 L697.5,1728.1 L699.5,1728.1 L701.5,1729.2 L703.5,1729.2 L705.5,1728.6 L707.5,1729.1 L709.5,1728.6 L711.5,1728.6 L713.5,1728.1 L715.5,1728.6 L717.5,1729.2 L719.5,1729.3 L721.5,1728.2 L723.5,1729.2 L725.5,1728.9 L727.5,1728 L729.5,1728.6 L731.5,1729.4 L733.5,1726.2 L735.5,1729.4 L737.5,1730.5 L739.5,1729.3 L741.5,1728 L743.5,1728.3 L745.5,1729.3 L747.5,1728.4 L749.5,1728.4 L751.5,1728.3 L753.5,1728.7 L753.5,1648.3 L755.5,1647.8 L757.5,1648.2 L759.5,1648.3 L761.5,1645.5 L763.5,1647.4 L765.5,1647.5 L767.5,1647.7 L769.5,1648.7 L771.5,1648.5 L773.5,1648.2 L775.5,1648.2 L777.5,1647.8 L779.5,1648.1 L781.5,1648.3 L783.5,1648.4 L785.5,1647.3 L787.5,1647.9 L789.5,1648.1 L791.5,1648.2 L793.5,1648.3 L795.5,1648.1 L797.5,1647.5 L799.5,1648.6 L801.5,1647.7 L803.5,1648.1 L805.5,1647.6 L807.5,1647.4 L809.5,1647.7 L811.5,1647.6 L813.5,1648.1 L815.5,1648.3 L817.5,1648.2 L819.5,1648.2 L821.5,1648 L821.5,1567 L823.5,1566.6 L825.5,1567.1 L827.5,1567.2 L829.5,1567.4 L831.5,1566.8 L833.5,1567.4 L835.5,1566.5 L837.5,1567.7 L839.5,1567.8 L841.5,1566.8 L843.5,1566.3 L845.5,1567.3 L847.5,1567.4 L849.5,1567.4 L851.5,1567.2 L853.5,1567.3 L855.5,1566.4 L857.5,1567.3 L859.5,1567.7 L861.5,1566.5 L863.5,1566.8 L865.5,1567.6 L867.5,1567.3 L869.5,1567 L871.5,1566.4 L873.5,1566.3 L875.5,1567.6 L877.5,1567.2 L879.5,1566.5 L881.5,1566.9 L883.5,1566.4 L885.5,1567 L887.5,1567 L887.5,1557.1 L889.5,1556.4 L891.5,1556.8 L893.5,1556.7 L895.5,1555.9 L897.5,1556.6 L899.5,1556.1 L901.5,1556.5 L903.5,1556.8 L905.5,1556.8 L907.5,1557.1 L909.5,1556.2 L911.5,1556.7 L913.5,1556.3 L915.5,1556.5 L917.5,1556.3 L919.5,1556.3 L921.5,1556.5 L923.5,1556.7 L925.5,1556.7 L927.5,1557.3 L929.5,1556 L931.5,1555.9 L933.5,1557.1 L935.5,1555.9 L937.5,1556.6 L939.5,1555.9 L941.5,1555.9 L943.5,1556.3 L945.5,1557.3 L947.5,1557.2 L949.5,1557.2 L951.5,1556.2 L953.5,1556.6 L955.5,1556.6 L955.5,1587.3 L957.5,1586.2 L959.5,1587.1 L961.5,1586.8 L963.5,1586.3 L965.5,1586.7 L967.5,1586.3 L969.5,1586.8 L971.5,1587.4 L973.5,1587.4 L975.5,1586.7 L977.5,1586.1 L979.5,1584.8 L981.5,1586.2 L983.5,1587.1 L985.5,1586.2 L987.5,1587.4 L989.5,1586.6 L991.5,1587 L993.5,1587.1 L995.5,1587.1 L997.5,1586.1 L999.5,1586.2 L1001.5,1586.4 L1003.5,1586.6 L1005.5,1587.3 L1007.5,1587.1 L1009.5,1586.5 L1011.5,1586.9 L1013.5,1587 L1015.5,1586.7 L1017.5,1586.5 L1019.5,1585.9 L1021.5,1586.7 L1023.5,1586.7 L1023.5,1614.2 L1025.5,1613.7 L1027.5,1614 L1029.5,1614.1 L1031.5,1614.2 L1033.5,1613.2 L1035.5,1613.4 L1037.5,1614.5 L1039.5,1614.2 L1041.5,1614 L1043.5,1613.4 L1045.5,1613.1 L1047.5,1614.5 L1049.5,1613.1 L1051.5,1611.1 L1053.5,1613.4 L1055.5,1614.2 L1057.5,1613.8 L1059.5,1614 L1061.5,1613.3 L1063.5,1613.4 L1065.5,1614 L1067.5,1614 L1069.5,1614 L1071.5,1614.3 L1073.5,1614.4 L1075.5,1614.3 L1077.5,1614.1 L1079.5,1613.4 L1081.5,1614.1 L1083.5,1614 L1085.5,1614 L1087.5,1613.4 L1089.5,1614.1 L1091.5,1613.5 L1093.5,1613.7 L1095.5,1614 L1097.5,1614.2 L1099.5,1614.2 L1101.5,1613.7 L1103.5,1614 L1105.5,1614.3 L1107.5,1613.9 L1109.5,1611.7 L1111.5,1614.5 L1113.5,1614.4 L1115.5,1614.3 L1117.5,1613.1 L1119.5,1613.2 L1121.5,1614.5 L1123.5,1614.3 L1125.5,1613.3 L1127.5,1613.2 L1129.5,1613.8 L1131.5,1613.5 L1133.5,1613.3 L1135.5,1613.2 L1137.5,1613.9 L1139.5,1613.7 L1141.5,1614.2 L1143.5,1614.4 L1145.5,1613.5 L1147.5,1614 L1149.5,1610.9 L1151.5,1613.4 L1153.5,1614 L1155.5,1613.9 L1157.5,1613.8 L1157.5,1586.6 L1159.5,1586.5 L1161.5,1586.2 L1163.5,1589.1 L1165.5,1586.5 L1167.5,1586.8 L1169.5,1586.4 L1171.5,1586.5 L1173.5,1586.3 L1175.5,1587 L1177.5,1587 L1179.5,1586.5 L1181.5,1586.4 L1183.5,1586.2 L1185.5,1586.1 L1187.5,1586.5 L1189.5,1586.6 L1191.5,1587.2 L1193.5,1587.2 L1195.5,1587.3 L1197.5,1586.8 L1199.5,1586.5 L1201.5,1584 L1203.5,1586.6 L1205.5,1587.2 L1207.5,1586.2 L1209.5,1586.3 L1211.5,1586.6 L1213.5,1586.6 L1215.5,1586.4 L1217.5,1586.5 L1219.5,1586.7 L1221.5,1587.3 L1223.5,1586.4 L1225.5,1586.7 L1225.5,1557.8 L1227.5,1558 L1229.5,1557.1 L1231.5,1557.5 L1233.5,1557.5 L1235.5,1557.1 L1237.5,1558.2 L1239.5,1557.2 L1241.5,1557.1 L1243.5,1557.8 L1245.5,1558.2 L1247.5,1557.8 L1249.5,1557.1 L1251.5,1557.6 L1253.5,1557.2 L1255.5,1557.8 L1257.5,1557.1 L1259.5,1558.4 L1261.5,1557.8 L1263.5,1557.9 L1265.5,1557.3 L1267.5,1557.7 L1269.5,1557.1 L1271.5,1557.2 L1273.5,1557.7 L1275.5,1558.2 L1277.5,1557.5 L1279.5,1557 L1281.5,1557.1 L1283.5,1558.3 L1285.5,1558.4 L1287.5,1558.1 L1289.5,1557.7 L1291.5,1557.6 L1292.3,1519.7 L1293.5,1557.8 L1293.5,1564.5 L1295.5,1564.3 L1297.5,1564.6 L1299.5,1564 L1301.5,1565 L1303.5,1564.7 L1305.5,1564.9 L1307.5,1565.1 L1309.5,1564.5 L1311.5,1562.3 L1313.5,1564.8 L1315.5,1565.3 L1317.5,1565 L1319.5,1564.9 L1321.5,1564.9 L1323.5,1564.7 L1325.5,1564.2 L1327.5,1565.2 L1329.5,1564 L1331.5,1565.2 L1333.5,1564.2 L1335.5,1564.2 L1337.5,1564.6 L1339.5,1564.4 L1341.5,1567.3 L1343.5,1564.3 L1345.5,1564.6 L1347.5,1565.4 L1349.5,1564.7 L1351.5,1565.1 L1353.5,1564.1 L1355.5,1565.1 L1357.5,1564.1 L1359.5,1564.2 L1361.5,1564.7 L1361.5,1644.7 L1363.5,1643.9 L1365.5,1644.8 L1367.5,1643.8 L1369.5,1645 L1371.5,1644.1 L1373.5,1645 L1375.5,1644.8 L1377.5,1642.5 L1379.5,1646.5 L1381.5,1644.9 L1383.5,1643.9 L1385.5,1645.2 L1387.5,1644.6 L1389.5,1644.9 L1391.5,1645 L1393.5,1644.5 L1395.5,1644.4 L1397.5,1644.7 L1399.5,1644.6 L1401.5,1644.2 L1403.5,1645.1 L1405.5,1643.8 L1407.5,1644.7 L1409.5,1644.6 L1411.5,1644.9 L1413.5,1644.8 L1415.5,1644.1 L1417.5,1644.3 L1419.5,1644.6 L1421.5,1643.8 L1423.5,1644.9 L1425.5,1644.9 L1427.5,1644.5 L1427.5,1723.2 L1429.5,1723.2 L1431.5,1721.2 L1433.5,1722.8 L1435.5,1723.7 L1437.5,1722.9 L1439.5,1723.6 L1441.5,1723.1 L1443.5,1723.5 L1445.5,1723.7 L1447.5,1723.2 L1449.5,1723.2 L1451.5,1723.1 L1453.5,1723.9 L1455.5,1723.6 L1457.5,1724.3 L1459.5,1723.3 L1461.5,1723.7 L1463.5,1723 L1465.5,1723.8 L1467.5,1724.2 L1469.5,1723.6 L1471.5,1723.3 L1473.5,1722.9 L1475.5,1720.5 L1477.5,1723.9 L1479.5,1724.2 L1481.5,1723.5 L1483.5,1722.8 L1485.5,1723.3 L1487.5,1722.9 L1489.5,1722.9 L1491.5,1724.2 L1493.5,1723.6 L1495.5,1723.5 L1495.5,1812.3 L1497.5,1812.3 L1499.5,1812 L1501.5,1811.3 L1503.5,1811.8 L1505.5,1809.2 L1507.5,1811.3 L1509.5,1811.5 L1511.5,1812 L1513.5,1811.7 L1515.5,1812.2 L1517.5,1812 L1519.5,1811.2 L1521.5,1811.7 L1523.5,1812.1 L1525.5,1809.5 L1527.5,1811.3 L1529.5,1811.9 L1531.5,1812 L1533.5,1812.2 L1535.5,1812.4 L1537.5,1811.4 L1539.5,1812.1 L1541.5,1812.5 L1543.5,1811.7 L1545.5,1811.8 L1547.5,1811.4 L1549.5,1811.9 L1551.5,1811.3 L1553.5,1812 L1555.5,1811.2 L1557.5,1812.4 L1559.5,1812.4 L1561.5,1811.6 L1563.5,1811.9 L1563.5,1820.3 L1565.5,1820.2 L1567.5,1819.7 L1569.5,1819.5 L1571.5,1819.5 L1573.5,1820.8 L1575.5,1820.8 L1577.5,1819.4 L1579.5,1819.9 L1581.5,1819.5 L1583.5,1819.4 L1585.5,1820.1 L1587.5,1820.8 L1589.5,1820.1 L1591.5,1819.9 L1593.5,1820.5 L1595.5,1820.5 L1597.5,1819.6 L1599.5,1819.5 L1601.5,1819.7 L1603.5,1820.6 L1605.5,1820.7 L1607.5,1820.4 L1609.5,1820.4 L1611.5,1820.3 L1613.5,1820.2 L1615.5,1820.8 L1617.5,1819.7 L1619.5,1819.8 L1621.5,1822.2 L1623.5,1820 L1625.5,1820.1 L1627.5,1820.4 L1629.5,1819.5 L1631.5,1820.3 L1633.5,1820.1 L1635.5,1820.9 L1637.5,1820 L1639.5,1820.4 L1641.5,1820.9 L1643.5,1819.7 L1645.5,1820.6 L1647.5,1819.7 L1649.5,1820.7 L1651.5,1820.3 L1653.5,1820.8 L1655.5,1820.8 L1657.5,1820.3 L1659.5,1819.8 L1661.5,1820.7 L1663.5,1820.8 L1665.5,1820.3 L1667.5,1820.8 L1669.5,1819.8 L1671.5,1819.6 L1673.5,1820.2 L1675.5,1819.6 L1677.5,1820.4 L1679.5,1819.6 L1681.5,1820.8 L1683.5,1820.2 L1685.5,1819.4 L1687.5,1820.5 L1689.5,1819.9 L1691.5,1820.8 L1693.5,1819.5 L1695.5,1820.8 L1697.5,1819.7 L1699.5,1820.6 L1701.5,1820.4 L1703.5,1819.7 L1705.5,1820.5 L1707.5,1819.5 L1709.5,1820 L1711.5,1819.6 L1713.5,1820.3 L1715.5,1820.3 L1717.5,1819.6 L1719.5,1819.9 L1721.5,1820.3 L1723.5,1820.7 L1725.5,1819.6 L1727.5,1819.5 L1729.5,1819.7 L1731.5,1817.3 L1733.5,1819.8 L1735.5,1819.5 L1737.5,1820.4 L1739.5,1820.3 L1741.5,1820.2 L1743.5,1819.8 L1745.5,1820.2 L1747.5,1820.8 L1749.5,1819.9 L1751.5,1820.5 L1753.5,1819.7 L1755.5,1820 L1757.5,1820 L1759.5,1820.1 L1761.5,1819.8 L1763.5,1820.5 L1765.5,1820.1 L1767.5,1819.8 L1769.5,1819.7 L1771.5,1819.4 L1773.5,1819.8 L1775.5,1820.6 L1777.5,1820.7 L1779.5,1819.7 L1781.5,1820.1 L1783.5,1820.6 L1785.5,1817.9 L1787.5,1819.4 L1789.5,1819.6 L1791.5,1819.7 L1793.5,1819.6 L1795.5,1819.5 L1797.5,1819.7 L1799.5,1820.9 L1801.5,1820.5 L1803.5,1820.8 L1805.5,1820.3 L1807.5,1819.4 L1809.5,1820.1 L1811.5,1820.9 L1813.5,1819.7 L1815.5,1822.2 L1817.5,1820.6 L1819.5,1817.2 L1821.5,1820.5 L1823.5,1820.1 L1825.5,1820.7 L1827.5,1820 L1829.5,1819.6 L1831.5,1817.8 L1833.5,1820.8 L1835.5,1820.1 L1837.5,1819.8 L1839.5,1819.8 L1841.5,1820 L1843.5,1819.6 L1845.5,1820.2 L1847.5,1820 L1849.5,1819.8 L1851.5,1819.5 L1853.5,1820.2 L1855.5,1820.6 L1857.5,1819.6 L1859.5,1820.8 L1861.5,1820.6 L1863.5,1820.2 L1865.5,1819.8 L1867.5,1820.5 L1869.5,1819.5 L1871.5,1820.4 L1873.5,1819.4 L1875.5,1820.5 L1877.5,1819.9 L1879.5,1820.6 L1881.5,1820.5 L1883.5,1820.1 L1885.5,1820.3 L1887.5,1819.7 L1889.5,1819.8 L1891.5,1820.5 L1893.5,1820.7 L1895.5,1820.8 L1897.5,1820.5 L1899.5,1820" fill="none" stroke="#990000" stroke-width="9.5" stroke-linejoin="round" clip-path="url(#cpb)"/>
<path d="M279.5,1818.4 L280.9,2041.8 L282.2,1817.8 L282.9,1818.4 L284.2,1818.2 L286.2,1817.7 L288.2,1818.1 L290.2,1818.6 L292.2,1821.4 L294.2,1818.3 L296.2,1818.2 L298.2,1817.7 L300.2,1818.8 L302.2,1818.1 L304.2,1818 L306.2,1817.7 L308.2,1818.7 L310.2,1818.7 L312.2,1818.5 L314.2,1818.1 L316.2,1818.5 L318.2,1817.7 L320.2,1818.9 L322.2,1817.9 L324.2,1818 L326.2,1817.7 L328.2,1818.9 L330.2,1818.5 L332.2,1818.9 L334.2,1818.2 L336.2,1819 L338.2,1818.5 L340.2,1817.7 L342.2,1818 L344.2,1818.6 L346.2,1816 L348.2,1818.2 L350.2,1818.3 L352.2,1817.9 L354.2,1818.8 L356.2,1818.7 L358.2,1821 L360.2,1818.2 L362.2,1819.1 L364.2,1818.6 L366.2,1818.5 L368.2,1818 L370.2,1817.9 L372.2,1817.7 L374.2,1818.4 L376.2,1818.8 L378.2,1818.7 L380.2,1815.5 L382.2,1817.8 L384.2,1818.1 L386.2,1817.9 L388.2,1817.8 L390.2,1819.1 L392.2,1817.8 L394.2,1820.7 L396.2,1819.1 L398.2,1818.9 L400.2,1818.7 L402.2,1819 L404.2,1818.7 L406.2,1818.7 L408.2,1818.5 L410.2,1821.1 L412.2,1818.7 L414.2,1819 L416.2,1817.9 L418.2,1814.9 L420.2,1815.8 L422.2,1817.9 L424.2,1818.8 L426.2,1819 L428.2,1818 L430.2,1818.8 L432.2,1819.1 L434.2,1818.4 L436.2,1818.8 L438.2,1818.6 L440.2,1818.9 L442.2,1817.6 L444.2,1818.8 L446.2,1818.9 L448.2,1817.9 L450.2,1818.6 L452.2,1817.8 L454.2,1817.9 L456.2,1819 L458.2,1818.7 L460.2,1819 L462.2,1818.2 L464.2,1818.9 L466.2,1815 L468.2,1818.7 L470.2,1818.1 L472.2,1818.2 L474.2,1818.9 L476.2,1816 L478.2,1816.2 L480.2,1818.2 L482.2,1818.9 L484.2,1818.7 L486.2,1818.8 L488.2,1817.7 L490.2,1818.2 L492.2,1818.4 L494.2,1818.2 L496.2,1818.8 L498.2,1817.9 L500.2,1818 L502.2,1818.2 L504.2,1819.1 L506.2,1818.2 L508.2,1818.4 L510.2,1818.4 L512.2,1818.6 L514.2,1817.9 L516.2,1818.2 L518.2,1818.8 L520.2,1818.2 L522.2,1819 L524.2,1818.3 L526.2,1818.8 L528.2,1818.4 L530.2,1818.2 L532.2,1818.2 L534.2,1818.3 L536.2,1818.4 L538.2,1817.9 L540.2,1818.4 L542.2,1818.3 L544.2,1818.6 L546.2,1817.7 L548.2,1818 L550.2,1818.3 L552.2,1819.1 L554.2,1818.5 L556.2,1817.8 L558.2,1817.9 L560.2,1818.5 L562.2,1818.9 L564.2,1815.6 L566.2,1818.5 L568.2,1818.5 L570.2,1818.3 L572.2,1818.7 L574.2,1818 L576.2,1817.9 L578.2,1818.4 L580.2,1818.9 L582.2,1818.5 L584.2,1818 L586.2,1818.3 L588.2,1818.4 L590.2,1818.8 L592.2,1818.5 L594.2,1819 L596.2,1817.9 L598.2,1818.6 L600.2,1818.7 L602.2,1818.6 L604.2,1818.6 L606.2,1818.9 L608.2,1818.2 L610.2,1818.6 L612.2,1818.4 L614.2,1818.6 L616.2,1818.1 L618.2,1818.4 L618.2,1811.7 L620.2,1812 L620.2,1804.7 L622.2,1804.2 L622.2,1799.6 L624.2,1796.3 L626.2,1794.9 L628.2,1793.9 L630.2,1793.5 L632.2,1793.1 L634.2,1791.7 L636.2,1791.9 L638.2,1792 L640.2,1791.9 L642.2,1792 L644.2,1792.2 L646.2,1792.3 L648.2,1792.1 L650.2,1791.2 L652.2,1792.1 L654.2,1792.5 L656.2,1791.8 L658.2,1792.6 L660.2,1791.5 L662.2,1791.6 L664.2,1791.3 L666.2,1791.8 L668.2,1791.5 L670.2,1791.3 L672.2,1791.2 L674.2,1791.6 L676.2,1791.8 L678.2,1791.1 L680.2,1792.6 L682.2,1791.2 L684.2,1791.6 L686.2,1791.8 L686.2,1670.3 L688.2,1670.4 L690.2,1670 L692.2,1670.6 L694.2,1670.8 L696.2,1670 L698.2,1669.9 L700.2,1670.3 L702.2,1670 L704.2,1670.2 L706.2,1670.6 L708.2,1670.4 L710.2,1670.5 L712.2,1671 L714.2,1669.9 L716.2,1670.7 L718.2,1671.1 L720.2,1671 L722.2,1670.3 L724.2,1671 L726.2,1671 L728.2,1670.3 L730.2,1670.5 L732.2,1671.1 L734.2,1671 L736.2,1667.7 L738.2,1670.5 L740.2,1670.5 L742.2,1670.8 L744.2,1670.1 L746.2,1670.1 L748.2,1670.3 L750.2,1670.9 L752.2,1670.5 L752.2,1562 L754.2,1559.4 L756.2,1562.5 L758.2,1562.2 L760.2,1560.2 L762.2,1562.8 L764.2,1562.2 L766.2,1561.9 L768.2,1562.5 L770.2,1562.8 L772.2,1563 L774.2,1562.7 L776.2,1562 L778.2,1559.8 L780.2,1562 L782.2,1562.6 L784.2,1562.7 L786.2,1565.3 L788.2,1562.5 L790.2,1562.3 L792.2,1563 L794.2,1562.8 L796.2,1563 L798.2,1562.4 L800.2,1562.1 L802.2,1562.6 L804.2,1562.4 L806.2,1562.5 L808.2,1563 L810.2,1562.9 L812.2,1563 L814.2,1562.5 L816.2,1563.1 L818.2,1562.5 L820.2,1562.4 L820.2,1454.5 L822.2,1454.5 L824.2,1454 L826.2,1453.9 L828.2,1454 L830.2,1454.3 L832.2,1454.7 L834.2,1454.9 L836.2,1456.8 L838.2,1454.9 L840.2,1454.8 L842.2,1454.6 L844.2,1454.7 L846.2,1455.1 L848.2,1454.7 L850.2,1455.2 L852.2,1455.1 L854.2,1454.5 L856.2,1455.3 L858.2,1454.6 L860.2,1454.8 L862.2,1454.8 L864.2,1457.7 L866.2,1454.9 L868.2,1455 L870.2,1454.3 L872.2,1454 L874.2,1455 L876.2,1454.2 L878.2,1451.8 L880.2,1455.1 L882.2,1453.9 L884.2,1453.9 L886.2,1455.2 L888.2,1454.6 L888.2,1410 L890.2,1410.4 L892.2,1411.1 L894.2,1410.2 L896.2,1411.1 L898.2,1410.6 L900.2,1410.6 L902.2,1411 L904.2,1411.2 L906.2,1411.2 L908.2,1410.3 L910.2,1410.7 L912.2,1411.4 L914.2,1410.9 L916.2,1411.4 L918.2,1411 L920.2,1411 L922.2,1410.7 L924.2,1410.2 L926.2,1410.9 L928.2,1411.1 L930.2,1410.8 L932.2,1411 L934.2,1411.2 L936.2,1410.6 L938.2,1410.1 L940.2,1410 L942.2,1410.6 L944.2,1410.1 L946.2,1410.1 L948.2,1410.5 L950.2,1410.9 L952.2,1410 L954.2,1411 L956.2,1411.5 L958.2,1411.2 L960.2,1410.8 L962.2,1410.6 L964.2,1410.4 L966.2,1411.4 L968.2,1411.2 L970.2,1410.5 L972.2,1411 L974.2,1411.5 L976.2,1411.3 L978.2,1411.1 L980.2,1413.8 L982.2,1410.6 L984.2,1411 L986.2,1411.2 L988.2,1410.2 L990.2,1411.1 L992.2,1410.7 L994.2,1410 L996.2,1410.5 L998.2,1411 L1000.2,1410.4 L1002.2,1410.6 L1004.2,1411.5 L1006.2,1411 L1008.2,1411.4 L1010.2,1410.2 L1012.2,1410 L1014.2,1410.6 L1016.2,1410.9 L1018.2,1410.1 L1020.2,1410.8 L1022.2,1410.9 L1024.2,1410.5 L1026.2,1410.4 L1028.2,1410.3 L1030.2,1411.3 L1032.2,1410.5 L1034.2,1411.3 L1036.2,1411.4 L1038.2,1411 L1040.2,1411.4 L1042.2,1411.1 L1044.2,1410.1 L1046.2,1410.4 L1048.2,1410.3 L1050.2,1408.3 L1052.2,1411.2 L1054.2,1411.4 L1056.2,1410.3 L1058.2,1410.5 L1060.2,1407.9 L1062.2,1410.5 L1064.2,1410.7 L1066.2,1411.1 L1068.2,1411.5 L1070.2,1410.3 L1072.2,1411.2 L1074.2,1410.8 L1076.2,1410.5 L1078.2,1411.1 L1080.2,1410.8 L1082.2,1410.7 L1084.2,1410.7 L1086.2,1410.5 L1088.2,1410.8 L1090.2,1411.3 L1092.2,1410.3 L1094.2,1410.8 L1096.2,1410.2 L1098.2,1411.5 L1100.2,1410.9 L1102.2,1410.5 L1104.2,1410.1 L1106.2,1410.5 L1108.2,1410.1 L1110.2,1411.4 L1112.2,1410.3 L1114.2,1410.5 L1116.2,1410.3 L1118.2,1411.4 L1120.2,1411.4 L1122.2,1410.8 L1124.2,1411 L1126.2,1410.1 L1128.2,1411.2 L1130.2,1410.1 L1132.2,1410.1 L1134.2,1410.3 L1136.2,1410.3 L1138.2,1411.1 L1140.2,1410.8 L1142.2,1410.1 L1144.2,1410.2 L1146.2,1410.4 L1148.2,1411.3 L1150.2,1410.7 L1152.2,1410.3 L1154.2,1410.1 L1156.2,1411.4 L1158.2,1410.5 L1160.2,1410.8 L1162.2,1411 L1164.2,1411.3 L1166.2,1411.4 L1168.2,1411 L1170.2,1410.3 L1172.2,1411.3 L1174.2,1410 L1176.2,1410.2 L1178.2,1411.4 L1180.2,1411.2 L1182.2,1411.2 L1184.2,1410.8 L1186.2,1411.1 L1188.2,1411 L1190.2,1410.4 L1192.2,1410.2 L1194.2,1410.2 L1196.2,1410.3 L1198.2,1411.5 L1200.2,1408.3 L1202.2,1410.9 L1204.2,1410.3 L1206.2,1411.1 L1208.2,1410.4 L1210.2,1410.4 L1212.2,1410.9 L1214.2,1410.2 L1216.2,1410.4 L1218.2,1410.3 L1220.2,1410.1 L1222.2,1413.3 L1224.2,1410.3 L1226.2,1410 L1228.2,1410.9 L1230.2,1411.5 L1232.2,1410.2 L1234.2,1410 L1236.2,1411.3 L1238.2,1410 L1240.2,1411.2 L1242.2,1410.4 L1244.2,1411.2 L1246.2,1408.2 L1248.2,1410.3 L1250.2,1410.1 L1252.2,1410.3 L1254.2,1410.5 L1256.2,1410.8 L1258.2,1411.1 L1260.2,1410.7 L1262.2,1411.2 L1264.2,1410.7 L1266.2,1410.7 L1268.2,1410.2 L1270.2,1410.9 L1272.2,1411.5 L1274.2,1411 L1276.2,1410.4 L1278.2,1411.3 L1280.2,1410.8 L1282.2,1408.4 L1284.2,1411 L1286.2,1410.4 L1288.2,1410.6 L1290.2,1410.4 L1292.2,1411 L1294.2,1410.8 L1294.2,1455.3 L1296.2,1455.8 L1298.2,1456 L1300.2,1456.5 L1302.2,1456 L1304.2,1455.8 L1306.2,1455.4 L1308.2,1456.1 L1310.2,1455.4 L1312.2,1456.5 L1314.2,1456.1 L1316.2,1456.4 L1318.2,1455.8 L1320.2,1458.2 L1322.2,1455.2 L1324.2,1455.5 L1326.2,1455.3 L1328.2,1452.9 L1330.2,1455.5 L1332.2,1456.5 L1334.2,1455.5 L1336.2,1455.5 L1338.2,1455.5 L1340.2,1455.6 L1342.2,1455.1 L1344.2,1455.5 L1346.2,1456.3 L1348.2,1455.9 L1350.2,1456.3 L1352.2,1455.1 L1354.2,1456.3 L1356.2,1455.3 L1358.2,1455.3 L1360.2,1455.8 L1360.2,1561.5 L1362.2,1559.1 L1364.2,1561.5 L1366.2,1560.7 L1368.2,1557.9 L1370.2,1561.1 L1372.2,1561.3 L1374.2,1560.6 L1376.2,1560.7 L1378.2,1561.7 L1380.2,1561.5 L1382.2,1561.7 L1384.2,1557.7 L1386.2,1560.6 L1388.2,1562 L1390.2,1558.9 L1392.2,1561 L1394.2,1561.8 L1396.2,1562 L1398.2,1561.5 L1400.2,1561.2 L1402.2,1561 L1404.2,1560.8 L1406.2,1561.6 L1408.2,1560.6 L1410.2,1561.7 L1412.2,1560.9 L1414.2,1561.6 L1416.2,1560.7 L1418.2,1560.6 L1420.2,1561 L1422.2,1560.7 L1424.2,1560.9 L1426.2,1561.4 L1428.2,1561.2 L1428.2,1668.8 L1430.2,1668.6 L1432.2,1669.6 L1434.2,1669.8 L1436.2,1668.9 L1438.2,1669.5 L1440.2,1669.3 L1442.2,1669.8 L1444.2,1669.9 L1446.2,1669.1 L1448.2,1669.7 L1450.2,1669.5 L1452.2,1669.1 L1454.2,1669.5 L1456.2,1669.1 L1458.2,1668.8 L1460.2,1669 L1462.2,1668.6 L1464.2,1668.8 L1466.2,1669.8 L1468.2,1668.7 L1470.2,1668.8 L1472.2,1667.2 L1474.2,1669.2 L1476.2,1669.8 L1478.2,1668.7 L1480.2,1669.2 L1482.2,1668.8 L1484.2,1668.8 L1486.2,1669.3 L1488.2,1668.9 L1490.2,1668.6 L1492.2,1669.2 L1494.2,1668.7 L1496.2,1669.3 L1496.2,1786.4 L1498.2,1786.5 L1500.2,1787.1 L1502.2,1787.4 L1504.2,1787.4 L1506.2,1786.8 L1508.2,1787.1 L1510.2,1786.5 L1512.2,1790.1 L1514.2,1787.3 L1516.2,1787.3 L1518.2,1786.8 L1520.2,1786.8 L1522.2,1786.5 L1524.2,1787.8 L1526.2,1787.5 L1528.2,1786.8 L1530.2,1787.2 L1532.2,1784.5 L1534.2,1787.1 L1536.2,1787.8 L1538.2,1787.7 L1540.2,1786.8 L1542.2,1786.6 L1544.2,1786.5 L1546.2,1787.5 L1548.2,1786.7 L1550.2,1787.4 L1552.2,1787.1 L1554.2,1787.1 L1556.2,1787.8 L1558.2,1787.2 L1560.2,1787.7 L1562.2,1787 L1564.2,1787.1 L1564.2,1815.1 L1566.2,1815.7 L1568.2,1815.4 L1570.2,1814.7 L1572.2,1815.7 L1574.2,1815.9 L1576.2,1816 L1578.2,1815.6 L1580.2,1815 L1582.2,1815 L1584.2,1816 L1586.2,1816.1 L1588.2,1811.9 L1590.2,1815.8 L1592.2,1818.7 L1594.2,1815.3 L1596.2,1814.7 L1598.2,1815.6 L1600.2,1815.7 L1602.2,1814.9 L1604.2,1816 L1606.2,1815.5 L1608.2,1814.9 L1610.2,1815.1 L1612.2,1816.1 L1614.2,1815 L1616.2,1816.1 L1618.2,1815.1 L1620.2,1814.8 L1622.2,1815.5 L1624.2,1815 L1626.2,1815.4 L1628.2,1815.6 L1630.2,1816 L1632.2,1814.8 L1634.2,1814.7 L1636.2,1815 L1638.2,1814.9 L1640.2,1815.9 L1642.2,1815.4 L1644.2,1815.8 L1646.2,1814.8 L1648.2,1815 L1650.2,1816.1 L1652.2,1815.1 L1654.2,1815.6 L1656.2,1815.3 L1658.2,1812.1 L1660.2,1816 L1662.2,1817.8 L1664.2,1815.2 L1666.2,1816.1 L1668.2,1815.7 L1670.2,1815 L1672.2,1812.7 L1674.2,1815 L1676.2,1814.8 L1678.2,1815.4 L1680.2,1815.5 L1682.2,1815.2 L1684.2,1815.3 L1686.2,1815.8 L1688.2,1814.9 L1690.2,1816.1 L1692.2,1814.7 L1694.2,1814.7 L1696.2,1816 L1698.2,1815.7 L1700.2,1815.8 L1702.2,1815.9 L1704.2,1815.4 L1706.2,1814.8 L1708.2,1816 L1710.2,1815.8 L1712.2,1816 L1714.2,1815.6 L1716.2,1815.4 L1718.2,1815.6 L1720.2,1815.9 L1722.2,1815.3 L1724.2,1815.7 L1726.2,1815.9 L1728.2,1813.1 L1730.2,1815.4 L1732.2,1815.4 L1734.2,1815.3 L1736.2,1815.2 L1738.2,1815.1 L1740.2,1815.5 L1742.2,1814.9 L1744.2,1815.8 L1746.2,1815 L1748.2,1816.1 L1750.2,1815.9 L1752.2,1815.6 L1754.2,1816.1 L1756.2,1814.7 L1758.2,1815.6 L1760.2,1815.4 L1762.2,1815.8 L1764.2,1814.8 L1766.2,1815.2 L1768.2,1815.7 L1770.2,1815.6 L1772.2,1814.8 L1774.2,1818.8 L1776.2,1815.9 L1778.2,1814.9 L1780.2,1814.9 L1782.2,1816.1 L1784.2,1815.7 L1786.2,1815.4 L1788.2,1815.1 L1790.2,1814.8 L1792.2,1813 L1794.2,1815 L1796.2,1814.7 L1798.2,1814.8 L1800.2,1814.8 L1802.2,1815 L1804.2,1814.7 L1806.2,1815.2 L1808.2,1815 L1810.2,1816 L1812.2,1815.4 L1814.2,1815.1 L1816.2,1813.3 L1818.2,1815.2 L1820.2,1815.7 L1822.2,1815.6 L1824.2,1815.7 L1826.2,1815.5 L1828.2,1815.5 L1830.2,1815.9 L1832.2,1814.7 L1834.2,1815.4 L1836.2,1815.3 L1838.2,1816 L1840.2,1815.8 L1842.2,1815.3 L1844.2,1816 L1846.2,1815.7 L1848.2,1815.5 L1850.2,1815.1 L1852.2,1813 L1854.2,1815.9 L1856.2,1815.1 L1858.2,1815.7 L1860.2,1815.6 L1862.2,1818.6 L1864.2,1814.9 L1866.2,1816.1 L1868.2,1815.9 L1870.2,1814.9 L1872.2,1815.9 L1874.2,1816 L1876.2,1816 L1878.2,1814.8 L1880.2,1815.9 L1882.2,1815.2 L1884.2,1815.9 L1886.2,1815.3 L1888.2,1816.2 L1890.2,1815.2 L1892.2,1814.9 L1894.2,1815.7 L1896.2,1815.8 L1898.2,1815.5" fill="none" stroke="#00a8b8" stroke-width="9.5" stroke-linejoin="round" clip-path="url(#cpb)"/>
<line x1="236.3" y1="110.5" x2="236.3" y2="921" stroke="#2b2b2b" stroke-width="3"/>
<line x1="225.3" y1="112.3" x2="236.3" y2="112.3" stroke="#2b2b2b" stroke-width="3"/>
<text x="212.5" y="123.6" font-family="'Liberation Sans', Arial, sans-serif" font-size="31" font-weight="normal" fill="#1a1a2a" text-anchor="end" textLength="61" lengthAdjust="spacingAndGlyphs" stroke="#1a1a2a" stroke-width="0.6">1.10</text>
<line x1="225.3" y1="315.5" x2="236.3" y2="315.5" stroke="#2b2b2b" stroke-width="3"/>
<text x="212.5" y="326.8" font-family="'Liberation Sans', Arial, sans-serif" font-size="31" font-weight="normal" fill="#1a1a2a" text-anchor="end" textLength="61" lengthAdjust="spacingAndGlyphs" stroke="#1a1a2a" stroke-width="0.6">1.05</text>
<line x1="225.3" y1="516.3" x2="236.3" y2="516.3" stroke="#2b2b2b" stroke-width="3"/>
<text x="212.5" y="527.6" font-family="'Liberation Sans', Arial, sans-serif" font-size="31" font-weight="normal" fill="#1a1a2a" text-anchor="end" textLength="61" lengthAdjust="spacingAndGlyphs" stroke="#1a1a2a" stroke-width="0.6">1.00</text>
<line x1="225.3" y1="716.8" x2="236.3" y2="716.8" stroke="#2b2b2b" stroke-width="3"/>
<text x="212.5" y="728.1" font-family="'Liberation Sans', Arial, sans-serif" font-size="31" font-weight="normal" fill="#1a1a2a" text-anchor="end" textLength="61" lengthAdjust="spacingAndGlyphs" stroke="#1a1a2a" stroke-width="0.6">0.95</text>
<line x1="225.3" y1="920" x2="236.3" y2="920" stroke="#2b2b2b" stroke-width="3"/>
<text x="212.5" y="931.3" font-family="'Liberation Sans', Arial, sans-serif" font-size="31" font-weight="normal" fill="#1a1a2a" text-anchor="end" textLength="61" lengthAdjust="spacingAndGlyphs" stroke="#1a1a2a" stroke-width="0.6">0.90</text>
<line x1="236.3" y1="948" x2="1911.5" y2="948" stroke="#2b2b2b" stroke-width="3"/>
<line x1="236.3" y1="948" x2="236.3" y2="955" stroke="#2b2b2b" stroke-width="3"/>
<text x="230.3" y="987" font-family="'Liberation Sans', Arial, sans-serif" font-size="31" font-weight="normal" fill="#1a1a2a" text-anchor="middle" textLength="44" lengthAdjust="spacingAndGlyphs" stroke="#1a1a2a" stroke-width="0.6">0.0</text>
<line x1="375.9" y1="948" x2="375.9" y2="955" stroke="#2b2b2b" stroke-width="3"/>
<text x="369.9" y="987" font-family="'Liberation Sans', Arial, sans-serif" font-size="31" font-weight="normal" fill="#1a1a2a" text-anchor="middle" textLength="44" lengthAdjust="spacingAndGlyphs" stroke="#1a1a2a" stroke-width="0.6">2.0</text>
<line x1="515.4" y1="948" x2="515.4" y2="955" stroke="#2b2b2b" stroke-width="3"/>
<text x="509.4" y="987" font-family="'Liberation Sans', Arial, sans-serif" font-size="31" font-weight="normal" fill="#1a1a2a" text-anchor="middle" textLength="44" lengthAdjust="spacingAndGlyphs" stroke="#1a1a2a" stroke-width="0.6">4.0</text>
<line x1="655" y1="948" x2="655" y2="955" stroke="#2b2b2b" stroke-width="3"/>
<text x="649" y="987" font-family="'Liberation Sans', Arial, sans-serif" font-size="31" font-weight="normal" fill="#1a1a2a" text-anchor="middle" textLength="44" lengthAdjust="spacingAndGlyphs" stroke="#1a1a2a" stroke-width="0.6">6.0</text>
<line x1="794.5" y1="948" x2="794.5" y2="955" stroke="#2b2b2b" stroke-width="3"/>
<text x="788.5" y="987" font-family="'Liberation Sans', Arial, sans-serif" font-size="31" font-weight="normal" fill="#1a1a2a" text-anchor="middle" textLength="44" lengthAdjust="spacingAndGlyphs" stroke="#1a1a2a" stroke-width="0.6">8.0</text>
<line x1="934.1" y1="948" x2="934.1" y2="955" stroke="#2b2b2b" stroke-width="3"/>
<text x="928.1" y="987" font-family="'Liberation Sans', Arial, sans-serif" font-size="31" font-weight="normal" fill="#1a1a2a" text-anchor="middle" textLength="61" lengthAdjust="spacingAndGlyphs" stroke="#1a1a2a" stroke-width="0.6">10.0</text>
<line x1="1073.7" y1="948" x2="1073.7" y2="955" stroke="#2b2b2b" stroke-width="3"/>
<text x="1067.7" y="987" font-family="'Liberation Sans', Arial, sans-serif" font-size="31" font-weight="normal" fill="#1a1a2a" text-anchor="middle" textLength="61" lengthAdjust="spacingAndGlyphs" stroke="#1a1a2a" stroke-width="0.6">12.0</text>
<line x1="1213.2" y1="948" x2="1213.2" y2="955" stroke="#2b2b2b" stroke-width="3"/>
<text x="1207.2" y="987" font-family="'Liberation Sans', Arial, sans-serif" font-size="31" font-weight="normal" fill="#1a1a2a" text-anchor="middle" textLength="61" lengthAdjust="spacingAndGlyphs" stroke="#1a1a2a" stroke-width="0.6">14.0</text>
<line x1="1352.8" y1="948" x2="1352.8" y2="955" stroke="#2b2b2b" stroke-width="3"/>
<text x="1346.8" y="987" font-family="'Liberation Sans', Arial, sans-serif" font-size="31" font-weight="normal" fill="#1a1a2a" text-anchor="middle" textLength="61" lengthAdjust="spacingAndGlyphs" stroke="#1a1a2a" stroke-width="0.6">16.0</text>
<line x1="1492.3" y1="948" x2="1492.3" y2="955" stroke="#2b2b2b" stroke-width="3"/>
<text x="1486.3" y="987" font-family="'Liberation Sans', Arial, sans-serif" font-size="31" font-weight="normal" fill="#1a1a2a" text-anchor="middle" textLength="61" lengthAdjust="spacingAndGlyphs" stroke="#1a1a2a" stroke-width="0.6">18.0</text>
<line x1="1631.9" y1="948" x2="1631.9" y2="955" stroke="#2b2b2b" stroke-width="3"/>
<text x="1625.9" y="987" font-family="'Liberation Sans', Arial, sans-serif" font-size="31" font-weight="normal" fill="#1a1a2a" text-anchor="middle" textLength="61" lengthAdjust="spacingAndGlyphs" stroke="#1a1a2a" stroke-width="0.6">20.0</text>
<line x1="1771.5" y1="948" x2="1771.5" y2="955" stroke="#2b2b2b" stroke-width="3"/>
<text x="1765.5" y="987" font-family="'Liberation Sans', Arial, sans-serif" font-size="31" font-weight="normal" fill="#1a1a2a" text-anchor="middle" textLength="61" lengthAdjust="spacingAndGlyphs" stroke="#1a1a2a" stroke-width="0.6">22.0</text>
<line x1="1911" y1="948" x2="1911" y2="955" stroke="#2b2b2b" stroke-width="3"/>
<text x="1905" y="987" font-family="'Liberation Sans', Arial, sans-serif" font-size="31" font-weight="normal" fill="#1a1a2a" text-anchor="middle" textLength="61" lengthAdjust="spacingAndGlyphs" stroke="#1a1a2a" stroke-width="0.6">24.0</text>
<text x="87.5" y="977" font-family="'Liberation Sans', Arial, sans-serif" font-size="31" font-weight="normal" fill="#1a1a2a" text-anchor="start" textLength="45.5" lengthAdjust="spacingAndGlyphs" stroke="#1a1a2a" stroke-width="0.6">sec</text>
<text transform="translate(87,619) rotate(-90)" font-family="'Liberation Sans', Arial, sans-serif" font-size="30" fill="#1a1a2a" stroke="#1a1a2a" stroke-width="0.6" textLength="153" lengthAdjust="spacingAndGlyphs">Voltage(PU)</text>
<line x1="280" y1="1349" x2="280" y2="2054.5" stroke="#2b2b2b" stroke-width="3.2"/>
<line x1="264" y1="1351.5" x2="280" y2="1351.5" stroke="#2b2b2b" stroke-width="3.2"/>
<text x="243" y="1367.8" font-family="'Liberation Sans', Arial, sans-serif" font-size="44" font-weight="normal" fill="#1a1a2a" text-anchor="end" textLength="88" lengthAdjust="spacingAndGlyphs" stroke="#1a1a2a" stroke-width="0.8">0.40</text>
<line x1="264" y1="1470" x2="280" y2="1470" stroke="#2b2b2b" stroke-width="3.2"/>
<text x="243" y="1486.3" font-family="'Liberation Sans', Arial, sans-serif" font-size="44" font-weight="normal" fill="#1a1a2a" text-anchor="end" textLength="88" lengthAdjust="spacingAndGlyphs" stroke="#1a1a2a" stroke-width="0.8">0.30</text>
<line x1="264" y1="1585.5" x2="280" y2="1585.5" stroke="#2b2b2b" stroke-width="3.2"/>
<text x="243" y="1601.8" font-family="'Liberation Sans', Arial, sans-serif" font-size="44" font-weight="normal" fill="#1a1a2a" text-anchor="end" textLength="88" lengthAdjust="spacingAndGlyphs" stroke="#1a1a2a" stroke-width="0.8">0.20</text>
<line x1="264" y1="1703.5" x2="280" y2="1703.5" stroke="#2b2b2b" stroke-width="3.2"/>
<text x="243" y="1719.8" font-family="'Liberation Sans', Arial, sans-serif" font-size="44" font-weight="normal" fill="#1a1a2a" text-anchor="end" textLength="88" lengthAdjust="spacingAndGlyphs" stroke="#1a1a2a" stroke-width="0.8">0.10</text>
<line x1="264" y1="1821.3" x2="280" y2="1821.3" stroke="#2b2b2b" stroke-width="3.2"/>
<text x="243" y="1837.6" font-family="'Liberation Sans', Arial, sans-serif" font-size="44" font-weight="normal" fill="#1a1a2a" text-anchor="end" textLength="88" lengthAdjust="spacingAndGlyphs" stroke="#1a1a2a" stroke-width="0.8">0.00</text>
<line x1="264" y1="1936.7" x2="280" y2="1936.7" stroke="#2b2b2b" stroke-width="3.2"/>
<text x="243" y="1953" font-family="'Liberation Sans', Arial, sans-serif" font-size="44" font-weight="normal" fill="#1a1a2a" text-anchor="end" textLength="102" lengthAdjust="spacingAndGlyphs" stroke="#1a1a2a" stroke-width="0.8">-0.10</text>
<line x1="264" y1="2053.5" x2="280" y2="2053.5" stroke="#2b2b2b" stroke-width="3.2"/>
<text x="243" y="2069.8" font-family="'Liberation Sans', Arial, sans-serif" font-size="44" font-weight="normal" fill="#1a1a2a" text-anchor="end" textLength="102" lengthAdjust="spacingAndGlyphs" stroke="#1a1a2a" stroke-width="0.8">-0.20</text>
<line x1="280" y1="2095" x2="1898" y2="2095" stroke="#2b2b2b" stroke-width="3.2"/>
<line x1="279.5" y1="2095" x2="279.5" y2="2105" stroke="#2b2b2b" stroke-width="3.2"/>
<text x="269.5" y="2150" font-family="'Liberation Sans', Arial, sans-serif" font-size="44" font-weight="normal" fill="#1a1a2a" text-anchor="middle" textLength="62.5" lengthAdjust="spacingAndGlyphs" stroke="#1a1a2a" stroke-width="0.8">0.0</text>
<line x1="414.5" y1="2095" x2="414.5" y2="2105" stroke="#2b2b2b" stroke-width="3.2"/>
<text x="404.5" y="2150" font-family="'Liberation Sans', Arial, sans-serif" font-size="44" font-weight="normal" fill="#1a1a2a" text-anchor="middle" textLength="62.5" lengthAdjust="spacingAndGlyphs" stroke="#1a1a2a" stroke-width="0.8">2.0</text>
<line x1="549.6" y1="2095" x2="549.6" y2="2105" stroke="#2b2b2b" stroke-width="3.2"/>
<text x="539.6" y="2150" font-family="'Liberation Sans', Arial, sans-serif" font-size="44" font-weight="normal" fill="#1a1a2a" text-anchor="middle" textLength="62.5" lengthAdjust="spacingAndGlyphs" stroke="#1a1a2a" stroke-width="0.8">4.0</text>
<line x1="684.6" y1="2095" x2="684.6" y2="2105" stroke="#2b2b2b" stroke-width="3.2"/>
<text x="674.6" y="2150" font-family="'Liberation Sans', Arial, sans-serif" font-size="44" font-weight="normal" fill="#1a1a2a" text-anchor="middle" textLength="62.5" lengthAdjust="spacingAndGlyphs" stroke="#1a1a2a" stroke-width="0.8">6.0</text>
<line x1="819.7" y1="2095" x2="819.7" y2="2105" stroke="#2b2b2b" stroke-width="3.2"/>
<text x="809.7" y="2150" font-family="'Liberation Sans', Arial, sans-serif" font-size="44" font-weight="normal" fill="#1a1a2a" text-anchor="middle" textLength="62.5" lengthAdjust="spacingAndGlyphs" stroke="#1a1a2a" stroke-width="0.8">8.0</text>
<line x1="954.7" y1="2095" x2="954.7" y2="2105" stroke="#2b2b2b" stroke-width="3.2"/>
<text x="944.7" y="2150" font-family="'Liberation Sans', Arial, sans-serif" font-size="44" font-weight="normal" fill="#1a1a2a" text-anchor="middle" textLength="87" lengthAdjust="spacingAndGlyphs" stroke="#1a1a2a" stroke-width="0.8">10.0</text>
<line x1="1089.7" y1="2095" x2="1089.7" y2="2105" stroke="#2b2b2b" stroke-width="3.2"/>
<text x="1079.7" y="2150" font-family="'Liberation Sans', Arial, sans-serif" font-size="44" font-weight="normal" fill="#1a1a2a" text-anchor="middle" textLength="87" lengthAdjust="spacingAndGlyphs" stroke="#1a1a2a" stroke-width="0.8">12.0</text>
<line x1="1224.8" y1="2095" x2="1224.8" y2="2105" stroke="#2b2b2b" stroke-width="3.2"/>
<text x="1214.8" y="2150" font-family="'Liberation Sans', Arial, sans-serif" font-size="44" font-weight="normal" fill="#1a1a2a" text-anchor="middle" textLength="87" lengthAdjust="spacingAndGlyphs" stroke="#1a1a2a" stroke-width="0.8">14.0</text>
<line x1="1359.8" y1="2095" x2="1359.8" y2="2105" stroke="#2b2b2b" stroke-width="3.2"/>
<text x="1349.8" y="2150" font-family="'Liberation Sans', Arial, sans-serif" font-size="44" font-weight="normal" fill="#1a1a2a" text-anchor="middle" textLength="87" lengthAdjust="spacingAndGlyphs" stroke="#1a1a2a" stroke-width="0.8">16.0</text>
<line x1="1494.9" y1="2095" x2="1494.9" y2="2105" stroke="#2b2b2b" stroke-width="3.2"/>
<text x="1484.9" y="2150" font-family="'Liberation Sans', Arial, sans-serif" font-size="44" font-weight="normal" fill="#1a1a2a" text-anchor="middle" textLength="87" lengthAdjust="spacingAndGlyphs" stroke="#1a1a2a" stroke-width="0.8">18.0</text>
<line x1="1629.9" y1="2095" x2="1629.9" y2="2105" stroke="#2b2b2b" stroke-width="3.2"/>
<text x="1619.9" y="2150" font-family="'Liberation Sans', Arial, sans-serif" font-size="44" font-weight="normal" fill="#1a1a2a" text-anchor="middle" textLength="87" lengthAdjust="spacingAndGlyphs" stroke="#1a1a2a" stroke-width="0.8">20.0</text>
<line x1="1764.9" y1="2095" x2="1764.9" y2="2105" stroke="#2b2b2b" stroke-width="3.2"/>
<text x="1754.9" y="2150" font-family="'Liberation Sans', Arial, sans-serif" font-size="44" font-weight="normal" fill="#1a1a2a" text-anchor="middle" textLength="87" lengthAdjust="spacingAndGlyphs" stroke="#1a1a2a" stroke-width="0.8">22.0</text>
<line x1="1900" y1="2095" x2="1900" y2="2105" stroke="#2b2b2b" stroke-width="3.2"/>
<text x="1890" y="2150" font-family="'Liberation Sans', Arial, sans-serif" font-size="44" font-weight="normal" fill="#1a1a2a" text-anchor="middle" textLength="87" lengthAdjust="spacingAndGlyphs" stroke="#1a1a2a" stroke-width="0.8">24.0</text>
<text x="65.6" y="2134.7" font-family="'Liberation Sans', Arial, sans-serif" font-size="44" font-weight="normal" fill="#1a1a2a" text-anchor="start" textLength="65.5" lengthAdjust="spacingAndGlyphs" stroke="#1a1a2a" stroke-width="0.8">sec</text>
<text transform="translate(67.4,1780) rotate(-90)" font-family="'Liberation Sans', Arial, sans-serif" font-size="44" fill="#1a1a2a" stroke="#1a1a2a" stroke-width="0.8" textLength="74" lengthAdjust="spacingAndGlyphs">MW</text>
<path d="M972.5,318.8 C954.8,317.5 899.3,315.2 866,311 C832.7,306.8 795,299 772.5,293.7 C750,288.4 739.3,283.7 731,279 C722.7,274.3 731.2,270.9 722.5,265.6 C713.8,260.3 700.9,252.4 679,247 C657.1,241.6 620,236 591,233 C562,230 519.3,229.7 505,229" fill="none" stroke="#2a2a2a" stroke-width="1.5"/>
<polygon points="481,228.5 501.2,219.9 500.8,237.9" fill="#000"/>
<path d="M995.6,294.7 C993.5,294.8 987.7,296.3 983,295.5 C978.3,294.7 974,293 967.5,290 C961,287 949.8,281.7 944,277.5 C938.2,273.3 935.5,269.2 933,265 C930.5,260.8 929.7,254.2 929,252" fill="none" stroke="#2a2a2a" stroke-width="1.5"/>
<polygon points="921.4,233.7 937.4,248.7 920.8,255.6" fill="#000"/>
<path d="M1399.3,406.3 C1398.9,398.8 1399.3,372.7 1396.8,361 C1394.3,349.3 1389.2,342.5 1384.2,336 C1379.2,329.5 1372,325.5 1366.6,322.2 C1361.2,318.9 1356.6,320.8 1351.6,316 C1346.6,311.2 1340.7,300.9 1336.5,293.3 C1332.3,285.8 1328.9,277.6 1326.5,270.7 C1324.1,263.8 1323,255.1 1322.3,252" fill="none" stroke="#2a2a2a" stroke-width="1.5"/>
<polygon points="1320.2,233 1331.3,251.9 1313.5,253.9" fill="#000"/>
<path d="M1496.3,439.5 C1500,385 1560,338 1600.7,333.7 C1640,329 1678,292 1690,250" fill="none" stroke="#2a2a2a" stroke-width="1.5"/>
<polygon points="1693.2,229.2 1681.4,248.7 1699.2,253.3" fill="#000"/>
<text x="384.8" y="200.7" font-family="'Liberation Serif', 'Times New Roman', serif" font-size="62" font-weight="bold" fill="#000" text-anchor="start" textLength="219.4" lengthAdjust="spacingAndGlyphs">Section1</text>
<text x="799.2" y="204" font-family="'Liberation Serif', 'Times New Roman', serif" font-size="62" font-weight="bold" fill="#000" text-anchor="start" textLength="220" lengthAdjust="spacingAndGlyphs">Section2</text>
<text x="1196.8" y="204.2" font-family="'Liberation Serif', 'Times New Roman', serif" font-size="62" font-weight="bold" fill="#000" text-anchor="start" textLength="220.3" lengthAdjust="spacingAndGlyphs">Section3</text>
<text x="1572.2" y="201" font-family="'Liberation Serif', 'Times New Roman', serif" font-size="62" font-weight="bold" fill="#000" text-anchor="start" textLength="220.6" lengthAdjust="spacingAndGlyphs">Section4</text>
<path d="M751,1843 C750.2,1835.8 750.3,1814.5 746,1800 C741.7,1785.5 734.9,1770.2 725,1756 C715.1,1741.8 701.8,1724.7 686.7,1714.6 C671.6,1704.5 652,1701.9 634.6,1695.5 C617.2,1689.1 599.3,1686.5 582.5,1676.4 C565.7,1666.3 545.2,1649.9 534,1634.7 C522.8,1619.5 518.9,1597.1 515,1585 C511.1,1572.9 511.2,1565.8 510.5,1562" fill="none" stroke="#2a2a2a" stroke-width="1.5"/>
<polygon points="509.6,1542.7 519.5,1562.3 501.5,1563.1" fill="#000"/>
<path d="M1049,1846.5 C1048.4,1836.1 1049,1804.8 1045.5,1784 C1042,1763.2 1034.4,1736.5 1028,1721.5 C1021.6,1706.5 1014.5,1703.6 1007,1693.8 C999.5,1683.9 990.5,1679.3 983,1662.5 C975.5,1645.7 966.2,1609.6 962,1593 C957.8,1576.4 958.7,1568 958,1563" fill="none" stroke="#2a2a2a" stroke-width="1.5"/>
<polygon points="957,1544.4 967.1,1563.9 949.1,1564.9" fill="#000"/>
<path d="M1035.7,1622 C1036.1,1616.1 1036.3,1596.5 1038,1586.4 C1039.7,1576.3 1042.4,1570.5 1045.7,1561.4 C1049,1552.3 1053.8,1539.6 1058,1532 C1062.2,1524.4 1066.5,1520.5 1070.7,1515.7 C1074.9,1510.9 1081,1505.1 1083,1503" fill="none" stroke="#2a2a2a" stroke-width="1.5"/>
<polygon points="1079,1495 1099,1497.4 1085.6,1511.6" fill="#000"/>
<path d="M1477.8,1683.3 C1486.5,1681.6 1512.6,1677.6 1530,1673 C1547.4,1668.4 1566.2,1663.1 1582,1655.6 C1597.8,1648.1 1613.5,1637.3 1625,1628 C1636.5,1618.7 1643.5,1608.8 1651,1600 C1658.5,1591.2 1665.5,1581.5 1670,1575 C1674.5,1568.5 1676.7,1563.3 1678,1561" fill="none" stroke="#2a2a2a" stroke-width="1.5"/>
<polygon points="1684,1541.6 1686.7,1563.4 1669.5,1558" fill="#000"/>
<text x="388.2" y="1514.7" font-family="'Liberation Serif', 'Times New Roman', serif" font-size="60" font-weight="bold" fill="#000" text-anchor="start" textLength="213.7" lengthAdjust="spacingAndGlyphs">Section1</text>
<text x="835.2" y="1518" font-family="'Liberation Serif', 'Times New Roman', serif" font-size="60" font-weight="bold" fill="#000" text-anchor="start" textLength="216" lengthAdjust="spacingAndGlyphs">Section2</text>
<text x="1120.8" y="1518" font-family="'Liberation Serif', 'Times New Roman', serif" font-size="60" font-weight="bold" fill="#000" text-anchor="start" textLength="216.4" lengthAdjust="spacingAndGlyphs">Section3</text>
<text x="1553.5" y="1517.6" font-family="'Liberation Serif', 'Times New Roman', serif" font-size="60" font-weight="bold" fill="#000" text-anchor="start" textLength="216.5" lengthAdjust="spacingAndGlyphs">Section4</text>
<text x="644" y="1170" font-family="'Liberation Serif', 'Times New Roman', serif" font-size="84" font-weight="normal" fill="#000" text-anchor="start" textLength="296" lengthAdjust="spacingAndGlyphs">Voltage</text>
<text x="975" y="1170" font-family="'Liberation Serif', 'Times New Roman', serif" font-size="84" font-weight="normal" fill="#000" text-anchor="start" textLength="76" lengthAdjust="spacingAndGlyphs">of</text>
<text x="1085" y="1170" font-family="'Liberation Serif', 'Times New Roman', serif" font-size="84" font-weight="normal" fill="#000" text-anchor="start" textLength="172.5" lengthAdjust="spacingAndGlyphs">each</text>
<text x="1288" y="1170" font-family="'Liberation Serif', 'Times New Roman', serif" font-size="84" font-weight="normal" fill="#000" text-anchor="start" textLength="262.6" lengthAdjust="spacingAndGlyphs">section</text>
<text x="549.5" y="1170" font-family="'Liberation Serif', 'Times New Roman', serif" font-size="77" font-weight="normal" fill="#000" text-anchor="start" textLength="21" lengthAdjust="spacingAndGlyphs">(</text>
<text x="573.5" y="1170" font-family="'Liberation Serif', 'Times New Roman', serif" font-size="77" font-weight="bold" fill="#000" text-anchor="start" textLength="36" lengthAdjust="spacingAndGlyphs">a</text>
<text x="610.5" y="1170" font-family="'Liberation Serif', 'Times New Roman', serif" font-size="77" font-weight="normal" fill="#000" text-anchor="start" textLength="21" lengthAdjust="spacingAndGlyphs">)</text>
<text x="751" y="2358" font-family="'Liberation Serif', 'Times New Roman', serif" font-size="72" font-weight="normal" fill="#000" text-anchor="start" textLength="212.6" lengthAdjust="spacingAndGlyphs">Power</text>
<text x="987" y="2358" font-family="'Liberation Serif', 'Times New Roman', serif" font-size="72" font-weight="normal" fill="#000" text-anchor="start" textLength="69.5" lengthAdjust="spacingAndGlyphs">of</text>
<text x="1070" y="2358" font-family="'Liberation Serif', 'Times New Roman', serif" font-size="72" font-weight="normal" fill="#000" text-anchor="start" textLength="149.8" lengthAdjust="spacingAndGlyphs">each</text>
<text x="1241" y="2358" font-family="'Liberation Serif', 'Times New Roman', serif" font-size="72" font-weight="normal" fill="#000" text-anchor="start" textLength="230" lengthAdjust="spacingAndGlyphs">section</text>
<text x="625.8" y="2360" font-family="'Liberation Serif', 'Times New Roman', serif" font-size="77" font-weight="normal" fill="#000" text-anchor="start" textLength="20.5" lengthAdjust="spacingAndGlyphs">(</text>
<text x="643.5" y="2360" font-family="'Liberation Serif', 'Times New Roman', serif" font-size="77" font-weight="bold" fill="#000" text-anchor="start" textLength="39" lengthAdjust="spacingAndGlyphs">b</text>
<text x="679" y="2360" font-family="'Liberation Serif', 'Times New Roman', serif" font-size="77" font-weight="normal" fill="#000" text-anchor="start" textLength="20.5" lengthAdjust="spacingAndGlyphs">)</text>
</svg></body></html>
